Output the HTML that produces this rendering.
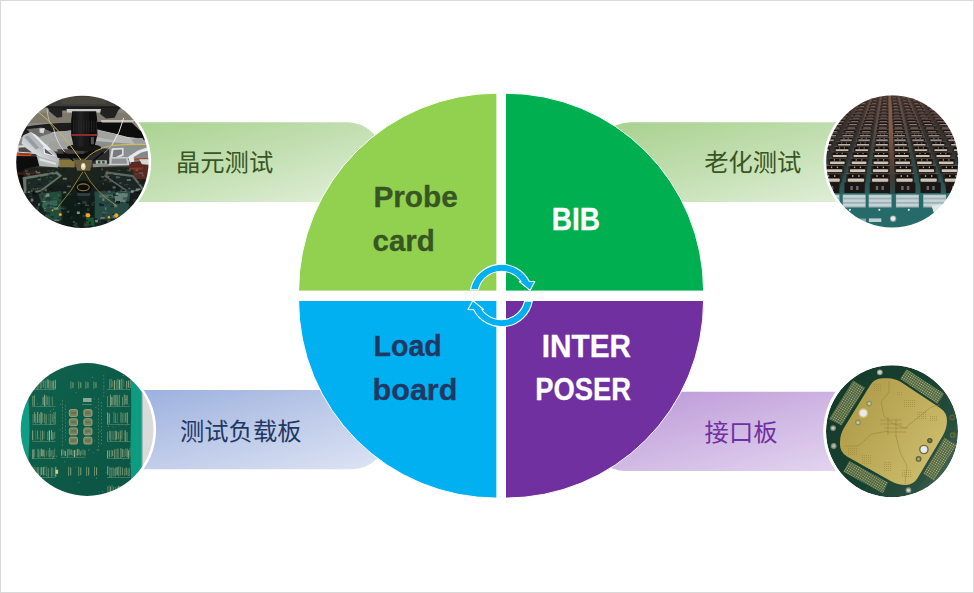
<!DOCTYPE html>
<html lang="zh-CN">
<head>
<meta charset="utf-8">
<title>测试板卡</title>
<style>
html,body{margin:0;padding:0;background:#fff;}
body{width:974px;height:593px;overflow:hidden;position:relative;font-family:"Liberation Sans","Noto Sans CJK SC",sans-serif;}
svg{position:absolute;left:0;top:0;display:block;}
.en{font-family:"Liberation Sans",sans-serif;font-weight:bold;font-size:29px;}
.cn{font-family:"Liberation Sans","Noto Sans CJK SC",sans-serif;font-size:24.3px;}
</style>
</head>
<body>
<svg width="974" height="593" viewBox="0 0 974 593">
<defs>
<linearGradient id="gGreen" x1="0" y1="0" x2="1" y2="1">
  <stop offset="0" stop-color="#a6d08c"/>
  <stop offset="0.5" stop-color="#c3dfb2"/>
  <stop offset="1" stop-color="#e4f1dc"/>
</linearGradient>
<linearGradient id="gBlue" x1="0" y1="0" x2="1" y2="1">
  <stop offset="0" stop-color="#97addd"/>
  <stop offset="0.5" stop-color="#bcc9e8"/>
  <stop offset="1" stop-color="#dde4f4"/>
</linearGradient>
<linearGradient id="gPurple" x1="0" y1="0" x2="1" y2="1">
  <stop offset="0" stop-color="#b995d6"/>
  <stop offset="0.5" stop-color="#d0b8e4"/>
  <stop offset="1" stop-color="#e6d9f1"/>
</linearGradient>
<clipPath id="cp1"><circle cx="82.4" cy="161.9" r="66.2"/></clipPath>
<clipPath id="cp2"><circle cx="892.2" cy="161.6" r="66"/></clipPath>
<clipPath id="cp3"><circle cx="87.1" cy="429.5" r="66.4"/></clipPath>
<clipPath id="cp4"><circle cx="892" cy="431.3" r="66"/></clipPath>
<filter id="soft" x="-5%" y="-5%" width="110%" height="110%"><feGaussianBlur stdDeviation="0.55"/></filter>
<filter id="soft2" x="-5%" y="-5%" width="110%" height="110%"><feGaussianBlur stdDeviation="0.9"/></filter>
<linearGradient id="p4disk" x1="0" y1="0" x2="1" y2="0.6">
  <stop offset="0" stop-color="#14382a"/>
  <stop offset="0.6" stop-color="#184030"/>
  <stop offset="0.92" stop-color="#2a5040"/>
  <stop offset="1" stop-color="#3d5f50"/>
</linearGradient>
<linearGradient id="p4gold" x1="0" y1="0.2" x2="1" y2="0.8">
  <stop offset="0" stop-color="#ad9a48"/>
  <stop offset="0.45" stop-color="#bcaa58"/>
  <stop offset="1" stop-color="#cfbf6f"/>
</linearGradient>
<pattern id="p4dots0" width="2.2" height="2.2" patternUnits="userSpaceOnUse" patternTransform="rotate(33)">
  <rect width="2.2" height="2.2" fill="#32523a"/><rect x="0.4" y="0.4" width="1.35" height="1.35" fill="#bdb877"/>
</pattern>
<pattern id="p4dots1" width="2.2" height="2.2" patternUnits="userSpaceOnUse" patternTransform="rotate(33)">
  <rect width="2.2" height="2.2" fill="#32523a"/><rect x="0.4" y="0.4" width="1.35" height="1.35" fill="#c6c07e"/>
</pattern>
<linearGradient id="p3pcb" x1="0" y1="0" x2="1" y2="1">
  <stop offset="0" stop-color="#136350"/>
  <stop offset="0.5" stop-color="#0f5a47"/>
  <stop offset="1" stop-color="#0d5341"/>
</linearGradient>
<linearGradient id="p2base" x1="0" y1="0" x2="0" y2="1">
  <stop offset="0" stop-color="#4a3630"/>
  <stop offset="0.4" stop-color="#33302e"/>
  <stop offset="1" stop-color="#243e3d"/>
</linearGradient>
<linearGradient id="p2haze" x1="0" y1="0" x2="0" y2="1">
  <stop offset="0" stop-color="#5a4038" stop-opacity="0.45"/>
  <stop offset="1" stop-color="#5a4038" stop-opacity="0"/>
</linearGradient>
<filter id="soft3" x="-5%" y="-5%" width="110%" height="110%"><feGaussianBlur stdDeviation="0.7"/></filter>
<linearGradient id="p2gap" gradientUnits="userSpaceOnUse" x1="0" y1="94" x2="0" y2="194">
  <stop offset="0" stop-color="#6f5b55"/>
  <stop offset="0.35" stop-color="#5a504d"/>
  <stop offset="0.6" stop-color="#3a4645"/>
  <stop offset="0.8" stop-color="#2a4f4d"/>
  <stop offset="1" stop-color="#2f5e5b"/>
</linearGradient>
<linearGradient id="p2gapc" gradientUnits="userSpaceOnUse" x1="0" y1="94" x2="0" y2="194">
  <stop offset="0" stop-color="#96705f"/>
  <stop offset="0.35" stop-color="#86604f"/>
  <stop offset="0.65" stop-color="#5f463c"/>
  <stop offset="0.85" stop-color="#3f3c38"/>
  <stop offset="1" stop-color="#2c4a48"/>
</linearGradient>
<linearGradient id="p1low" x1="0" y1="0" x2="0" y2="1">
  <stop offset="0" stop-color="#20251f"/>
  <stop offset="0.5" stop-color="#161d1a"/>
  <stop offset="1" stop-color="#142420"/>
</linearGradient>
<linearGradient id="p1lens" x1="0" y1="0" x2="1" y2="0">
  <stop offset="0" stop-color="#0c0c0c"/>
  <stop offset="0.35" stop-color="#232323"/>
  <stop offset="0.6" stop-color="#141414"/>
  <stop offset="1" stop-color="#070707"/>
</linearGradient>
<linearGradient id="p1arm" x1="0" y1="1" x2="1" y2="0">
  <stop offset="0" stop-color="#9ea2a5"/>
  <stop offset="0.3" stop-color="#d9dcde"/>
  <stop offset="0.55" stop-color="#b2b6b9"/>
  <stop offset="0.8" stop-color="#e4e6e8"/>
  <stop offset="1" stop-color="#b9bcbf"/>
</linearGradient>
</defs>
<rect width="974" height="593" fill="#fff"/>
<!-- label bands -->
<path d="M100 122.3 H347 A37 37 0 0 1 384 159.3 V202 H100 Z" fill="url(#gGreen)"/>
<path d="M880 122.3 H631 A37 37 0 0 0 594 159.3 V202 H880 Z" fill="url(#gGreen)"/>
<path d="M100 390 H387 V434.2 A35 35 0 0 1 352 469.2 H100 Z" fill="url(#gBlue)"/>
<path d="M880 391.8 H594 V440 A31 31 0 0 0 625 471 H880 Z" fill="url(#gPurple)"/>
<!-- main four-part circle (four quarter pies) -->
<g stroke="#fff" stroke-width="1">
<path d="M496.9 291.1 H298.6 A198.3 197.9 0 0 1 496.9 93.2 Z" fill="#92d050"/>
<path d="M505.5 291.1 V93.2 A198.1 197.9 0 0 1 703.6 291.1 Z" fill="#00b050"/>
<path d="M496.9 300.5 V498.1 A198.3 197.6 0 0 1 298.6 300.5 Z" fill="#00b0f0"/>
<path d="M505.5 300.5 H703.6 A198.1 197.6 0 0 1 505.5 498.1 Z" fill="#7030a0"/>
</g>
<!-- cycle arrows -->
<g fill="#00b0f0" stroke="#fff" stroke-width="1.1" stroke-linejoin="round">
<path d="M470.5 289.7 A31.4 31.4 0 0 1 529.2 281.3 L534.8 281.5 L530 290.4 L519.2 281.5 L521 281.5 A23.8 23.8 0 0 0 478.3 289.7 Z"/>
<path d="M532.3 301.3 A31.4 31.4 0 0 1 473.6 309.7 L468 309.5 L472.8 300.6 L483.6 309.5 L481.8 309.5 A23.8 23.8 0 0 0 524.5 301.3 Z"/>
</g>
<!-- photo 1 : wafer probe station -->
<g>
<circle cx="82.4" cy="161.9" r="68.8" fill="#fff"/>
<g clip-path="url(#cp1)"><g filter="url(#soft3)">
<rect x="14" y="94" width="140" height="70" fill="#8b887e"/>
<rect x="14" y="160" width="140" height="72" fill="url(#p1low)"/>
<path d="M14.0 112.7 L154.0 112.7 L154.0 122.7 L14.0 122.7Z" fill="#7f7a6e" />
<path d="M19.7 127.8 Q84.0 115.6 149.1 132.8 L149.1 141.4 Q84.0 122.7 19.7 137.1 Z" fill="#1b1b1b"/>
<path d="M22.6 137.1 Q84.0 122.7 147.7 141.4 L147.7 151.5 L22.6 151.5 Z" fill="#b3b4b1"/>
<path d="M94.5 129.9 L129.0 135.7 L131.9 144.3 L97.4 142.9Z" fill="#cfd0ce" />
<path d="M37.0 135.7 L71.5 129.9 L71.5 141.4 L42.7 144.3Z" fill="#a4a5a2" />
<path d="M14.0 148.6 L154.0 148.6 L154.0 164.0 L14.0 164.0Z" fill="#3a3b3a" />
<path d="M49.9 141.4 L117.5 141.4 L123.2 151.5 L45.6 151.5Z" fill="#9fa09c" />
<path d="M57.1 149.3 L111.7 149.3 L106.0 164.0 L62.9 164.0Z" fill="#45423e" />
<path d="M14.0 94.0 L154.0 94.0 L154.0 102.6 L123.2 107.7 L45.6 107.7 L14.0 102.6Z" fill="#3c3e3b" />
<path d="M61.4 96.9 L106.0 96.9 L106.0 104.1 L61.4 104.1Z" fill="#4f4f40" opacity="0.6"/>
<path d="M46.3 106.2 L123.2 106.2 L117.5 110.5 L49.9 110.5Z" fill="#1d1d1d" />
<path d="M48.5 107.7 L62.2 107.7 L62.2 117.0 L57.1 117.7 L49.2 111.2Z" fill="#232323" />
<path d="M100.2 107.7 L119.6 107.7 L114.6 117.7 L106.0 118.4 L100.2 114.1Z" fill="#232323" />
<path d="M66.5 109.1 L101.0 109.1 L100.2 112.4 L67.2 112.4Z" fill="#c9c9c7" />
<path d="M14.0 158.6 L154.0 158.6 L154.0 167.2 L14.0 167.2Z" fill="#3d3f3c" />
<path d="M35.6 160.0 L74.4 160.0 L73.7 167.2 L38.4 165.5Z" fill="#8f938f" />
<path d="M92.3 160.0 L130.4 160.0 L129.0 165.5 L93.1 167.2Z" fill="#8a8e89" />
<path d="M26.6 129.3 L41.8 127.6 L52.8 132.6 L39.3 136.9 L30.0 132.6Z" fill="#6d6d69" />
<path d="M39.3 128.4 L44.8 128.0 L43.5 133.5 L39.7 132.6Z" fill="#d8d8d4" />
<path d="M23.3 135.2 L30.9 131.8 L60.0 157.1 L58.3 162.6 L39.3 157.1 L21.6 143.2Z" fill="url(#p1arm)" />
<path d="M30.9 132.6 L35.1 134.3 L51.1 149.5 L47.7 150.4Z" fill="#f2f4f5" opacity="0.85"/>
<path d="M24.1 136.9 L28.3 135.6 L39.3 147.8 L35.9 149.5Z" fill="#8f9396" opacity="0.8"/>
<path d="M36.3 155.4 L58.7 162.2 L57.8 167.6 L39.3 166.0 L35.5 159.6Z" fill="#b4b8b8" />
<path d="M39.3 157.9 L56.2 163.0 L55.7 164.7 L39.3 160.5Z" fill="#dfe1e1" />
<path d="M43.1 146.3 L55.9 156.4 L44.2 153.9Z" fill="#f1f2f2" />
<path d="M44.5 148.2 L53.6 155.4 L45.2 152.9Z" fill="#56595b" />
<path d="M16.5 145.7 L25.4 144.9 L36.3 152.0 L35.5 154.1 L16.5 152.5Z" fill="#d4d6d7" />
<path d="M18.6 147.7 L25.0 147.2 L32.1 152.5 L18.6 151.8Z" fill="#4b4d4d" />
<path d="M15.7 153.1 L31.3 153.6 L31.3 156.1 L15.7 156.1Z" fill="#c8502c" />
<path d="M14.0 156.3 L36.8 156.4 L39.3 166.0 L14.0 170.6Z" fill="#0b0b0b" />
<path d="M19.1 153.6 L30.0 153.9 L30.0 154.7 L19.1 154.6Z" fill="#2a1a14" opacity="0.6"/>
<path d="M95.8 122.1 L131.2 122.1 L143.4 133.9 L142.6 138.1 L127.8 136.9 L96.6 128.9Z" fill="#0d0d0d" />
<path d="M100.9 120.0 L134.6 120.0 L133.3 122.4 L101.7 122.4Z" fill="#c6c2b6" />
<path d="M95.4 129.1 L116.9 134.2 L131.2 139.2 L142.2 137.9 L146.4 144.5 L111.8 145.3 L95.0 141.1Z" fill="#b9b9b6" />
<path d="M95.8 129.7 L116.0 134.5 L113.5 140.2 L95.4 136.9Z" fill="#a2a2a0" />
<path d="M131.2 139.6 L142.2 138.0 L146.0 144.0 L134.6 144.0Z" fill="#9a9da0" />
<path d="M95.0 141.1 L146.4 144.9 L146.8 148.7 L127.8 157.1 L109.3 163.8 L95.8 155.4Z" fill="#8d9093" />
<path d="M111.8 148.2 L123.6 147.8 L123.6 155.4 L109.3 162.2Z" fill="#dcdedf" />
<path d="M113.5 149.9 L121.9 149.5 L121.9 154.1 L112.2 158.8Z" fill="#77797c" />
<path d="M109.3 157.1 L127.8 157.1 L129.5 165.1 L108.5 165.1Z" fill="#c9cbcc" />
<path d="M111.8 158.8 L126.2 158.4 L127.0 163.8 L111.4 163.8Z" fill="#8f9294" />
<path d="M127.8 157.1 L138.0 150.4 L146.8 147.4 L149.3 149.9 L149.3 168.1 L131.2 168.1 L130.0 162.2Z" fill="#e6e7e7" />
<path d="M133.7 157.1 L141.3 152.5 L148.1 150.8 L148.5 167.2 L134.6 167.2Z" fill="#85888b" />
<path d="M134.6 158.4 L148.5 157.9 L148.5 160.1 L134.6 160.3Z" fill="#a5472f" />
<path d="M129.5 163.8 L149.3 163.8 L149.3 170.6 L129.5 170.6Z" fill="#5a2a22" />
<path d="M84.0 147.8 L109.3 147.8 L109.3 163.8 L84.0 163.8Z" fill="#2b2c2c" />
<path d="M95.0 141.5 L111.8 145.3 L109.3 148.7 L94.1 147.8Z" fill="#8a8c8e" />
<path d="M95.8 160.3 L106.8 160.3 L106.8 163.8 L95.8 163.8Z" fill="#b9c2b4" />
<path d="M97.9 160.9 L100.4 160.9 L100.4 163.4 L97.9 163.4Z" fill="#3b4a3c" />
<path d="M102.1 160.9 L104.7 160.9 L104.7 163.4 L102.1 163.4Z" fill="#3b4a3c" />
<path d="M56.2 153.7 L84.0 153.7 L95.0 147.8 L95.0 153.7 L84.0 158.4 L57.8 157.9Z" fill="#111111" />
<path d="M59.5 159.6 L74.7 159.6 L74.7 167.2 L59.5 167.2Z" fill="#85763e" />
<ellipse cx="84.1" cy="147.5" rx="17" ry="3.6" fill="#161616"/>
<path d="M72.2 111.2 L96.2 111.2 L97.1 119.9 L97.4 135.0 L94.5 146.5 L73.7 146.5 L71.1 135.0 L71.2 119.9Z" fill="url(#p1lens)" />
<path d="M71.2 134.1 L97.4 134.1 L97.2 136.0 L71.4 136.0Z" fill="#8e2e2a" />
<path d="M72.9 120.6 L73.8 120.6 L73.8 132.1 L72.9 132.1Z" fill="#2c2c2c" opacity="0.8"/>
<path d="M75.5 120.6 L76.4 120.6 L76.4 132.1 L75.5 132.1Z" fill="#2c2c2c" opacity="0.8"/>
<path d="M78.1 120.6 L79.0 120.6 L79.0 132.1 L78.1 132.1Z" fill="#2c2c2c" opacity="0.8"/>
<path d="M80.7 120.6 L81.6 120.6 L81.6 132.1 L80.7 132.1Z" fill="#2c2c2c" opacity="0.8"/>
<path d="M83.3 120.6 L84.1 120.6 L84.1 132.1 L83.3 132.1Z" fill="#2c2c2c" opacity="0.8"/>
<path d="M85.9 120.6 L86.7 120.6 L86.7 132.1 L85.9 132.1Z" fill="#2c2c2c" opacity="0.8"/>
<path d="M88.5 120.6 L89.3 120.6 L89.3 132.1 L88.5 132.1Z" fill="#2c2c2c" opacity="0.8"/>
<path d="M91.0 120.6 L91.9 120.6 L91.9 132.1 L91.0 132.1Z" fill="#2c2c2c" opacity="0.8"/>
<path d="M93.6 120.6 L94.5 120.6 L94.5 132.1 L93.6 132.1Z" fill="#2c2c2c" opacity="0.8"/>
<path d="M96.2 120.6 L97.1 120.6 L97.1 132.1 L96.2 132.1Z" fill="#2c2c2c" opacity="0.8"/>
<path d="M90.9 137.1 L93.9 137.1 L93.9 144.3 L90.9 144.3Z" fill="#8a8a8a" opacity="0.55"/>
<path d="M63.7 152.0 L73.0 160.5" fill="none" stroke="#0a0a0a" stroke-width="1.4" stroke-linecap="round" stroke-linejoin="round" />
<path d="M103.0 152.7 L93.3 160.5" fill="none" stroke="#0a0a0a" stroke-width="1.5" stroke-linecap="round" stroke-linejoin="round" />
<path d="M53.6 128.4 Q56.2 141.9 64.6 152.0" fill="none" stroke="#e0e0da" stroke-width="0.9" stroke-linecap="round" opacity="0.9"/>
<path d="M47.1 109.1 Q47.8 122.7 53.6 128.4" fill="none" stroke="#d8d8d2" stroke-width="0.8" stroke-linecap="round" opacity="0.8"/>
<path d="M123.6 118.3 Q120.3 132.6 111.8 145.3" fill="none" stroke="#ecece6" stroke-width="1.0" stroke-linecap="round" opacity="0.95"/>
<path d="M111.8 145.3 Q107.6 150.4 104.2 152.9" fill="none" stroke="#d0d0ca" stroke-width="0.8" stroke-linecap="round" opacity="0.7"/>
<path d="M38.4 112.0 Q59.5 128.4 81.0 160.1" fill="none" stroke="#cdb84a" stroke-width="1.0" stroke-linecap="round" />
<path d="M84.0 160.5 Q94.1 148.7 111.8 145.5" fill="none" stroke="#cdb84a" stroke-width="0.9" stroke-linecap="round" />
<path d="M111.8 145.5 Q131.2 144.0 148.1 144.5" fill="none" stroke="#d2be50" stroke-width="1.1" stroke-linecap="round" />
<path d="M74.4 160.0 L92.3 160.0 L90.2 170.8 L77.2 170.8Z" fill="#6b5f40" />
<ellipse cx="83.3" cy="166.5" rx="2.3" ry="3.4" fill="#e9d9a4"/>
<ellipse cx="83.3" cy="165.7" rx="1.2" ry="1.7" fill="#fffbe8"/>
<path d="M130.4 162.2 L149.1 160.0 L152.0 180.1 L134.7 178.7Z" fill="#5a2a22" />
<path d="M139.1 159.3 L152.0 159.3 L152.0 165.0 L141.9 164.3Z" fill="#d6d6cf" />
<path d="M129.0 167.9 L143.4 167.2 L143.4 169.2 L129.0 169.8Z" fill="#8a3426" />
<path d="M14.0 165.7 L24.1 167.2 L22.6 193.1 L14.0 193.1Z" fill="#0e0e0e" />
<path d="M16.9 172.6 L41.3 171.5 L41.3 173.7 L16.9 174.7Z" fill="#5a1c18" opacity="0.8"/>
<path d="M22.6 177.2 L57.1 171.2 L62.2 175.8 L40.6 191.9 L24.1 193.3Z" fill="#66756a" />
<path d="M26.2 179.3 L56.0 174.1 L58.8 176.2 L39.9 190.2 L26.6 191.6Z" fill="#1f2b27" />
<path d="M106.0 171.2 L133.3 175.1 L144.1 188.7 L129.0 193.3 L103.8 176.1Z" fill="#5e695f" />
<path d="M108.1 174.1 L132.2 177.0 L141.2 188.3 L129.0 191.6 L107.1 176.5Z" fill="#1e2825" />
<ellipse cx="83.3" cy="187.3" rx="8.5" ry="6.5" fill="#0d0f0e"/>
<ellipse cx="83.3" cy="187.3" rx="6" ry="3.4" fill="none" stroke="#8a7a3e" stroke-width="1.1"/>
<path d="M77.2 193.1 L90.2 193.1 L88.7 203.1 L78.7 203.1Z" fill="#3f5a56" opacity="0.6"/>
<path d="M38.4 193.8 L61.4 190.9 L61.4 220.4 L47.1 220.4Z" fill="#234d3e" />
<path d="M39.9 201.7 L57.1 200.2 L57.1 207.4 L42.7 208.2Z" fill="#4b8672" opacity="0.45"/>
<path d="M94.5 191.6 L130.4 190.9 L127.6 217.5 L94.5 220.4Z" fill="#284b44" />
<path d="M114.6 193.3 L127.8 193.3 L126.8 202.0 L114.6 202.0Z" fill="#8fa39c" opacity="0.6"/>
<path d="M98.8 194.5 L113.2 194.5 L113.2 197.7 L98.8 197.7Z" fill="#6f978b" opacity="0.4"/>
<path d="M62.9 195.9 L94.5 195.9 L94.5 229.0 L62.9 229.0Z" fill="#0f1a18" opacity="0.85"/>
<path d="M85.9 217.5 L94.5 217.5 L94.5 227.6 L85.9 227.6Z" fill="#1f6a3c" opacity="0.7"/>
<rect x="76.8" y="211.5" width="3" height="2.5" fill="#99aaa2" opacity="0.83"/>
<rect x="42.7" y="221.8" width="3" height="3" fill="#16211d" opacity="0.49"/>
<rect x="57.4" y="191.8" width="5" height="1" fill="#20382f" opacity="0.89"/>
<rect x="143.4" y="215.5" width="4" height="1.5" fill="#20382f" opacity="0.46"/>
<rect x="42.7" y="198.2" width="1.5" height="2.5" fill="#3d5d4d" opacity="0.65"/>
<rect x="127.5" y="209.8" width="5" height="2" fill="#7c9186" opacity="0.45"/>
<rect x="29.0" y="215.5" width="3" height="3" fill="#0b1210" opacity="0.77"/>
<rect x="59.0" y="197.6" width="2.5" height="1" fill="#0b1210" opacity="0.70"/>
<rect x="32.0" y="192.5" width="2.5" height="2.5" fill="#0b1210" opacity="0.88"/>
<rect x="128.2" y="188.0" width="2" height="1" fill="#7c9186" opacity="0.62"/>
<rect x="110.2" y="205.6" width="4" height="1.5" fill="#101a2a" opacity="0.57"/>
<rect x="29.3" y="202.0" width="3" height="1" fill="#16211d" opacity="0.56"/>
<rect x="31.1" y="190.5" width="3" height="1.5" fill="#101a2a" opacity="0.70"/>
<rect x="113.1" y="193.5" width="5" height="2.5" fill="#0b1210" opacity="0.63"/>
<rect x="146.7" y="188.0" width="4" height="2" fill="#0b1210" opacity="0.54"/>
<rect x="69.3" y="223.9" width="5" height="3" fill="#0b1210" opacity="0.47"/>
<rect x="37.0" y="206.5" width="1.5" height="3" fill="#3d5d4d" opacity="0.82"/>
<rect x="45.1" y="214.7" width="1.5" height="3" fill="#3d5d4d" opacity="0.62"/>
<rect x="76.9" y="228.3" width="3" height="3" fill="#16211d" opacity="0.84"/>
<rect x="41.8" y="194.5" width="2" height="3" fill="#1f2f2a" opacity="0.78"/>
<rect x="38.6" y="214.4" width="4" height="1.5" fill="#101a2a" opacity="0.88"/>
<rect x="132.7" y="213.3" width="3" height="1" fill="#0b1210" opacity="0.50"/>
<rect x="114.2" y="204.4" width="3" height="3" fill="#7c9186" opacity="0.58"/>
<rect x="40.8" y="218.3" width="1.5" height="1.5" fill="#1f2f2a" opacity="0.67"/>
<rect x="103.0" y="213.9" width="1.5" height="2" fill="#1f2f2a" opacity="0.86"/>
<rect x="44.5" y="188.7" width="2.5" height="2.5" fill="#7c9186" opacity="0.56"/>
<rect x="24.1" y="199.8" width="4" height="3" fill="#16211d" opacity="0.49"/>
<rect x="36.0" y="206.9" width="2.5" height="3" fill="#20382f" opacity="0.88"/>
<rect x="94.7" y="226.8" width="3" height="2" fill="#3a3f3a" opacity="0.59"/>
<rect x="22.4" y="213.1" width="1.5" height="2.5" fill="#0b1210" opacity="0.78"/>
<rect x="59.5" y="230.0" width="1.5" height="2.5" fill="#99aaa2" opacity="0.62"/>
<rect x="23.8" y="227.3" width="5" height="1.5" fill="#3d5d4d" opacity="0.61"/>
<rect x="107.1" y="225.8" width="3" height="1" fill="#7c9186" opacity="0.71"/>
<rect x="99.2" y="204.1" width="4" height="1" fill="#20382f" opacity="0.48"/>
<rect x="29.8" y="192.9" width="2.5" height="2.5" fill="#3a3f3a" opacity="0.60"/>
<rect x="139.5" y="217.2" width="3" height="2.5" fill="#7c9186" opacity="0.83"/>
<rect x="28.9" y="219.5" width="1.5" height="2" fill="#20382f" opacity="0.49"/>
<rect x="20.9" y="228.2" width="1.5" height="2.5" fill="#20382f" opacity="0.75"/>
<rect x="81.2" y="225.6" width="2.5" height="2" fill="#16211d" opacity="0.76"/>
<rect x="44.3" y="195.1" width="2.5" height="2.5" fill="#7c9186" opacity="0.85"/>
<rect x="60.5" y="216.0" width="2" height="2.5" fill="#1f2f2a" opacity="0.85"/>
<rect x="68.0" y="212.5" width="2.5" height="1.5" fill="#16211d" opacity="0.51"/>
<rect x="63.6" y="225.6" width="1.5" height="1" fill="#2c4638" opacity="0.82"/>
<rect x="32.7" y="207.8" width="2" height="2.5" fill="#587264" opacity="0.73"/>
<rect x="82.2" y="201.2" width="4" height="2.5" fill="#3d5d4d" opacity="0.48"/>
<rect x="22.1" y="224.7" width="1.5" height="2" fill="#20382f" opacity="0.61"/>
<rect x="102.4" y="211.7" width="5" height="1.5" fill="#587264" opacity="0.65"/>
<rect x="21.2" y="222.8" width="2" height="1.5" fill="#0b1210" opacity="0.89"/>
<rect x="33.0" y="192.6" width="4" height="2" fill="#0b1210" opacity="0.76"/>
<rect x="43.9" y="208.0" width="2" height="1" fill="#7c9186" opacity="0.69"/>
<rect x="22.7" y="197.5" width="2.5" height="3" fill="#3a3f3a" opacity="0.88"/>
<rect x="83.1" y="229.9" width="2" height="2.5" fill="#3a3f3a" opacity="0.86"/>
<rect x="29.3" y="227.2" width="5" height="2.5" fill="#16211d" opacity="0.65"/>
<rect x="43.6" y="225.3" width="1.5" height="2.5" fill="#99aaa2" opacity="0.71"/>
<rect x="132.3" y="221.5" width="2.5" height="2.5" fill="#3d5d4d" opacity="0.74"/>
<rect x="44.6" y="218.3" width="5" height="1" fill="#1f2f2a" opacity="0.56"/>
<rect x="58.3" y="229.0" width="2.5" height="2" fill="#3a3f3a" opacity="0.84"/>
<rect x="63.3" y="191.5" width="3" height="2" fill="#99aaa2" opacity="0.64"/>
<rect x="53.8" y="226.6" width="2" height="1" fill="#587264" opacity="0.81"/>
<rect x="40.5" y="202.1" width="2" height="2.5" fill="#16211d" opacity="0.90"/>
<rect x="135.1" y="209.8" width="5" height="2.5" fill="#7c9186" opacity="0.71"/>
<rect x="107.6" y="219.8" width="3" height="3" fill="#99aaa2" opacity="0.58"/>
<rect x="112.7" y="214.8" width="4" height="3" fill="#99aaa2" opacity="0.57"/>
<rect x="105.3" y="228.1" width="4" height="1.5" fill="#2c4638" opacity="0.83"/>
<rect x="143.9" y="210.0" width="4" height="2.5" fill="#1f2f2a" opacity="0.63"/>
<rect x="32.9" y="188.2" width="3" height="1" fill="#99aaa2" opacity="0.89"/>
<rect x="85.1" y="204.8" width="4" height="1" fill="#7c9186" opacity="0.49"/>
<rect x="39.7" y="227.1" width="3" height="2.5" fill="#587264" opacity="0.57"/>
<rect x="74.4" y="222.3" width="3" height="3" fill="#3d5d4d" opacity="0.50"/>
<rect x="51.8" y="217.5" width="1.5" height="1" fill="#1f2f2a" opacity="0.52"/>
<rect x="19.5" y="199.9" width="5" height="2" fill="#1f2f2a" opacity="0.73"/>
<rect x="31.6" y="218.7" width="1.5" height="3" fill="#20382f" opacity="0.56"/>
<rect x="43.7" y="210.3" width="3" height="1" fill="#587264" opacity="0.73"/>
<rect x="125.3" y="213.9" width="4" height="1.5" fill="#101a2a" opacity="0.69"/>
<rect x="46.4" y="197.1" width="4" height="3" fill="#20382f" opacity="0.84"/>
<rect x="48.2" y="219.1" width="2.5" height="1.5" fill="#3d5d4d" opacity="0.72"/>
<rect x="133.8" y="196.2" width="2" height="1" fill="#16211d" opacity="0.85"/>
<rect x="35.2" y="191.7" width="3" height="1" fill="#587264" opacity="0.82"/>
<rect x="72.8" y="221.2" width="2" height="1.5" fill="#587264" opacity="0.73"/>
<rect x="121.9" y="192.0" width="4" height="2" fill="#3d5d4d" opacity="0.50"/>
<rect x="83.7" y="219.8" width="4" height="1.5" fill="#0b1210" opacity="0.67"/>
<rect x="21.2" y="220.0" width="4" height="3" fill="#20382f" opacity="0.67"/>
<rect x="42.6" y="192.8" width="2" height="1.5" fill="#2c4638" opacity="0.87"/>
<rect x="30.4" y="190.6" width="5" height="2.5" fill="#0b1210" opacity="0.79"/>
<rect x="60.5" y="207.6" width="4" height="2" fill="#587264" opacity="0.54"/>
<rect x="66.5" y="214.6" width="1.5" height="1.5" fill="#16211d" opacity="0.63"/>
<rect x="64.7" y="203.5" width="2" height="3" fill="#16211d" opacity="0.49"/>
<rect x="121.0" y="201.6" width="1.5" height="2.5" fill="#20382f" opacity="0.72"/>
<rect x="83.6" y="229.3" width="2.5" height="2" fill="#0b1210" opacity="0.78"/>
<rect x="119.1" y="222.2" width="3" height="1.5" fill="#3d5d4d" opacity="0.85"/>
<rect x="108.3" y="220.2" width="2" height="2.5" fill="#1f2f2a" opacity="0.78"/>
<rect x="27.2" y="202.4" width="3" height="1" fill="#0b1210" opacity="0.85"/>
<rect x="146.8" y="225.9" width="1.5" height="1.5" fill="#2c4638" opacity="0.88"/>
<rect x="104.6" y="202.2" width="5" height="2.5" fill="#20382f" opacity="0.53"/>
<rect x="28.0" y="209.6" width="3" height="1.5" fill="#3a3f3a" opacity="0.50"/>
<rect x="69.4" y="212.1" width="1.5" height="3" fill="#0b1210" opacity="0.78"/>
<rect x="51.4" y="204.9" width="1.5" height="1.5" fill="#101a2a" opacity="0.62"/>
<rect x="30.8" y="198.5" width="2.5" height="3" fill="#99aaa2" opacity="0.68"/>
<rect x="143.7" y="211.9" width="1.5" height="2.5" fill="#101a2a" opacity="0.48"/>
<rect x="95.7" y="219.9" width="1.5" height="2.5" fill="#16211d" opacity="0.62"/>
<rect x="144.1" y="223.9" width="4" height="3" fill="#20382f" opacity="0.48"/>
<rect x="140.9" y="205.7" width="4" height="2.5" fill="#20382f" opacity="0.59"/>
<rect x="87.0" y="208.3" width="2.5" height="3" fill="#2c4638" opacity="0.75"/>
<rect x="115.2" y="189.1" width="2" height="3" fill="#0b1210" opacity="0.73"/>
<rect x="71.1" y="216.7" width="1.5" height="2" fill="#3a3f3a" opacity="0.63"/>
<rect x="93.6" y="218.4" width="2.5" height="1" fill="#1f2f2a" opacity="0.64"/>
<rect x="80.1" y="228.9" width="2" height="1" fill="#99aaa2" opacity="0.49"/>
<rect x="123.3" y="226.2" width="2" height="1.5" fill="#20382f" opacity="0.77"/>
<rect x="24.6" y="205.5" width="1.5" height="1.5" fill="#0b1210" opacity="0.61"/>
<rect x="38.1" y="203.3" width="2" height="2.5" fill="#7c9186" opacity="0.72"/>
<rect x="101.1" y="216.6" width="2.5" height="3" fill="#16211d" opacity="0.88"/>
<rect x="113.5" y="198.0" width="1.5" height="3" fill="#2c4638" opacity="0.80"/>
<rect x="99.2" y="203.1" width="2.5" height="3" fill="#101a2a" opacity="0.78"/>
<rect x="108.9" y="196.0" width="2.5" height="1.5" fill="#1f2f2a" opacity="0.88"/>
<rect x="83.3" y="215.4" width="2" height="1" fill="#101a2a" opacity="0.48"/>
<rect x="53.2" y="205.9" width="4" height="1" fill="#0b1210" opacity="0.55"/>
<rect x="54.2" y="219.7" width="5" height="1.5" fill="#99aaa2" opacity="0.56"/>
<rect x="145.6" y="208.3" width="2.5" height="1.5" fill="#3d5d4d" opacity="0.60"/>
<rect x="114.8" y="223.2" width="1.5" height="1" fill="#7c9186" opacity="0.81"/>
<rect x="99.1" y="220.3" width="2" height="2.5" fill="#587264" opacity="0.79"/>
<rect x="38.0" y="223.1" width="4" height="2" fill="#2c4638" opacity="0.70"/>
<rect x="115.0" y="226.7" width="3" height="2" fill="#20382f" opacity="0.49"/>
<rect x="131.8" y="191.3" width="1.5" height="2.5" fill="#20382f" opacity="0.71"/>
<rect x="124.0" y="207.5" width="1.5" height="1" fill="#2c4638" opacity="0.55"/>
<rect x="104.1" y="191.4" width="2.5" height="2.5" fill="#3a3f3a" opacity="0.79"/>
<rect x="60.6" y="225.0" width="2" height="2" fill="#101a2a" opacity="0.78"/>
<rect x="65.6" y="192.9" width="5" height="2.5" fill="#20382f" opacity="0.72"/>
<rect x="135.3" y="216.9" width="2.5" height="2.5" fill="#99aaa2" opacity="0.81"/>
<rect x="57.6" y="201.3" width="3" height="3" fill="#1f2f2a" opacity="0.49"/>
<rect x="125.7" y="189.0" width="5" height="2.5" fill="#20382f" opacity="0.62"/>
<rect x="43.3" y="211.7" width="3" height="3" fill="#16211d" opacity="0.83"/>
<rect x="116.7" y="225.0" width="2.5" height="1" fill="#1f2f2a" opacity="0.68"/>
<rect x="88.7" y="211.8" width="1.5" height="2.5" fill="#0b1210" opacity="0.71"/>
<rect x="57.7" y="210.9" width="2.5" height="1" fill="#2c4638" opacity="0.78"/>
<rect x="134.9" y="191.6" width="5" height="1.5" fill="#0b1210" opacity="0.79"/>
<rect x="102.4" y="198.3" width="2" height="2.5" fill="#99aaa2" opacity="0.60"/>
<rect x="77.7" y="202.7" width="2.5" height="1.5" fill="#7c9186" opacity="0.67"/>
<rect x="122.6" y="191.0" width="4" height="1" fill="#587264" opacity="0.79"/>
<rect x="146.1" y="202.7" width="1.5" height="2.5" fill="#0b1210" opacity="0.85"/>
<rect x="142.5" y="214.9" width="4" height="2" fill="#3a3f3a" opacity="0.45"/>
<rect x="32.3" y="226.8" width="2" height="1.5" fill="#3a3f3a" opacity="0.52"/>
<rect x="100.6" y="216.7" width="2.5" height="1.5" fill="#587264" opacity="0.64"/>
<rect x="56.0" y="228.7" width="1.5" height="2.5" fill="#2c4638" opacity="0.78"/>
<rect x="57.5" y="194.5" width="2" height="1" fill="#7c9186" opacity="0.46"/>
<rect x="80.5" y="221.6" width="2.5" height="1" fill="#1f2f2a" opacity="0.53"/>
<rect x="46.3" y="197.9" width="5" height="2.5" fill="#20382f" opacity="0.68"/>
<rect x="75.5" y="225.6" width="3" height="1.5" fill="#2c4638" opacity="0.73"/>
<rect x="140.5" y="211.1" width="2.5" height="2.5" fill="#587264" opacity="0.86"/>
<rect x="62.5" y="211.0" width="1.5" height="2.5" fill="#1f2f2a" opacity="0.63"/>
<rect x="46.3" y="193.6" width="3" height="3" fill="#99aaa2" opacity="0.80"/>
<rect x="120.4" y="190.4" width="2" height="1" fill="#7c9186" opacity="0.86"/>
<rect x="72.8" y="224.7" width="3" height="1.5" fill="#3d5d4d" opacity="0.52"/>
<rect x="136.1" y="222.0" width="2" height="3" fill="#2c4638" opacity="0.68"/>
<rect x="24.9" y="212.0" width="2" height="1" fill="#1f2f2a" opacity="0.82"/>
<rect x="128.0" y="222.5" width="1.5" height="2" fill="#2c4638" opacity="0.73"/>
<rect x="86.6" y="225.4" width="5" height="2.5" fill="#0b1210" opacity="0.88"/>
<rect x="94.3" y="224.0" width="2.5" height="1" fill="#1f2f2a" opacity="0.64"/>
<rect x="137.2" y="191.8" width="3" height="1.5" fill="#0b1210" opacity="0.69"/>
<rect x="126.2" y="201.1" width="2.5" height="2.5" fill="#0b1210" opacity="0.70"/>
<rect x="147.6" y="216.0" width="1.5" height="2" fill="#0b1210" opacity="0.76"/>
<rect x="31.7" y="204.6" width="3" height="1" fill="#101a2a" opacity="0.65"/>
<rect x="130.3" y="217.9" width="3" height="1.5" fill="#2c4638" opacity="0.70"/>
<rect x="146.9" y="221.6" width="2" height="3" fill="#16211d" opacity="0.58"/>
<rect x="66.9" y="210.7" width="2.5" height="2" fill="#587264" opacity="0.70"/>
<rect x="29.3" y="195.9" width="3" height="1" fill="#3d5d4d" opacity="0.59"/>
<rect x="53.6" y="207.7" width="5" height="2" fill="#7c9186" opacity="0.82"/>
<rect x="30.0" y="193.9" width="1.5" height="1.5" fill="#101a2a" opacity="0.73"/>
<rect x="41.3" y="196.1" width="1.5" height="2.5" fill="#20382f" opacity="0.77"/>
<rect x="31.1" y="189.4" width="1.5" height="2.5" fill="#587264" opacity="0.80"/>
<rect x="62.4" y="222.6" width="4" height="1.5" fill="#101a2a" opacity="0.54"/>
<rect x="37.2" y="217.0" width="3" height="2" fill="#587264" opacity="0.73"/>
<rect x="112.5" y="213.7" width="2.5" height="1.5" fill="#101a2a" opacity="0.89"/>
<rect x="42.5" y="200.9" width="3" height="1" fill="#99aaa2" opacity="0.62"/>
<rect x="84.2" y="221.1" width="1.5" height="3" fill="#3a3f3a" opacity="0.52"/>
<rect x="117.6" y="225.9" width="4" height="1.5" fill="#3d5d4d" opacity="0.73"/>
<rect x="84.7" y="212.1" width="2" height="3" fill="#3a3f3a" opacity="0.77"/>
<rect x="139.7" y="211.8" width="1.5" height="1.5" fill="#0b1210" opacity="0.51"/>
<rect x="80.1" y="205.5" width="2.5" height="2" fill="#0b1210" opacity="0.87"/>
<rect x="65.0" y="207.4" width="1.5" height="2.5" fill="#3a3f3a" opacity="0.51"/>
<rect x="135.5" y="210.8" width="4" height="1" fill="#99aaa2" opacity="0.86"/>
<rect x="39.9" y="219.3" width="2.5" height="3" fill="#16211d" opacity="0.51"/>
<rect x="125.2" y="200.1" width="2.5" height="1.5" fill="#20382f" opacity="0.61"/>
<rect x="39.6" y="213.1" width="1.5" height="2.5" fill="#0b1210" opacity="0.63"/>
<rect x="119.8" y="227.1" width="5" height="1.5" fill="#2c4638" opacity="0.79"/>
<rect x="128.2" y="226.1" width="4" height="3" fill="#101a2a" opacity="0.81"/>
<rect x="20.1" y="196.4" width="3" height="1" fill="#16211d" opacity="0.69"/>
<rect x="33.4" y="205.0" width="2.5" height="3" fill="#16211d" opacity="0.57"/>
<rect x="91.8" y="201.9" width="5" height="1" fill="#3a3f3a" opacity="0.75"/>
<rect x="36.8" y="228.3" width="4" height="1" fill="#7c9186" opacity="0.61"/>
<rect x="134.6" y="226.3" width="4" height="2.5" fill="#2c4638" opacity="0.67"/>
<rect x="147.3" y="223.2" width="5" height="2.5" fill="#587264" opacity="0.50"/>
<rect x="32.9" y="227.4" width="2.5" height="3" fill="#99aaa2" opacity="0.64"/>
<rect x="135.6" y="201.5" width="1.5" height="2" fill="#3a3f3a" opacity="0.73"/>
<rect x="74.3" y="203.8" width="2.5" height="2" fill="#20382f" opacity="0.84"/>
<rect x="49.8" y="223.5" width="2" height="3" fill="#587264" opacity="0.89"/>
<rect x="136.3" y="210.9" width="5" height="2.5" fill="#1f2f2a" opacity="0.85"/>
<rect x="147.9" y="218.7" width="5" height="2" fill="#99aaa2" opacity="0.64"/>
<rect x="122.7" y="197.3" width="5" height="2.5" fill="#20382f" opacity="0.51"/>
<rect x="27.3" y="209.8" width="2" height="1" fill="#99aaa2" opacity="0.71"/>
<rect x="76.9" y="200.4" width="5" height="2" fill="#0b1210" opacity="0.60"/>
<rect x="26.1" y="225.6" width="4" height="2.5" fill="#16211d" opacity="0.61"/>
<rect x="22.0" y="225.7" width="2.5" height="2" fill="#7c9186" opacity="0.51"/>
<rect x="119.0" y="220.6" width="2" height="1.5" fill="#2c4638" opacity="0.84"/>
<rect x="108.0" y="190.5" width="2.5" height="2" fill="#7c9186" opacity="0.46"/>
<rect x="100.6" y="217.3" width="4" height="1.5" fill="#99aaa2" opacity="0.73"/>
<rect x="42.9" y="225.0" width="1.5" height="1" fill="#2c4638" opacity="0.78"/>
<rect x="58.7" y="225.8" width="3" height="1.5" fill="#3d5d4d" opacity="0.76"/>
<rect x="139.9" y="206.7" width="1.5" height="1.5" fill="#1f2f2a" opacity="0.84"/>
<rect x="33.7" y="217.0" width="2.5" height="1.5" fill="#3a3f3a" opacity="0.56"/>
<rect x="104.4" y="221.2" width="2.5" height="3" fill="#0b1210" opacity="0.72"/>
<rect x="47.8" y="200.6" width="2" height="1.5" fill="#2c4638" opacity="0.51"/>
<rect x="104.8" y="207.4" width="1.5" height="2.5" fill="#99aaa2" opacity="0.48"/>
<rect x="136.0" y="188.3" width="4" height="2" fill="#99aaa2" opacity="0.56"/>
<rect x="122.4" y="191.7" width="2.5" height="1.5" fill="#1f2f2a" opacity="0.53"/>
<rect x="113.4" y="189.2" width="2" height="1" fill="#20382f" opacity="0.66"/>
<rect x="115.6" y="204.2" width="3" height="1" fill="#16211d" opacity="0.48"/>
<rect x="119.0" y="226.2" width="2.5" height="2.5" fill="#0b1210" opacity="0.68"/>
<rect x="83.7" y="223.5" width="5" height="3" fill="#3a3f3a" opacity="0.88"/>
<rect x="40.6" y="220.7" width="2" height="1" fill="#20382f" opacity="0.65"/>
<rect x="104.9" y="211.0" width="2.5" height="1.5" fill="#2c4638" opacity="0.67"/>
<rect x="46.8" y="212.4" width="3" height="2" fill="#0b1210" opacity="0.54"/>
<rect x="144.2" y="190.2" width="3" height="1.5" fill="#3d5d4d" opacity="0.52"/>
<rect x="20.3" y="208.8" width="3" height="3" fill="#7c9186" opacity="0.78"/>
<rect x="129.4" y="189.3" width="1.5" height="1.5" fill="#20382f" opacity="0.74"/>
<rect x="93.3" y="218.3" width="4" height="1.5" fill="#0b1210" opacity="0.59"/>
<rect x="23.5" y="201.2" width="4" height="3" fill="#2c4638" opacity="0.79"/>
<rect x="82.8" y="215.3" width="4" height="1.5" fill="#587264" opacity="0.56"/>
<rect x="38.8" y="217.0" width="4" height="2.5" fill="#0b1210" opacity="0.59"/>
<rect x="78.7" y="217.3" width="5" height="1" fill="#16211d" opacity="0.67"/>
<rect x="117.0" y="229.4" width="2" height="2.5" fill="#99aaa2" opacity="0.79"/>
<rect x="23.1" y="198.1" width="4" height="1.5" fill="#0b1210" opacity="0.63"/>
<rect x="56.7" y="205.8" width="1.5" height="1" fill="#101a2a" opacity="0.90"/>
<rect x="117.2" y="218.8" width="2" height="2" fill="#2c4638" opacity="0.50"/>
<rect x="129.2" y="205.6" width="1.5" height="1.5" fill="#3d5d4d" opacity="0.59"/>
<rect x="141.0" y="226.8" width="2" height="1" fill="#16211d" opacity="0.63"/>
<rect x="102.5" y="190.5" width="2.5" height="3" fill="#3a3f3a" opacity="0.86"/>
<rect x="133.0" y="226.8" width="2" height="2.5" fill="#587264" opacity="0.87"/>
<rect x="45.7" y="203.9" width="1.5" height="1.5" fill="#587264" opacity="0.61"/>
<rect x="41.9" y="211.1" width="2" height="2.5" fill="#1f2f2a" opacity="0.63"/>
<rect x="95.2" y="219.9" width="3" height="2.5" fill="#7c9186" opacity="0.90"/>
<rect x="106.3" y="224.2" width="2" height="3" fill="#587264" opacity="0.64"/>
<rect x="24.1" y="199.6" width="2.5" height="3" fill="#0b1210" opacity="0.68"/>
<rect x="114.4" y="209.5" width="4" height="1.5" fill="#2c4638" opacity="0.50"/>
<rect x="25.4" y="218.6" width="2.5" height="1.5" fill="#1f2f2a" opacity="0.78"/>
<rect x="135.9" y="188.9" width="2.5" height="2.5" fill="#7c9186" opacity="0.49"/>
<rect x="132.7" y="201.7" width="4" height="1" fill="#2c4638" opacity="0.63"/>
<rect x="49.0" y="189.7" width="2" height="3" fill="#20382f" opacity="0.51"/>
<rect x="45.1" y="205.2" width="3" height="3" fill="#3a3f3a" opacity="0.51"/>
<rect x="109.9" y="198.9" width="5" height="2.5" fill="#101a2a" opacity="0.62"/>
<rect x="132.4" y="223.1" width="4" height="2.5" fill="#587264" opacity="0.51"/>
<rect x="85.2" y="202.9" width="1.5" height="2" fill="#3d5d4d" opacity="0.61"/>
<rect x="46.0" y="189.7" width="1.5" height="2.5" fill="#20382f" opacity="0.46"/>
<rect x="117.0" y="219.2" width="5" height="1" fill="#1f2f2a" opacity="0.70"/>
<rect x="63.9" y="193.1" width="2.5" height="1.5" fill="#101a2a" opacity="0.57"/>
<rect x="121.9" y="193.0" width="3" height="1" fill="#7c9186" opacity="0.62"/>
<rect x="60.7" y="208.9" width="2.5" height="1.5" fill="#16211d" opacity="0.87"/>
<rect x="44.2" y="220.3" width="2.5" height="1.5" fill="#99aaa2" opacity="0.49"/>
<rect x="62.4" y="205.7" width="2" height="2.5" fill="#20382f" opacity="0.57"/>
<rect x="128.9" y="201.0" width="1.5" height="2.5" fill="#0b1210" opacity="0.61"/>
<rect x="26.2" y="205.0" width="1.5" height="2.5" fill="#7c9186" opacity="0.83"/>
<rect x="57.0" y="218.2" width="2.5" height="1" fill="#0b1210" opacity="0.47"/>
<rect x="60.1" y="203.7" width="2.5" height="2" fill="#101a2a" opacity="0.85"/>
<rect x="101.5" y="204.1" width="2.5" height="2" fill="#0b1210" opacity="0.71"/>
<rect x="140.5" y="220.4" width="5" height="1" fill="#20382f" opacity="0.69"/>
<rect x="26.9" y="207.5" width="3" height="2.5" fill="#587264" opacity="0.47"/>
<rect x="35.7" y="209.3" width="2.5" height="2.5" fill="#3d5d4d" opacity="0.66"/>
<rect x="20.7" y="213.4" width="2.5" height="1.5" fill="#2c4638" opacity="0.76"/>
<rect x="48.5" y="188.0" width="4" height="2.5" fill="#0b1210" opacity="0.56"/>
<rect x="82.2" y="215.3" width="4" height="1" fill="#20382f" opacity="0.82"/>
<rect x="132.9" y="217.0" width="2.5" height="2" fill="#3d5d4d" opacity="0.50"/>
<rect x="20.5" y="221.8" width="2" height="2.5" fill="#101a2a" opacity="0.52"/>
<rect x="43.0" y="194.8" width="2.5" height="3" fill="#3a3f3a" opacity="0.67"/>
<rect x="91.3" y="203.5" width="2.5" height="2" fill="#3a3f3a" opacity="0.75"/>
<rect x="82.8" y="215.1" width="2.5" height="2" fill="#3a3f3a" opacity="0.53"/>
<rect x="26.2" y="190.9" width="1.5" height="2" fill="#0b1210" opacity="0.83"/>
<rect x="84.6" y="216.5" width="1.5" height="1.5" fill="#20382f" opacity="0.84"/>
<rect x="131.1" y="190.2" width="2.5" height="2.5" fill="#99aaa2" opacity="0.78"/>
<rect x="108.2" y="198.6" width="5" height="2" fill="#3d5d4d" opacity="0.77"/>
<rect x="60.5" y="202.0" width="2" height="3" fill="#16211d" opacity="0.71"/>
<rect x="72.7" y="217.7" width="4" height="2" fill="#16211d" opacity="0.51"/>
<rect x="67.0" y="216.1" width="2" height="1.5" fill="#0b1210" opacity="0.66"/>
<rect x="108.2" y="221.2" width="2" height="2" fill="#3a3f3a" opacity="0.57"/>
<rect x="50.8" y="216.0" width="3" height="1.5" fill="#0b1210" opacity="0.52"/>
<rect x="147.7" y="224.6" width="2" height="2" fill="#3d5d4d" opacity="0.78"/>
<rect x="147.2" y="193.0" width="2.5" height="1" fill="#99aaa2" opacity="0.84"/>
<rect x="40.3" y="190.8" width="3" height="2" fill="#1f2f2a" opacity="0.63"/>
<rect x="98.3" y="220.1" width="4" height="2.5" fill="#101a2a" opacity="0.76"/>
<rect x="89.0" y="221.6" width="2" height="2.5" fill="#16211d" opacity="0.83"/>
<rect x="90.3" y="225.7" width="3" height="2.5" fill="#0b1210" opacity="0.52"/>
<rect x="133.0" y="199.3" width="4" height="1.5" fill="#2c4638" opacity="0.73"/>
<rect x="53.6" y="197.6" width="3" height="1.5" fill="#3d5d4d" opacity="0.70"/>
<rect x="18.9" y="219.9" width="5" height="1" fill="#0b1210" opacity="0.53"/>
<rect x="80.8" y="229.9" width="2" height="2.5" fill="#7c9186" opacity="0.46"/>
<rect x="63.7" y="211.5" width="4" height="1" fill="#1f2f2a" opacity="0.70"/>
<rect x="103.4" y="214.2" width="2.5" height="1.5" fill="#2c4638" opacity="0.84"/>
<rect x="147.3" y="206.6" width="5" height="1" fill="#16211d" opacity="0.84"/>
<rect x="140.8" y="210.6" width="5" height="1" fill="#2c4638" opacity="0.61"/>
<rect x="116.0" y="201.0" width="4" height="2.5" fill="#0b1210" opacity="0.85"/>
<rect x="26.3" y="203.3" width="4" height="2" fill="#1f2f2a" opacity="0.81"/>
<rect x="113.6" y="204.8" width="4" height="1" fill="#7c9186" opacity="0.63"/>
<rect x="109.7" y="198.5" width="4" height="1" fill="#0b1210" opacity="0.71"/>
<rect x="47.5" y="204.3" width="2.5" height="3" fill="#101a2a" opacity="0.57"/>
<rect x="147.0" y="214.3" width="3" height="2" fill="#2c4638" opacity="0.58"/>
<rect x="135.7" y="201.5" width="1.5" height="2" fill="#3d5d4d" opacity="0.55"/>
<rect x="41.4" y="190.0" width="2" height="3" fill="#2c4638" opacity="0.76"/>
<rect x="41.0" y="192.4" width="2" height="2" fill="#3d5d4d" opacity="0.53"/>
<rect x="20.9" y="204.8" width="1.5" height="2.5" fill="#0b1210" opacity="0.59"/>
<rect x="87.8" y="228.0" width="2" height="1" fill="#16211d" opacity="0.59"/>
<rect x="116.0" y="192.6" width="2.5" height="2.5" fill="#7c9186" opacity="0.88"/>
<rect x="46.6" y="205.1" width="5" height="1.5" fill="#2c4638" opacity="0.48"/>
<rect x="68.7" y="226.7" width="2" height="2" fill="#99aaa2" opacity="0.90"/>
<rect x="37.3" y="214.7" width="3" height="1" fill="#1f2f2a" opacity="0.73"/>
<rect x="62.8" y="177.7" width="4" height="2" fill="#8c958c" opacity="0.72"/>
<rect x="33.8" y="184.3" width="4" height="1.5" fill="#1a2320" opacity="0.54"/>
<rect x="126.8" y="179.0" width="4" height="2" fill="#8c958c" opacity="0.58"/>
<rect x="99.6" y="177.8" width="1.5" height="2" fill="#0b1210" opacity="0.72"/>
<rect x="37.8" y="178.3" width="3" height="2" fill="#8c958c" opacity="0.48"/>
<rect x="113.8" y="189.8" width="4" height="1" fill="#2a332f" opacity="0.65"/>
<rect x="134.7" y="170.4" width="2" height="2" fill="#2a332f" opacity="0.68"/>
<rect x="121.7" y="179.3" width="3" height="1" fill="#2a332f" opacity="0.70"/>
<rect x="110.5" y="173.5" width="3" height="1.5" fill="#2a332f" opacity="0.56"/>
<rect x="130.5" y="172.3" width="3" height="2" fill="#2a332f" opacity="0.38"/>
<rect x="122.0" y="186.8" width="1.5" height="1" fill="#4a564e" opacity="0.42"/>
<rect x="61.4" y="188.4" width="2" height="1.5" fill="#0b1210" opacity="0.52"/>
<rect x="97.9" y="168.7" width="4" height="1.5" fill="#0b1210" opacity="0.39"/>
<rect x="102.4" y="179.7" width="3" height="2" fill="#2a332f" opacity="0.57"/>
<rect x="147.3" y="176.3" width="3" height="2" fill="#4a564e" opacity="0.69"/>
<rect x="141.0" y="182.5" width="2" height="2" fill="#2a332f" opacity="0.42"/>
<rect x="34.6" y="183.3" width="4" height="1" fill="#2a332f" opacity="0.46"/>
<rect x="51.6" y="175.6" width="3" height="1.5" fill="#2a332f" opacity="0.35"/>
<rect x="27.0" y="172.5" width="3" height="1.5" fill="#6f7a70" opacity="0.43"/>
<rect x="27.3" y="173.8" width="3" height="2" fill="#6f7a70" opacity="0.46"/>
<rect x="35.4" y="170.7" width="1.5" height="1.5" fill="#8c958c" opacity="0.63"/>
<rect x="48.6" y="180.7" width="3" height="1" fill="#4a564e" opacity="0.73"/>
<rect x="28.2" y="182.3" width="2" height="1.5" fill="#6f7a70" opacity="0.43"/>
<rect x="101.2" y="176.1" width="3" height="1.5" fill="#8c958c" opacity="0.53"/>
<rect x="142.1" y="174.4" width="1.5" height="2" fill="#8c958c" opacity="0.45"/>
<rect x="134.4" y="173.5" width="4" height="1.5" fill="#4a564e" opacity="0.39"/>
<rect x="132.4" y="184.9" width="1.5" height="2" fill="#1a2320" opacity="0.39"/>
<rect x="134.5" y="169.9" width="3" height="1" fill="#4a564e" opacity="0.36"/>
<rect x="146.7" y="185.9" width="1.5" height="2" fill="#1a2320" opacity="0.41"/>
<rect x="27.4" y="171.7" width="3" height="1.5" fill="#1a2320" opacity="0.61"/>
<rect x="25.9" y="172.9" width="1.5" height="1.5" fill="#6f7a70" opacity="0.68"/>
<rect x="102.5" y="183.4" width="1.5" height="1" fill="#6f7a70" opacity="0.61"/>
<rect x="120.7" y="188.5" width="2" height="1.5" fill="#4a564e" opacity="0.68"/>
<rect x="121.3" y="168.1" width="3" height="2" fill="#1a2320" opacity="0.54"/>
<rect x="132.9" y="177.5" width="2" height="1" fill="#4a564e" opacity="0.69"/>
<rect x="140.8" y="187.7" width="1.5" height="1" fill="#4a564e" opacity="0.52"/>
<rect x="118.9" y="170.1" width="1.5" height="1" fill="#8c958c" opacity="0.45"/>
<rect x="104.2" y="179.2" width="3" height="1.5" fill="#4a564e" opacity="0.66"/>
<rect x="50.1" y="177.1" width="1.5" height="1" fill="#8c958c" opacity="0.53"/>
<rect x="128.6" y="170.3" width="2" height="1" fill="#8c958c" opacity="0.56"/>
<rect x="130.3" y="189.2" width="4" height="1" fill="#2a332f" opacity="0.41"/>
<rect x="124.4" y="184.2" width="4" height="1" fill="#4a564e" opacity="0.56"/>
<rect x="21.7" y="170.4" width="3" height="2" fill="#1a2320" opacity="0.66"/>
<rect x="118.8" y="176.6" width="3" height="1" fill="#2a332f" opacity="0.45"/>
<rect x="32.5" y="188.2" width="3" height="1.5" fill="#2a332f" opacity="0.61"/>
<rect x="133.3" y="188.8" width="1.5" height="1.5" fill="#1a2320" opacity="0.47"/>
<rect x="114.1" y="173.7" width="3" height="1" fill="#6f7a70" opacity="0.67"/>
<rect x="68.0" y="182.3" width="3" height="1.5" fill="#0b1210" opacity="0.37"/>
<rect x="126.6" y="169.4" width="4" height="2" fill="#4a564e" opacity="0.51"/>
<rect x="46.9" y="170.2" width="3" height="1" fill="#4a564e" opacity="0.49"/>
<rect x="141.6" y="179.4" width="4" height="2" fill="#0b1210" opacity="0.50"/>
<rect x="107.4" y="175.9" width="2" height="1.5" fill="#8c958c" opacity="0.63"/>
<rect x="127.2" y="172.6" width="1.5" height="1.5" fill="#2a332f" opacity="0.55"/>
<rect x="24.9" y="170.0" width="3" height="2" fill="#4a564e" opacity="0.67"/>
<rect x="140.7" y="182.2" width="3" height="1.5" fill="#0b1210" opacity="0.46"/>
<rect x="106.4" y="169.9" width="2" height="1.5" fill="#4a564e" opacity="0.36"/>
<rect x="37.4" y="171.4" width="3" height="2" fill="#4a564e" opacity="0.37"/>
<rect x="117.3" y="169.1" width="1.5" height="2" fill="#2a332f" opacity="0.72"/>
<rect x="101.0" y="168.5" width="2" height="2" fill="#8c958c" opacity="0.35"/>
<rect x="113.8" y="177.2" width="1.5" height="1" fill="#0b1210" opacity="0.53"/>
<rect x="115.7" y="176.3" width="4" height="2" fill="#6f7a70" opacity="0.67"/>
<rect x="112.6" y="186.4" width="3" height="2" fill="#8c958c" opacity="0.63"/>
<rect x="109.4" y="176.7" width="1.5" height="1" fill="#0b1210" opacity="0.52"/>
<rect x="34.0" y="187.2" width="4" height="1.5" fill="#0b1210" opacity="0.71"/>
<rect x="139.0" y="172.4" width="4" height="1.5" fill="#6f7a70" opacity="0.63"/>
<rect x="68.4" y="185.1" width="1.5" height="2" fill="#1a2320" opacity="0.69"/>
<rect x="118.5" y="175.1" width="1.5" height="1.5" fill="#2a332f" opacity="0.61"/>
<rect x="67.0" y="185.7" width="4" height="1.5" fill="#8c958c" opacity="0.59"/>
<rect x="37.2" y="183.5" width="4" height="1.5" fill="#0b1210" opacity="0.63"/>
<rect x="48.4" y="173.7" width="4" height="2" fill="#0b1210" opacity="0.45"/>
<rect x="26.3" y="186.1" width="4" height="1" fill="#1a2320" opacity="0.44"/>
<rect x="136.0" y="169.4" width="2" height="1.5" fill="#8c958c" opacity="0.53"/>
<rect x="115.9" y="170.3" width="3" height="2" fill="#2a332f" opacity="0.36"/>
<rect x="108.8" y="180.5" width="4" height="1.5" fill="#6f7a70" opacity="0.41"/>
<rect x="141.6" y="184.8" width="3" height="1" fill="#2a332f" opacity="0.66"/>
<rect x="46.4" y="172.4" width="3" height="1" fill="#2a332f" opacity="0.66"/>
<rect x="138.1" y="183.2" width="3" height="1" fill="#1a2320" opacity="0.67"/>
<rect x="97.1" y="186.3" width="3" height="1" fill="#2a332f" opacity="0.49"/>
<rect x="40.4" y="187.6" width="3" height="1.5" fill="#4a564e" opacity="0.57"/>
<rect x="52.1" y="169.7" width="1.5" height="1.5" fill="#4a564e" opacity="0.73"/>
<rect x="37.8" y="176.6" width="2" height="2" fill="#0b1210" opacity="0.57"/>
<rect x="113.4" y="179.8" width="3" height="1.5" fill="#0b1210" opacity="0.52"/>
<rect x="119.4" y="182.3" width="2" height="1.5" fill="#6f7a70" opacity="0.62"/>
<rect x="62.9" y="172.8" width="3" height="2" fill="#1a2320" opacity="0.49"/>
<rect x="48.2" y="188.9" width="1.5" height="2" fill="#1a2320" opacity="0.65"/>
<rect x="57.3" y="168.1" width="1.5" height="1" fill="#4a564e" opacity="0.47"/>
<rect x="131.4" y="169.4" width="1.5" height="1" fill="#0b1210" opacity="0.52"/>
<rect x="36.6" y="187.8" width="1.5" height="1.5" fill="#8c958c" opacity="0.62"/>
<rect x="29.2" y="183.3" width="4" height="1" fill="#1a2320" opacity="0.39"/>
<rect x="36.1" y="172.2" width="4" height="1" fill="#8c958c" opacity="0.73"/>
<rect x="134.8" y="170.0" width="3" height="1.5" fill="#4a564e" opacity="0.44"/>
<rect x="53.4" y="171.3" width="2" height="1.5" fill="#0b1210" opacity="0.59"/>
<rect x="121.4" y="189.9" width="3" height="1" fill="#0b1210" opacity="0.66"/>
<rect x="38.4" y="188.1" width="1.5" height="1" fill="#4a564e" opacity="0.70"/>
<rect x="142.4" y="168.5" width="1.5" height="1" fill="#2a332f" opacity="0.63"/>
<rect x="116.5" y="185.8" width="1.5" height="1.5" fill="#0b1210" opacity="0.73"/>
<rect x="46.1" y="176.7" width="2" height="1.5" fill="#4a564e" opacity="0.48"/>
<rect x="63.1" y="168.3" width="2" height="1.5" fill="#0b1210" opacity="0.58"/>
<rect x="105.7" y="178.0" width="2" height="1.5" fill="#2a332f" opacity="0.43"/>
<rect x="45.5" y="177.9" width="2" height="1.5" fill="#2a332f" opacity="0.45"/>
<rect x="103.1" y="173.7" width="3" height="2" fill="#0b1210" opacity="0.42"/>
<path d="M82.7 172.2 Q71.5 191.6 57.1 208.2" fill="none" stroke="#b9a63f" stroke-width="0.8" stroke-linecap="round" opacity="0.9"/>
<path d="M84.7 172.2 Q94.5 191.6 115.3 204.8" fill="none" stroke="#b9a63f" stroke-width="0.8" stroke-linecap="round" opacity="0.9"/>
<circle cx="88.0" cy="215.3" r="2.3" fill="#f2a423"/>
<circle cx="116.3" cy="215.3" r="2.1" fill="#f2a423"/>
<circle cx="60.3" cy="214.6" r="1.5" fill="#f2a423"/>
<circle cx="108.9" cy="217.2" r="1.2" fill="#f2a423"/>
<circle cx="52.5" cy="210.3" r="0.9" fill="#f2a423"/>
</g></g>
</g>
<!-- photo 2 : burn-in board -->
<g>
<circle cx="892.2" cy="161.6" r="68.6" fill="#fff"/>
<g clip-path="url(#cp2)">
<g filter="url(#soft3)">
<rect x="824" y="94" width="140" height="100" fill="url(#p2base)"/>
<rect x="824" y="192" width="140" height="40" fill="#276a69"/>
<path d="M830.2 94 L832.2 94 L713.2 194 L706.9 194Z" fill="url(#p2gap)" opacity="0.9"/>
<path d="M838.5 94 L840.5 94 L739.3 194 L733.0 194Z" fill="url(#p2gap)" opacity="0.9"/>
<path d="M846.9 94 L848.9 94 L765.4 194 L759.1 194Z" fill="url(#p2gap)" opacity="0.9"/>
<path d="M855.2 94 L857.2 94 L791.5 194 L785.2 194Z" fill="url(#p2gap)" opacity="0.9"/>
<path d="M863.6 94 L865.6 94 L817.6 194 L811.3 194Z" fill="url(#p2gap)" opacity="0.9"/>
<path d="M871.9 94 L874.0 94 L843.7 194 L837.4 194Z" fill="url(#p2gap)" opacity="0.9"/>
<path d="M880.3 94 L882.3 94 L869.8 194 L863.5 194Z" fill="url(#p2gap)" opacity="0.9"/>
<path d="M888.2 94 L891.2 94 L897.5 194 L888.1 194Z" fill="url(#p2gapc)" opacity="0.95"/>
<path d="M897.0 94 L899.0 94 L922.0 194 L915.7 194Z" fill="url(#p2gap)" opacity="0.9"/>
<path d="M905.4 94 L907.4 94 L948.1 194 L941.8 194Z" fill="url(#p2gap)" opacity="0.9"/>
<path d="M913.7 94 L915.7 94 L974.2 194 L967.9 194Z" fill="url(#p2gap)" opacity="0.9"/>
<path d="M922.1 94 L924.1 94 L1000.3 194 L994.0 194Z" fill="url(#p2gap)" opacity="0.9"/>
<path d="M930.4 94 L932.4 94 L1026.4 194 L1020.1 194Z" fill="url(#p2gap)" opacity="0.9"/>
<path d="M938.8 94 L940.8 94 L1052.5 194 L1046.2 194Z" fill="url(#p2gap)" opacity="0.9"/>
<path d="M947.1 94 L949.1 94 L1078.6 194 L1072.3 194Z" fill="url(#p2gap)" opacity="0.9"/>
<rect x="821.9" y="173.1" width="19.4" height="10.2" rx="1.5" fill="#2a211e"/>
<rect x="823.9" y="174.3" width="15.5" height="4.3" fill="#121111"/>
<rect x="823.5" y="178.4" width="16.3" height="3.3" rx="1.0" fill="#d9d0bf" opacity="0.95"/>
<rect x="827.8" y="175.1" width="1.4" height="1.8" fill="#c9c9c9" opacity="0.8"/>
<rect x="834.0" y="175.1" width="1.4" height="1.8" fill="#c9c9c9" opacity="0.8"/>
<rect x="821.9" y="173.1" width="19.4" height="1.0" fill="#7d655b" opacity="0.9"/>
<rect x="846.2" y="173.1" width="19.4" height="10.2" rx="1.5" fill="#2a211e"/>
<rect x="848.1" y="174.3" width="15.5" height="4.3" fill="#121111"/>
<rect x="847.8" y="178.4" width="16.3" height="3.3" rx="1.0" fill="#d9d0bf" opacity="0.95"/>
<rect x="852.0" y="175.1" width="1.4" height="1.8" fill="#c9c9c9" opacity="0.8"/>
<rect x="858.2" y="175.1" width="1.4" height="1.8" fill="#c9c9c9" opacity="0.8"/>
<rect x="846.2" y="173.1" width="19.4" height="1.0" fill="#7d655b" opacity="0.9"/>
<rect x="870.5" y="173.1" width="19.4" height="10.2" rx="1.5" fill="#2a211e"/>
<rect x="872.4" y="174.3" width="15.5" height="4.3" fill="#121111"/>
<rect x="872.0" y="178.4" width="16.3" height="3.3" rx="1.0" fill="#d9d0bf" opacity="0.95"/>
<rect x="876.3" y="175.1" width="1.4" height="1.8" fill="#c9c9c9" opacity="0.8"/>
<rect x="882.5" y="175.1" width="1.4" height="1.8" fill="#c9c9c9" opacity="0.8"/>
<rect x="870.5" y="173.1" width="19.4" height="1.0" fill="#7d655b" opacity="0.9"/>
<rect x="894.7" y="173.1" width="19.4" height="10.2" rx="1.5" fill="#2a211e"/>
<rect x="896.7" y="174.3" width="15.5" height="4.3" fill="#121111"/>
<rect x="896.3" y="178.4" width="16.3" height="3.3" rx="1.0" fill="#d9d0bf" opacity="0.95"/>
<rect x="900.6" y="175.1" width="1.4" height="1.8" fill="#c9c9c9" opacity="0.8"/>
<rect x="906.8" y="175.1" width="1.4" height="1.8" fill="#c9c9c9" opacity="0.8"/>
<rect x="894.7" y="173.1" width="19.4" height="1.0" fill="#7d655b" opacity="0.9"/>
<rect x="919.0" y="173.1" width="19.4" height="10.2" rx="1.5" fill="#2a211e"/>
<rect x="920.9" y="174.3" width="15.5" height="4.3" fill="#121111"/>
<rect x="920.5" y="178.4" width="16.3" height="3.3" rx="1.0" fill="#d9d0bf" opacity="0.95"/>
<rect x="924.8" y="175.1" width="1.4" height="1.8" fill="#c9c9c9" opacity="0.8"/>
<rect x="931.0" y="175.1" width="1.4" height="1.8" fill="#c9c9c9" opacity="0.8"/>
<rect x="919.0" y="173.1" width="19.4" height="1.0" fill="#7d655b" opacity="0.9"/>
<rect x="943.3" y="173.1" width="19.4" height="10.2" rx="1.5" fill="#2a211e"/>
<rect x="945.2" y="174.3" width="15.5" height="4.3" fill="#121111"/>
<rect x="944.8" y="178.4" width="16.3" height="3.3" rx="1.0" fill="#d9d0bf" opacity="0.95"/>
<rect x="949.1" y="175.1" width="1.4" height="1.8" fill="#c9c9c9" opacity="0.8"/>
<rect x="955.3" y="175.1" width="1.4" height="1.8" fill="#c9c9c9" opacity="0.8"/>
<rect x="943.3" y="173.1" width="19.4" height="1.0" fill="#7d655b" opacity="0.9"/>
<rect x="825.4" y="164.9" width="18.4" height="8.5" rx="1.3" fill="#2a211e"/>
<rect x="827.3" y="165.9" width="14.7" height="3.6" fill="#121111"/>
<rect x="826.9" y="169.3" width="15.4" height="2.7" rx="0.9" fill="#d9d0bf" opacity="0.95"/>
<rect x="830.9" y="166.6" width="1.3" height="1.5" fill="#c9c9c9" opacity="0.8"/>
<rect x="836.8" y="166.6" width="1.3" height="1.5" fill="#c9c9c9" opacity="0.8"/>
<rect x="825.4" y="164.9" width="18.4" height="0.9" fill="#7d655b" opacity="0.9"/>
<rect x="848.4" y="164.9" width="18.4" height="8.5" rx="1.3" fill="#2a211e"/>
<rect x="850.2" y="165.9" width="14.7" height="3.6" fill="#121111"/>
<rect x="849.9" y="169.3" width="15.4" height="2.7" rx="0.9" fill="#d9d0bf" opacity="0.95"/>
<rect x="853.9" y="166.6" width="1.3" height="1.5" fill="#c9c9c9" opacity="0.8"/>
<rect x="859.8" y="166.6" width="1.3" height="1.5" fill="#c9c9c9" opacity="0.8"/>
<rect x="848.4" y="164.9" width="18.4" height="0.9" fill="#7d655b" opacity="0.9"/>
<rect x="871.4" y="164.9" width="18.4" height="8.5" rx="1.3" fill="#2a211e"/>
<rect x="873.2" y="165.9" width="14.7" height="3.6" fill="#121111"/>
<rect x="872.8" y="169.3" width="15.4" height="2.7" rx="0.9" fill="#d9d0bf" opacity="0.95"/>
<rect x="876.9" y="166.6" width="1.3" height="1.5" fill="#c9c9c9" opacity="0.8"/>
<rect x="882.7" y="166.6" width="1.3" height="1.5" fill="#c9c9c9" opacity="0.8"/>
<rect x="871.4" y="164.9" width="18.4" height="0.9" fill="#7d655b" opacity="0.9"/>
<rect x="894.3" y="164.9" width="18.4" height="8.5" rx="1.3" fill="#2a211e"/>
<rect x="896.2" y="165.9" width="14.7" height="3.6" fill="#121111"/>
<rect x="895.8" y="169.3" width="15.4" height="2.7" rx="0.9" fill="#d9d0bf" opacity="0.95"/>
<rect x="899.8" y="166.6" width="1.3" height="1.5" fill="#c9c9c9" opacity="0.8"/>
<rect x="905.7" y="166.6" width="1.3" height="1.5" fill="#c9c9c9" opacity="0.8"/>
<rect x="894.3" y="164.9" width="18.4" height="0.9" fill="#7d655b" opacity="0.9"/>
<rect x="917.3" y="164.9" width="18.4" height="8.5" rx="1.3" fill="#2a211e"/>
<rect x="919.1" y="165.9" width="14.7" height="3.6" fill="#121111"/>
<rect x="918.7" y="169.3" width="15.4" height="2.7" rx="0.9" fill="#d9d0bf" opacity="0.95"/>
<rect x="922.8" y="166.6" width="1.3" height="1.5" fill="#c9c9c9" opacity="0.8"/>
<rect x="928.7" y="166.6" width="1.3" height="1.5" fill="#c9c9c9" opacity="0.8"/>
<rect x="917.3" y="164.9" width="18.4" height="0.9" fill="#7d655b" opacity="0.9"/>
<rect x="940.2" y="164.9" width="18.4" height="8.5" rx="1.3" fill="#2a211e"/>
<rect x="942.1" y="165.9" width="14.7" height="3.6" fill="#121111"/>
<rect x="941.7" y="169.3" width="15.4" height="2.7" rx="0.9" fill="#d9d0bf" opacity="0.95"/>
<rect x="945.8" y="166.6" width="1.3" height="1.5" fill="#c9c9c9" opacity="0.8"/>
<rect x="951.6" y="166.6" width="1.3" height="1.5" fill="#c9c9c9" opacity="0.8"/>
<rect x="940.2" y="164.9" width="18.4" height="0.9" fill="#7d655b" opacity="0.9"/>
<rect x="806.8" y="157.8" width="17.4" height="7.2" rx="1.1" fill="#2a211e"/>
<rect x="808.5" y="158.7" width="13.9" height="3.0" fill="#121111"/>
<rect x="808.2" y="161.6" width="14.6" height="2.3" rx="0.7" fill="#d9d0bf" opacity="0.95"/>
<rect x="812.0" y="159.3" width="1.2" height="1.3" fill="#c9c9c9" opacity="0.8"/>
<rect x="817.6" y="159.3" width="1.2" height="1.3" fill="#c9c9c9" opacity="0.8"/>
<rect x="806.8" y="157.8" width="17.4" height="0.7" fill="#7d655b" opacity="0.9"/>
<rect x="828.6" y="157.8" width="17.4" height="7.2" rx="1.1" fill="#2a211e"/>
<rect x="830.3" y="158.7" width="13.9" height="3.0" fill="#121111"/>
<rect x="830.0" y="161.6" width="14.6" height="2.3" rx="0.7" fill="#d9d0bf" opacity="0.95"/>
<rect x="833.8" y="159.3" width="1.2" height="1.3" fill="#c9c9c9" opacity="0.8"/>
<rect x="839.4" y="159.3" width="1.2" height="1.3" fill="#c9c9c9" opacity="0.8"/>
<rect x="828.6" y="157.8" width="17.4" height="0.7" fill="#7d655b" opacity="0.9"/>
<rect x="850.4" y="157.8" width="17.4" height="7.2" rx="1.1" fill="#2a211e"/>
<rect x="852.1" y="158.7" width="13.9" height="3.0" fill="#121111"/>
<rect x="851.8" y="161.6" width="14.6" height="2.3" rx="0.7" fill="#d9d0bf" opacity="0.95"/>
<rect x="855.6" y="159.3" width="1.2" height="1.3" fill="#c9c9c9" opacity="0.8"/>
<rect x="861.2" y="159.3" width="1.2" height="1.3" fill="#c9c9c9" opacity="0.8"/>
<rect x="850.4" y="157.8" width="17.4" height="0.7" fill="#7d655b" opacity="0.9"/>
<rect x="872.2" y="157.8" width="17.4" height="7.2" rx="1.1" fill="#2a211e"/>
<rect x="873.9" y="158.7" width="13.9" height="3.0" fill="#121111"/>
<rect x="873.6" y="161.6" width="14.6" height="2.3" rx="0.7" fill="#d9d0bf" opacity="0.95"/>
<rect x="877.4" y="159.3" width="1.2" height="1.3" fill="#c9c9c9" opacity="0.8"/>
<rect x="883.0" y="159.3" width="1.2" height="1.3" fill="#c9c9c9" opacity="0.8"/>
<rect x="872.2" y="157.8" width="17.4" height="0.7" fill="#7d655b" opacity="0.9"/>
<rect x="894.0" y="157.8" width="17.4" height="7.2" rx="1.1" fill="#2a211e"/>
<rect x="895.7" y="158.7" width="13.9" height="3.0" fill="#121111"/>
<rect x="895.4" y="161.6" width="14.6" height="2.3" rx="0.7" fill="#d9d0bf" opacity="0.95"/>
<rect x="899.2" y="159.3" width="1.2" height="1.3" fill="#c9c9c9" opacity="0.8"/>
<rect x="904.8" y="159.3" width="1.2" height="1.3" fill="#c9c9c9" opacity="0.8"/>
<rect x="894.0" y="157.8" width="17.4" height="0.7" fill="#7d655b" opacity="0.9"/>
<rect x="915.7" y="157.8" width="17.4" height="7.2" rx="1.1" fill="#2a211e"/>
<rect x="917.5" y="158.7" width="13.9" height="3.0" fill="#121111"/>
<rect x="917.1" y="161.6" width="14.6" height="2.3" rx="0.7" fill="#d9d0bf" opacity="0.95"/>
<rect x="921.0" y="159.3" width="1.2" height="1.3" fill="#c9c9c9" opacity="0.8"/>
<rect x="926.6" y="159.3" width="1.2" height="1.3" fill="#c9c9c9" opacity="0.8"/>
<rect x="915.7" y="157.8" width="17.4" height="0.7" fill="#7d655b" opacity="0.9"/>
<rect x="937.5" y="157.8" width="17.4" height="7.2" rx="1.1" fill="#2a211e"/>
<rect x="939.3" y="158.7" width="13.9" height="3.0" fill="#121111"/>
<rect x="938.9" y="161.6" width="14.6" height="2.3" rx="0.7" fill="#d9d0bf" opacity="0.95"/>
<rect x="942.8" y="159.3" width="1.2" height="1.3" fill="#c9c9c9" opacity="0.8"/>
<rect x="948.3" y="159.3" width="1.2" height="1.3" fill="#c9c9c9" opacity="0.8"/>
<rect x="937.5" y="157.8" width="17.4" height="0.7" fill="#7d655b" opacity="0.9"/>
<rect x="959.3" y="157.8" width="17.4" height="7.2" rx="1.1" fill="#2a211e"/>
<rect x="961.1" y="158.7" width="13.9" height="3.0" fill="#121111"/>
<rect x="960.7" y="161.6" width="14.6" height="2.3" rx="0.7" fill="#d9d0bf" opacity="0.95"/>
<rect x="964.5" y="159.3" width="1.2" height="1.3" fill="#c9c9c9" opacity="0.8"/>
<rect x="970.1" y="159.3" width="1.2" height="1.3" fill="#c9c9c9" opacity="0.8"/>
<rect x="959.3" y="157.8" width="17.4" height="0.7" fill="#7d655b" opacity="0.9"/>
<rect x="810.9" y="151.7" width="16.4" height="6.3" rx="0.9" fill="#2a211e"/>
<rect x="812.5" y="152.5" width="13.1" height="2.6" fill="#121111"/>
<rect x="812.2" y="155.0" width="13.8" height="2.0" rx="0.6" fill="#d9d0bf" opacity="0.92"/>
<rect x="815.8" y="153.0" width="1.1" height="1.1" fill="#c9c9c9" opacity="0.8"/>
<rect x="821.0" y="153.0" width="1.1" height="1.1" fill="#c9c9c9" opacity="0.8"/>
<rect x="810.9" y="151.7" width="16.4" height="0.6" fill="#7d655b" opacity="0.9"/>
<rect x="831.6" y="151.7" width="16.4" height="6.3" rx="0.9" fill="#2a211e"/>
<rect x="833.2" y="152.5" width="13.1" height="2.6" fill="#121111"/>
<rect x="832.9" y="155.0" width="13.8" height="2.0" rx="0.6" fill="#d9d0bf" opacity="0.92"/>
<rect x="836.5" y="153.0" width="1.1" height="1.1" fill="#c9c9c9" opacity="0.8"/>
<rect x="841.7" y="153.0" width="1.1" height="1.1" fill="#c9c9c9" opacity="0.8"/>
<rect x="831.6" y="151.7" width="16.4" height="0.6" fill="#7d655b" opacity="0.9"/>
<rect x="852.3" y="151.7" width="16.4" height="6.3" rx="0.9" fill="#2a211e"/>
<rect x="853.9" y="152.5" width="13.1" height="2.6" fill="#121111"/>
<rect x="853.6" y="155.0" width="13.8" height="2.0" rx="0.6" fill="#d9d0bf" opacity="0.92"/>
<rect x="857.2" y="153.0" width="1.1" height="1.1" fill="#c9c9c9" opacity="0.8"/>
<rect x="862.5" y="153.0" width="1.1" height="1.1" fill="#c9c9c9" opacity="0.8"/>
<rect x="852.3" y="151.7" width="16.4" height="0.6" fill="#7d655b" opacity="0.9"/>
<rect x="873.0" y="151.7" width="16.4" height="6.3" rx="0.9" fill="#2a211e"/>
<rect x="874.7" y="152.5" width="13.1" height="2.6" fill="#121111"/>
<rect x="874.3" y="155.0" width="13.8" height="2.0" rx="0.6" fill="#d9d0bf" opacity="0.92"/>
<rect x="877.9" y="153.0" width="1.1" height="1.1" fill="#c9c9c9" opacity="0.8"/>
<rect x="883.2" y="153.0" width="1.1" height="1.1" fill="#c9c9c9" opacity="0.8"/>
<rect x="873.0" y="151.7" width="16.4" height="0.6" fill="#7d655b" opacity="0.9"/>
<rect x="893.7" y="151.7" width="16.4" height="6.3" rx="0.9" fill="#2a211e"/>
<rect x="895.4" y="152.5" width="13.1" height="2.6" fill="#121111"/>
<rect x="895.0" y="155.0" width="13.8" height="2.0" rx="0.6" fill="#d9d0bf" opacity="0.92"/>
<rect x="898.7" y="153.0" width="1.1" height="1.1" fill="#c9c9c9" opacity="0.8"/>
<rect x="903.9" y="153.0" width="1.1" height="1.1" fill="#c9c9c9" opacity="0.8"/>
<rect x="893.7" y="151.7" width="16.4" height="0.6" fill="#7d655b" opacity="0.9"/>
<rect x="914.5" y="151.7" width="16.4" height="6.3" rx="0.9" fill="#2a211e"/>
<rect x="916.1" y="152.5" width="13.1" height="2.6" fill="#121111"/>
<rect x="915.8" y="155.0" width="13.8" height="2.0" rx="0.6" fill="#d9d0bf" opacity="0.92"/>
<rect x="919.4" y="153.0" width="1.1" height="1.1" fill="#c9c9c9" opacity="0.8"/>
<rect x="924.6" y="153.0" width="1.1" height="1.1" fill="#c9c9c9" opacity="0.8"/>
<rect x="914.5" y="151.7" width="16.4" height="0.6" fill="#7d655b" opacity="0.9"/>
<rect x="935.2" y="151.7" width="16.4" height="6.3" rx="0.9" fill="#2a211e"/>
<rect x="936.8" y="152.5" width="13.1" height="2.6" fill="#121111"/>
<rect x="936.5" y="155.0" width="13.8" height="2.0" rx="0.6" fill="#d9d0bf" opacity="0.92"/>
<rect x="940.1" y="153.0" width="1.1" height="1.1" fill="#c9c9c9" opacity="0.8"/>
<rect x="945.3" y="153.0" width="1.1" height="1.1" fill="#c9c9c9" opacity="0.8"/>
<rect x="935.2" y="151.7" width="16.4" height="0.6" fill="#7d655b" opacity="0.9"/>
<rect x="955.9" y="151.7" width="16.4" height="6.3" rx="0.9" fill="#2a211e"/>
<rect x="957.5" y="152.5" width="13.1" height="2.6" fill="#121111"/>
<rect x="957.2" y="155.0" width="13.8" height="2.0" rx="0.6" fill="#d9d0bf" opacity="0.92"/>
<rect x="960.8" y="153.0" width="1.1" height="1.1" fill="#c9c9c9" opacity="0.8"/>
<rect x="966.1" y="153.0" width="1.1" height="1.1" fill="#c9c9c9" opacity="0.8"/>
<rect x="955.9" y="151.7" width="16.4" height="0.6" fill="#7d655b" opacity="0.9"/>
<rect x="814.6" y="146.3" width="15.4" height="5.5" rx="0.8" fill="#2a211e"/>
<rect x="816.1" y="147.0" width="12.3" height="2.3" fill="#121111"/>
<rect x="815.8" y="149.2" width="12.9" height="1.7" rx="0.6" fill="#d9d0bf" opacity="0.89"/>
<rect x="819.2" y="147.4" width="1.1" height="1.0" fill="#c9c9c9" opacity="0.8"/>
<rect x="824.1" y="147.4" width="1.1" height="1.0" fill="#c9c9c9" opacity="0.8"/>
<rect x="814.6" y="146.3" width="15.4" height="0.6" fill="#7d655b" opacity="0.9"/>
<rect x="834.3" y="146.3" width="15.4" height="5.5" rx="0.8" fill="#2a211e"/>
<rect x="835.9" y="147.0" width="12.3" height="2.3" fill="#121111"/>
<rect x="835.6" y="149.2" width="12.9" height="1.7" rx="0.6" fill="#d9d0bf" opacity="0.89"/>
<rect x="839.0" y="147.4" width="1.1" height="1.0" fill="#c9c9c9" opacity="0.8"/>
<rect x="843.9" y="147.4" width="1.1" height="1.0" fill="#c9c9c9" opacity="0.8"/>
<rect x="834.3" y="146.3" width="15.4" height="0.6" fill="#7d655b" opacity="0.9"/>
<rect x="854.1" y="146.3" width="15.4" height="5.5" rx="0.8" fill="#2a211e"/>
<rect x="855.6" y="147.0" width="12.3" height="2.3" fill="#121111"/>
<rect x="855.3" y="149.2" width="12.9" height="1.7" rx="0.6" fill="#d9d0bf" opacity="0.89"/>
<rect x="858.7" y="147.4" width="1.1" height="1.0" fill="#c9c9c9" opacity="0.8"/>
<rect x="863.6" y="147.4" width="1.1" height="1.0" fill="#c9c9c9" opacity="0.8"/>
<rect x="854.1" y="146.3" width="15.4" height="0.6" fill="#7d655b" opacity="0.9"/>
<rect x="873.8" y="146.3" width="15.4" height="5.5" rx="0.8" fill="#2a211e"/>
<rect x="875.4" y="147.0" width="12.3" height="2.3" fill="#121111"/>
<rect x="875.1" y="149.2" width="12.9" height="1.7" rx="0.6" fill="#d9d0bf" opacity="0.89"/>
<rect x="878.4" y="147.4" width="1.1" height="1.0" fill="#c9c9c9" opacity="0.8"/>
<rect x="883.4" y="147.4" width="1.1" height="1.0" fill="#c9c9c9" opacity="0.8"/>
<rect x="873.8" y="146.3" width="15.4" height="0.6" fill="#7d655b" opacity="0.9"/>
<rect x="893.6" y="146.3" width="15.4" height="5.5" rx="0.8" fill="#2a211e"/>
<rect x="895.1" y="147.0" width="12.3" height="2.3" fill="#121111"/>
<rect x="894.8" y="149.2" width="12.9" height="1.7" rx="0.6" fill="#d9d0bf" opacity="0.89"/>
<rect x="898.2" y="147.4" width="1.1" height="1.0" fill="#c9c9c9" opacity="0.8"/>
<rect x="903.1" y="147.4" width="1.1" height="1.0" fill="#c9c9c9" opacity="0.8"/>
<rect x="893.6" y="146.3" width="15.4" height="0.6" fill="#7d655b" opacity="0.9"/>
<rect x="913.3" y="146.3" width="15.4" height="5.5" rx="0.8" fill="#2a211e"/>
<rect x="914.8" y="147.0" width="12.3" height="2.3" fill="#121111"/>
<rect x="914.5" y="149.2" width="12.9" height="1.7" rx="0.6" fill="#d9d0bf" opacity="0.89"/>
<rect x="917.9" y="147.4" width="1.1" height="1.0" fill="#c9c9c9" opacity="0.8"/>
<rect x="922.8" y="147.4" width="1.1" height="1.0" fill="#c9c9c9" opacity="0.8"/>
<rect x="913.3" y="146.3" width="15.4" height="0.6" fill="#7d655b" opacity="0.9"/>
<rect x="933.0" y="146.3" width="15.4" height="5.5" rx="0.8" fill="#2a211e"/>
<rect x="934.6" y="147.0" width="12.3" height="2.3" fill="#121111"/>
<rect x="934.3" y="149.2" width="12.9" height="1.7" rx="0.6" fill="#d9d0bf" opacity="0.89"/>
<rect x="937.7" y="147.4" width="1.1" height="1.0" fill="#c9c9c9" opacity="0.8"/>
<rect x="942.6" y="147.4" width="1.1" height="1.0" fill="#c9c9c9" opacity="0.8"/>
<rect x="933.0" y="146.3" width="15.4" height="0.6" fill="#7d655b" opacity="0.9"/>
<rect x="952.8" y="146.3" width="15.4" height="5.5" rx="0.8" fill="#2a211e"/>
<rect x="954.3" y="147.0" width="12.3" height="2.3" fill="#121111"/>
<rect x="954.0" y="149.2" width="12.9" height="1.7" rx="0.6" fill="#d9d0bf" opacity="0.89"/>
<rect x="957.4" y="147.4" width="1.1" height="1.0" fill="#c9c9c9" opacity="0.8"/>
<rect x="962.3" y="147.4" width="1.1" height="1.0" fill="#c9c9c9" opacity="0.8"/>
<rect x="952.8" y="146.3" width="15.4" height="0.6" fill="#7d655b" opacity="0.9"/>
<rect x="818.1" y="141.5" width="14.5" height="4.9" rx="0.7" fill="#2a211e"/>
<rect x="819.5" y="142.1" width="11.6" height="2.1" fill="#121111"/>
<rect x="819.2" y="144.1" width="12.2" height="1.4" rx="0.5" fill="#d9d0bf" opacity="0.86"/>
<rect x="822.4" y="142.5" width="1.0" height="0.9" fill="#c9c9c9" opacity="0.8"/>
<rect x="827.0" y="142.5" width="1.0" height="0.9" fill="#c9c9c9" opacity="0.8"/>
<rect x="818.1" y="141.5" width="14.5" height="0.6" fill="#7d655b" opacity="0.9"/>
<rect x="836.9" y="141.5" width="14.5" height="4.9" rx="0.7" fill="#2a211e"/>
<rect x="838.3" y="142.1" width="11.6" height="2.1" fill="#121111"/>
<rect x="838.1" y="144.1" width="12.2" height="1.4" rx="0.5" fill="#d9d0bf" opacity="0.86"/>
<rect x="841.2" y="142.5" width="1.0" height="0.9" fill="#c9c9c9" opacity="0.8"/>
<rect x="845.9" y="142.5" width="1.0" height="0.9" fill="#c9c9c9" opacity="0.8"/>
<rect x="836.9" y="141.5" width="14.5" height="0.6" fill="#7d655b" opacity="0.9"/>
<rect x="855.7" y="141.5" width="14.5" height="4.9" rx="0.7" fill="#2a211e"/>
<rect x="857.2" y="142.1" width="11.6" height="2.1" fill="#121111"/>
<rect x="856.9" y="144.1" width="12.2" height="1.4" rx="0.5" fill="#d9d0bf" opacity="0.86"/>
<rect x="860.1" y="142.5" width="1.0" height="0.9" fill="#c9c9c9" opacity="0.8"/>
<rect x="864.7" y="142.5" width="1.0" height="0.9" fill="#c9c9c9" opacity="0.8"/>
<rect x="855.7" y="141.5" width="14.5" height="0.6" fill="#7d655b" opacity="0.9"/>
<rect x="874.6" y="141.5" width="14.5" height="4.9" rx="0.7" fill="#2a211e"/>
<rect x="876.0" y="142.1" width="11.6" height="2.1" fill="#121111"/>
<rect x="875.7" y="144.1" width="12.2" height="1.4" rx="0.5" fill="#d9d0bf" opacity="0.86"/>
<rect x="878.9" y="142.5" width="1.0" height="0.9" fill="#c9c9c9" opacity="0.8"/>
<rect x="883.5" y="142.5" width="1.0" height="0.9" fill="#c9c9c9" opacity="0.8"/>
<rect x="874.6" y="141.5" width="14.5" height="0.6" fill="#7d655b" opacity="0.9"/>
<rect x="893.4" y="141.5" width="14.5" height="4.9" rx="0.7" fill="#2a211e"/>
<rect x="894.8" y="142.1" width="11.6" height="2.1" fill="#121111"/>
<rect x="894.6" y="144.1" width="12.2" height="1.4" rx="0.5" fill="#d9d0bf" opacity="0.86"/>
<rect x="897.7" y="142.5" width="1.0" height="0.9" fill="#c9c9c9" opacity="0.8"/>
<rect x="902.4" y="142.5" width="1.0" height="0.9" fill="#c9c9c9" opacity="0.8"/>
<rect x="893.4" y="141.5" width="14.5" height="0.6" fill="#7d655b" opacity="0.9"/>
<rect x="912.2" y="141.5" width="14.5" height="4.9" rx="0.7" fill="#2a211e"/>
<rect x="913.7" y="142.1" width="11.6" height="2.1" fill="#121111"/>
<rect x="913.4" y="144.1" width="12.2" height="1.4" rx="0.5" fill="#d9d0bf" opacity="0.86"/>
<rect x="916.6" y="142.5" width="1.0" height="0.9" fill="#c9c9c9" opacity="0.8"/>
<rect x="921.2" y="142.5" width="1.0" height="0.9" fill="#c9c9c9" opacity="0.8"/>
<rect x="912.2" y="141.5" width="14.5" height="0.6" fill="#7d655b" opacity="0.9"/>
<rect x="931.1" y="141.5" width="14.5" height="4.9" rx="0.7" fill="#2a211e"/>
<rect x="932.5" y="142.1" width="11.6" height="2.1" fill="#121111"/>
<rect x="932.2" y="144.1" width="12.2" height="1.4" rx="0.5" fill="#d9d0bf" opacity="0.86"/>
<rect x="935.4" y="142.5" width="1.0" height="0.9" fill="#c9c9c9" opacity="0.8"/>
<rect x="940.0" y="142.5" width="1.0" height="0.9" fill="#c9c9c9" opacity="0.8"/>
<rect x="931.1" y="141.5" width="14.5" height="0.6" fill="#7d655b" opacity="0.9"/>
<rect x="949.9" y="141.5" width="14.5" height="4.9" rx="0.7" fill="#2a211e"/>
<rect x="951.3" y="142.1" width="11.6" height="2.1" fill="#121111"/>
<rect x="951.1" y="144.1" width="12.2" height="1.4" rx="0.5" fill="#d9d0bf" opacity="0.86"/>
<rect x="954.2" y="142.5" width="1.0" height="0.9" fill="#c9c9c9" opacity="0.8"/>
<rect x="958.9" y="142.5" width="1.0" height="0.9" fill="#c9c9c9" opacity="0.8"/>
<rect x="949.9" y="141.5" width="14.5" height="0.6" fill="#7d655b" opacity="0.9"/>
<rect x="821.3" y="137.1" width="13.7" height="4.5" rx="0.7" fill="#2a211e"/>
<rect x="822.6" y="137.6" width="10.9" height="1.9" fill="#121111"/>
<rect x="822.4" y="139.4" width="11.5" height="1.3" rx="0.4" fill="#d9d0bf" opacity="0.83"/>
<rect x="825.4" y="138.0" width="1.0" height="0.8" fill="#c9c9c9" opacity="0.8"/>
<rect x="829.8" y="138.0" width="1.0" height="0.8" fill="#c9c9c9" opacity="0.8"/>
<rect x="821.3" y="137.1" width="13.7" height="0.6" fill="#7d655b" opacity="0.9"/>
<rect x="839.3" y="137.1" width="13.7" height="4.5" rx="0.7" fill="#2a211e"/>
<rect x="840.6" y="137.6" width="10.9" height="1.9" fill="#121111"/>
<rect x="840.4" y="139.4" width="11.5" height="1.3" rx="0.4" fill="#d9d0bf" opacity="0.83"/>
<rect x="843.4" y="138.0" width="1.0" height="0.8" fill="#c9c9c9" opacity="0.8"/>
<rect x="847.7" y="138.0" width="1.0" height="0.8" fill="#c9c9c9" opacity="0.8"/>
<rect x="839.3" y="137.1" width="13.7" height="0.6" fill="#7d655b" opacity="0.9"/>
<rect x="857.3" y="137.1" width="13.7" height="4.5" rx="0.7" fill="#2a211e"/>
<rect x="858.6" y="137.6" width="10.9" height="1.9" fill="#121111"/>
<rect x="858.4" y="139.4" width="11.5" height="1.3" rx="0.4" fill="#d9d0bf" opacity="0.83"/>
<rect x="861.4" y="138.0" width="1.0" height="0.8" fill="#c9c9c9" opacity="0.8"/>
<rect x="865.7" y="138.0" width="1.0" height="0.8" fill="#c9c9c9" opacity="0.8"/>
<rect x="857.3" y="137.1" width="13.7" height="0.6" fill="#7d655b" opacity="0.9"/>
<rect x="875.3" y="137.1" width="13.7" height="4.5" rx="0.7" fill="#2a211e"/>
<rect x="876.6" y="137.6" width="10.9" height="1.9" fill="#121111"/>
<rect x="876.3" y="139.4" width="11.5" height="1.3" rx="0.4" fill="#d9d0bf" opacity="0.83"/>
<rect x="879.4" y="138.0" width="1.0" height="0.8" fill="#c9c9c9" opacity="0.8"/>
<rect x="883.7" y="138.0" width="1.0" height="0.8" fill="#c9c9c9" opacity="0.8"/>
<rect x="875.3" y="137.1" width="13.7" height="0.6" fill="#7d655b" opacity="0.9"/>
<rect x="893.2" y="137.1" width="13.7" height="4.5" rx="0.7" fill="#2a211e"/>
<rect x="894.6" y="137.6" width="10.9" height="1.9" fill="#121111"/>
<rect x="894.3" y="139.4" width="11.5" height="1.3" rx="0.4" fill="#d9d0bf" opacity="0.83"/>
<rect x="897.3" y="138.0" width="1.0" height="0.8" fill="#c9c9c9" opacity="0.8"/>
<rect x="901.7" y="138.0" width="1.0" height="0.8" fill="#c9c9c9" opacity="0.8"/>
<rect x="893.2" y="137.1" width="13.7" height="0.6" fill="#7d655b" opacity="0.9"/>
<rect x="911.2" y="137.1" width="13.7" height="4.5" rx="0.7" fill="#2a211e"/>
<rect x="912.6" y="137.6" width="10.9" height="1.9" fill="#121111"/>
<rect x="912.3" y="139.4" width="11.5" height="1.3" rx="0.4" fill="#d9d0bf" opacity="0.83"/>
<rect x="915.3" y="138.0" width="1.0" height="0.8" fill="#c9c9c9" opacity="0.8"/>
<rect x="919.7" y="138.0" width="1.0" height="0.8" fill="#c9c9c9" opacity="0.8"/>
<rect x="911.2" y="137.1" width="13.7" height="0.6" fill="#7d655b" opacity="0.9"/>
<rect x="929.2" y="137.1" width="13.7" height="4.5" rx="0.7" fill="#2a211e"/>
<rect x="930.6" y="137.6" width="10.9" height="1.9" fill="#121111"/>
<rect x="930.3" y="139.4" width="11.5" height="1.3" rx="0.4" fill="#d9d0bf" opacity="0.83"/>
<rect x="933.3" y="138.0" width="1.0" height="0.8" fill="#c9c9c9" opacity="0.8"/>
<rect x="937.7" y="138.0" width="1.0" height="0.8" fill="#c9c9c9" opacity="0.8"/>
<rect x="929.2" y="137.1" width="13.7" height="0.6" fill="#7d655b" opacity="0.9"/>
<rect x="947.2" y="137.1" width="13.7" height="4.5" rx="0.7" fill="#2a211e"/>
<rect x="948.6" y="137.6" width="10.9" height="1.9" fill="#121111"/>
<rect x="948.3" y="139.4" width="11.5" height="1.3" rx="0.4" fill="#d9d0bf" opacity="0.83"/>
<rect x="951.3" y="138.0" width="1.0" height="0.8" fill="#c9c9c9" opacity="0.8"/>
<rect x="955.7" y="138.0" width="1.0" height="0.8" fill="#c9c9c9" opacity="0.8"/>
<rect x="947.2" y="137.1" width="13.7" height="0.6" fill="#7d655b" opacity="0.9"/>
<rect x="824.3" y="133.0" width="12.9" height="4.1" rx="0.6" fill="#2a211e"/>
<rect x="825.6" y="133.5" width="10.3" height="1.7" fill="#121111"/>
<rect x="825.3" y="135.2" width="10.9" height="1.1" rx="0.4" fill="#d9d0bf" opacity="0.81"/>
<rect x="828.2" y="133.8" width="0.9" height="0.7" fill="#c9c9c9" opacity="0.8"/>
<rect x="832.3" y="133.8" width="0.9" height="0.7" fill="#c9c9c9" opacity="0.8"/>
<rect x="824.3" y="133.0" width="12.9" height="0.6" fill="#7d655b" opacity="0.9"/>
<rect x="841.5" y="133.0" width="12.9" height="4.1" rx="0.6" fill="#2a211e"/>
<rect x="842.8" y="133.5" width="10.3" height="1.7" fill="#121111"/>
<rect x="842.5" y="135.2" width="10.9" height="1.1" rx="0.4" fill="#d9d0bf" opacity="0.81"/>
<rect x="845.4" y="133.8" width="0.9" height="0.7" fill="#c9c9c9" opacity="0.8"/>
<rect x="849.5" y="133.8" width="0.9" height="0.7" fill="#c9c9c9" opacity="0.8"/>
<rect x="841.5" y="133.0" width="12.9" height="0.6" fill="#7d655b" opacity="0.9"/>
<rect x="858.7" y="133.0" width="12.9" height="4.1" rx="0.6" fill="#2a211e"/>
<rect x="860.0" y="133.5" width="10.3" height="1.7" fill="#121111"/>
<rect x="859.7" y="135.2" width="10.9" height="1.1" rx="0.4" fill="#d9d0bf" opacity="0.81"/>
<rect x="862.6" y="133.8" width="0.9" height="0.7" fill="#c9c9c9" opacity="0.8"/>
<rect x="866.7" y="133.8" width="0.9" height="0.7" fill="#c9c9c9" opacity="0.8"/>
<rect x="858.7" y="133.0" width="12.9" height="0.6" fill="#7d655b" opacity="0.9"/>
<rect x="875.9" y="133.0" width="12.9" height="4.1" rx="0.6" fill="#2a211e"/>
<rect x="877.2" y="133.5" width="10.3" height="1.7" fill="#121111"/>
<rect x="876.9" y="135.2" width="10.9" height="1.1" rx="0.4" fill="#d9d0bf" opacity="0.81"/>
<rect x="879.8" y="133.8" width="0.9" height="0.7" fill="#c9c9c9" opacity="0.8"/>
<rect x="883.9" y="133.8" width="0.9" height="0.7" fill="#c9c9c9" opacity="0.8"/>
<rect x="875.9" y="133.0" width="12.9" height="0.6" fill="#7d655b" opacity="0.9"/>
<rect x="893.1" y="133.0" width="12.9" height="4.1" rx="0.6" fill="#2a211e"/>
<rect x="894.4" y="133.5" width="10.3" height="1.7" fill="#121111"/>
<rect x="894.1" y="135.2" width="10.9" height="1.1" rx="0.4" fill="#d9d0bf" opacity="0.81"/>
<rect x="897.0" y="133.8" width="0.9" height="0.7" fill="#c9c9c9" opacity="0.8"/>
<rect x="901.1" y="133.8" width="0.9" height="0.7" fill="#c9c9c9" opacity="0.8"/>
<rect x="893.1" y="133.0" width="12.9" height="0.6" fill="#7d655b" opacity="0.9"/>
<rect x="910.3" y="133.0" width="12.9" height="4.1" rx="0.6" fill="#2a211e"/>
<rect x="911.6" y="133.5" width="10.3" height="1.7" fill="#121111"/>
<rect x="911.3" y="135.2" width="10.9" height="1.1" rx="0.4" fill="#d9d0bf" opacity="0.81"/>
<rect x="914.2" y="133.8" width="0.9" height="0.7" fill="#c9c9c9" opacity="0.8"/>
<rect x="918.3" y="133.8" width="0.9" height="0.7" fill="#c9c9c9" opacity="0.8"/>
<rect x="910.3" y="133.0" width="12.9" height="0.6" fill="#7d655b" opacity="0.9"/>
<rect x="927.5" y="133.0" width="12.9" height="4.1" rx="0.6" fill="#2a211e"/>
<rect x="928.8" y="133.5" width="10.3" height="1.7" fill="#121111"/>
<rect x="928.5" y="135.2" width="10.9" height="1.1" rx="0.4" fill="#d9d0bf" opacity="0.81"/>
<rect x="931.4" y="133.8" width="0.9" height="0.7" fill="#c9c9c9" opacity="0.8"/>
<rect x="935.5" y="133.8" width="0.9" height="0.7" fill="#c9c9c9" opacity="0.8"/>
<rect x="927.5" y="133.0" width="12.9" height="0.6" fill="#7d655b" opacity="0.9"/>
<rect x="944.7" y="133.0" width="12.9" height="4.1" rx="0.6" fill="#2a211e"/>
<rect x="946.0" y="133.5" width="10.3" height="1.7" fill="#121111"/>
<rect x="945.7" y="135.2" width="10.9" height="1.1" rx="0.4" fill="#d9d0bf" opacity="0.81"/>
<rect x="948.6" y="133.8" width="0.9" height="0.7" fill="#c9c9c9" opacity="0.8"/>
<rect x="952.7" y="133.8" width="0.9" height="0.7" fill="#c9c9c9" opacity="0.8"/>
<rect x="944.7" y="133.0" width="12.9" height="0.6" fill="#7d655b" opacity="0.9"/>
<rect x="961.9" y="133.0" width="12.9" height="4.1" rx="0.6" fill="#2a211e"/>
<rect x="963.2" y="133.5" width="10.3" height="1.7" fill="#121111"/>
<rect x="962.9" y="135.2" width="10.9" height="1.1" rx="0.4" fill="#d9d0bf" opacity="0.81"/>
<rect x="965.8" y="133.8" width="0.9" height="0.7" fill="#c9c9c9" opacity="0.8"/>
<rect x="969.9" y="133.8" width="0.9" height="0.7" fill="#c9c9c9" opacity="0.8"/>
<rect x="961.9" y="133.0" width="12.9" height="0.6" fill="#7d655b" opacity="0.9"/>
<rect x="810.7" y="129.3" width="12.2" height="3.8" rx="0.6" fill="#2a211e"/>
<rect x="811.9" y="129.7" width="9.8" height="1.6" fill="#121111"/>
<rect x="812.5" y="131.2" width="8.6" height="1.0" rx="0.4" fill="#b8b0a6" opacity="0.78"/>
<rect x="810.7" y="129.3" width="12.2" height="0.6" fill="#7d655b" opacity="0.9"/>
<rect x="827.1" y="129.3" width="12.2" height="3.8" rx="0.6" fill="#2a211e"/>
<rect x="828.4" y="129.7" width="9.8" height="1.6" fill="#121111"/>
<rect x="829.0" y="131.2" width="8.6" height="1.0" rx="0.4" fill="#b8b0a6" opacity="0.78"/>
<rect x="827.1" y="129.3" width="12.2" height="0.6" fill="#7d655b" opacity="0.9"/>
<rect x="843.6" y="129.3" width="12.2" height="3.8" rx="0.6" fill="#2a211e"/>
<rect x="844.8" y="129.7" width="9.8" height="1.6" fill="#121111"/>
<rect x="845.4" y="131.2" width="8.6" height="1.0" rx="0.4" fill="#b8b0a6" opacity="0.78"/>
<rect x="843.6" y="129.3" width="12.2" height="0.6" fill="#7d655b" opacity="0.9"/>
<rect x="860.0" y="129.3" width="12.2" height="3.8" rx="0.6" fill="#2a211e"/>
<rect x="861.3" y="129.7" width="9.8" height="1.6" fill="#121111"/>
<rect x="861.9" y="131.2" width="8.6" height="1.0" rx="0.4" fill="#b8b0a6" opacity="0.78"/>
<rect x="860.0" y="129.3" width="12.2" height="0.6" fill="#7d655b" opacity="0.9"/>
<rect x="876.5" y="129.3" width="12.2" height="3.8" rx="0.6" fill="#2a211e"/>
<rect x="877.7" y="129.7" width="9.8" height="1.6" fill="#121111"/>
<rect x="878.3" y="131.2" width="8.6" height="1.0" rx="0.4" fill="#b8b0a6" opacity="0.78"/>
<rect x="876.5" y="129.3" width="12.2" height="0.6" fill="#7d655b" opacity="0.9"/>
<rect x="892.9" y="129.3" width="12.2" height="3.8" rx="0.6" fill="#2a211e"/>
<rect x="894.2" y="129.7" width="9.8" height="1.6" fill="#121111"/>
<rect x="894.8" y="131.2" width="8.6" height="1.0" rx="0.4" fill="#b8b0a6" opacity="0.78"/>
<rect x="892.9" y="129.3" width="12.2" height="0.6" fill="#7d655b" opacity="0.9"/>
<rect x="909.4" y="129.3" width="12.2" height="3.8" rx="0.6" fill="#2a211e"/>
<rect x="910.6" y="129.7" width="9.8" height="1.6" fill="#121111"/>
<rect x="911.2" y="131.2" width="8.6" height="1.0" rx="0.4" fill="#b8b0a6" opacity="0.78"/>
<rect x="909.4" y="129.3" width="12.2" height="0.6" fill="#7d655b" opacity="0.9"/>
<rect x="925.8" y="129.3" width="12.2" height="3.8" rx="0.6" fill="#2a211e"/>
<rect x="927.1" y="129.7" width="9.8" height="1.6" fill="#121111"/>
<rect x="927.7" y="131.2" width="8.6" height="1.0" rx="0.4" fill="#b8b0a6" opacity="0.78"/>
<rect x="925.8" y="129.3" width="12.2" height="0.6" fill="#7d655b" opacity="0.9"/>
<rect x="942.3" y="129.3" width="12.2" height="3.8" rx="0.6" fill="#2a211e"/>
<rect x="943.5" y="129.7" width="9.8" height="1.6" fill="#121111"/>
<rect x="944.1" y="131.2" width="8.6" height="1.0" rx="0.4" fill="#b8b0a6" opacity="0.78"/>
<rect x="942.3" y="129.3" width="12.2" height="0.6" fill="#7d655b" opacity="0.9"/>
<rect x="958.7" y="129.3" width="12.2" height="3.8" rx="0.6" fill="#2a211e"/>
<rect x="960.0" y="129.7" width="9.8" height="1.6" fill="#121111"/>
<rect x="960.6" y="131.2" width="8.6" height="1.0" rx="0.4" fill="#b8b0a6" opacity="0.78"/>
<rect x="958.7" y="129.3" width="12.2" height="0.6" fill="#7d655b" opacity="0.9"/>
<rect x="814.1" y="125.7" width="11.6" height="3.6" rx="0.5" fill="#2a211e"/>
<rect x="815.3" y="126.2" width="9.3" height="1.5" fill="#121111"/>
<rect x="815.9" y="127.6" width="8.1" height="0.9" rx="0.4" fill="#b8b0a6" opacity="0.76"/>
<rect x="814.1" y="125.7" width="11.6" height="0.6" fill="#7d655b" opacity="0.9"/>
<rect x="829.9" y="125.7" width="11.6" height="3.6" rx="0.5" fill="#2a211e"/>
<rect x="831.0" y="126.2" width="9.3" height="1.5" fill="#121111"/>
<rect x="831.6" y="127.6" width="8.1" height="0.9" rx="0.4" fill="#b8b0a6" opacity="0.76"/>
<rect x="829.9" y="125.7" width="11.6" height="0.6" fill="#7d655b" opacity="0.9"/>
<rect x="845.6" y="125.7" width="11.6" height="3.6" rx="0.5" fill="#2a211e"/>
<rect x="846.8" y="126.2" width="9.3" height="1.5" fill="#121111"/>
<rect x="847.3" y="127.6" width="8.1" height="0.9" rx="0.4" fill="#b8b0a6" opacity="0.76"/>
<rect x="845.6" y="125.7" width="11.6" height="0.6" fill="#7d655b" opacity="0.9"/>
<rect x="861.3" y="125.7" width="11.6" height="3.6" rx="0.5" fill="#2a211e"/>
<rect x="862.5" y="126.2" width="9.3" height="1.5" fill="#121111"/>
<rect x="863.1" y="127.6" width="8.1" height="0.9" rx="0.4" fill="#b8b0a6" opacity="0.76"/>
<rect x="861.3" y="125.7" width="11.6" height="0.6" fill="#7d655b" opacity="0.9"/>
<rect x="877.1" y="125.7" width="11.6" height="3.6" rx="0.5" fill="#2a211e"/>
<rect x="878.2" y="126.2" width="9.3" height="1.5" fill="#121111"/>
<rect x="878.8" y="127.6" width="8.1" height="0.9" rx="0.4" fill="#b8b0a6" opacity="0.76"/>
<rect x="877.1" y="125.7" width="11.6" height="0.6" fill="#7d655b" opacity="0.9"/>
<rect x="892.8" y="125.7" width="11.6" height="3.6" rx="0.5" fill="#2a211e"/>
<rect x="893.9" y="126.2" width="9.3" height="1.5" fill="#121111"/>
<rect x="894.5" y="127.6" width="8.1" height="0.9" rx="0.4" fill="#b8b0a6" opacity="0.76"/>
<rect x="892.8" y="125.7" width="11.6" height="0.6" fill="#7d655b" opacity="0.9"/>
<rect x="908.5" y="125.7" width="11.6" height="3.6" rx="0.5" fill="#2a211e"/>
<rect x="909.7" y="126.2" width="9.3" height="1.5" fill="#121111"/>
<rect x="910.3" y="127.6" width="8.1" height="0.9" rx="0.4" fill="#b8b0a6" opacity="0.76"/>
<rect x="908.5" y="125.7" width="11.6" height="0.6" fill="#7d655b" opacity="0.9"/>
<rect x="924.3" y="125.7" width="11.6" height="3.6" rx="0.5" fill="#2a211e"/>
<rect x="925.4" y="126.2" width="9.3" height="1.5" fill="#121111"/>
<rect x="926.0" y="127.6" width="8.1" height="0.9" rx="0.4" fill="#b8b0a6" opacity="0.76"/>
<rect x="924.3" y="125.7" width="11.6" height="0.6" fill="#7d655b" opacity="0.9"/>
<rect x="940.0" y="125.7" width="11.6" height="3.6" rx="0.5" fill="#2a211e"/>
<rect x="941.1" y="126.2" width="9.3" height="1.5" fill="#121111"/>
<rect x="941.7" y="127.6" width="8.1" height="0.9" rx="0.4" fill="#b8b0a6" opacity="0.76"/>
<rect x="940.0" y="125.7" width="11.6" height="0.6" fill="#7d655b" opacity="0.9"/>
<rect x="955.7" y="125.7" width="11.6" height="3.6" rx="0.5" fill="#2a211e"/>
<rect x="956.9" y="126.2" width="9.3" height="1.5" fill="#121111"/>
<rect x="957.5" y="127.6" width="8.1" height="0.9" rx="0.4" fill="#b8b0a6" opacity="0.76"/>
<rect x="955.7" y="125.7" width="11.6" height="0.6" fill="#7d655b" opacity="0.9"/>
<rect x="817.4" y="122.4" width="11.0" height="3.4" rx="0.5" fill="#2a211e"/>
<rect x="818.5" y="122.8" width="8.8" height="1.4" fill="#121111"/>
<rect x="819.1" y="124.1" width="7.7" height="0.9" rx="0.3" fill="#b8b0a6" opacity="0.74"/>
<rect x="817.4" y="122.4" width="11.0" height="0.6" fill="#7d655b" opacity="0.9"/>
<rect x="832.5" y="122.4" width="11.0" height="3.4" rx="0.5" fill="#2a211e"/>
<rect x="833.6" y="122.8" width="8.8" height="1.4" fill="#121111"/>
<rect x="834.1" y="124.1" width="7.7" height="0.9" rx="0.3" fill="#b8b0a6" opacity="0.74"/>
<rect x="832.5" y="122.4" width="11.0" height="0.6" fill="#7d655b" opacity="0.9"/>
<rect x="847.5" y="122.4" width="11.0" height="3.4" rx="0.5" fill="#2a211e"/>
<rect x="848.6" y="122.8" width="8.8" height="1.4" fill="#121111"/>
<rect x="849.2" y="124.1" width="7.7" height="0.9" rx="0.3" fill="#b8b0a6" opacity="0.74"/>
<rect x="847.5" y="122.4" width="11.0" height="0.6" fill="#7d655b" opacity="0.9"/>
<rect x="862.6" y="122.4" width="11.0" height="3.4" rx="0.5" fill="#2a211e"/>
<rect x="863.7" y="122.8" width="8.8" height="1.4" fill="#121111"/>
<rect x="864.2" y="124.1" width="7.7" height="0.9" rx="0.3" fill="#b8b0a6" opacity="0.74"/>
<rect x="862.6" y="122.4" width="11.0" height="0.6" fill="#7d655b" opacity="0.9"/>
<rect x="877.6" y="122.4" width="11.0" height="3.4" rx="0.5" fill="#2a211e"/>
<rect x="878.7" y="122.8" width="8.8" height="1.4" fill="#121111"/>
<rect x="879.2" y="124.1" width="7.7" height="0.9" rx="0.3" fill="#b8b0a6" opacity="0.74"/>
<rect x="877.6" y="122.4" width="11.0" height="0.6" fill="#7d655b" opacity="0.9"/>
<rect x="892.6" y="122.4" width="11.0" height="3.4" rx="0.5" fill="#2a211e"/>
<rect x="893.7" y="122.8" width="8.8" height="1.4" fill="#121111"/>
<rect x="894.3" y="124.1" width="7.7" height="0.9" rx="0.3" fill="#b8b0a6" opacity="0.74"/>
<rect x="892.6" y="122.4" width="11.0" height="0.6" fill="#7d655b" opacity="0.9"/>
<rect x="907.7" y="122.4" width="11.0" height="3.4" rx="0.5" fill="#2a211e"/>
<rect x="908.8" y="122.8" width="8.8" height="1.4" fill="#121111"/>
<rect x="909.3" y="124.1" width="7.7" height="0.9" rx="0.3" fill="#b8b0a6" opacity="0.74"/>
<rect x="907.7" y="122.4" width="11.0" height="0.6" fill="#7d655b" opacity="0.9"/>
<rect x="922.7" y="122.4" width="11.0" height="3.4" rx="0.5" fill="#2a211e"/>
<rect x="923.8" y="122.8" width="8.8" height="1.4" fill="#121111"/>
<rect x="924.4" y="124.1" width="7.7" height="0.9" rx="0.3" fill="#b8b0a6" opacity="0.74"/>
<rect x="922.7" y="122.4" width="11.0" height="0.6" fill="#7d655b" opacity="0.9"/>
<rect x="937.8" y="122.4" width="11.0" height="3.4" rx="0.5" fill="#2a211e"/>
<rect x="938.9" y="122.8" width="8.8" height="1.4" fill="#121111"/>
<rect x="939.4" y="124.1" width="7.7" height="0.9" rx="0.3" fill="#b8b0a6" opacity="0.74"/>
<rect x="937.8" y="122.4" width="11.0" height="0.6" fill="#7d655b" opacity="0.9"/>
<rect x="952.8" y="122.4" width="11.0" height="3.4" rx="0.5" fill="#2a211e"/>
<rect x="953.9" y="122.8" width="8.8" height="1.4" fill="#121111"/>
<rect x="954.5" y="124.1" width="7.7" height="0.9" rx="0.3" fill="#b8b0a6" opacity="0.74"/>
<rect x="952.8" y="122.4" width="11.0" height="0.6" fill="#7d655b" opacity="0.9"/>
<rect x="820.6" y="119.2" width="10.4" height="3.2" rx="0.5" fill="#2a211e"/>
<rect x="821.7" y="119.6" width="8.3" height="1.4" fill="#121111"/>
<rect x="822.2" y="120.9" width="7.3" height="0.9" rx="0.3" fill="#b8b0a6" opacity="0.72"/>
<rect x="820.6" y="119.2" width="10.4" height="0.6" fill="#7d655b" opacity="0.9"/>
<rect x="835.0" y="119.2" width="10.4" height="3.2" rx="0.5" fill="#2a211e"/>
<rect x="836.0" y="119.6" width="8.3" height="1.4" fill="#121111"/>
<rect x="836.6" y="120.9" width="7.3" height="0.9" rx="0.3" fill="#b8b0a6" opacity="0.72"/>
<rect x="835.0" y="119.2" width="10.4" height="0.6" fill="#7d655b" opacity="0.9"/>
<rect x="849.4" y="119.2" width="10.4" height="3.2" rx="0.5" fill="#2a211e"/>
<rect x="850.4" y="119.6" width="8.3" height="1.4" fill="#121111"/>
<rect x="850.9" y="120.9" width="7.3" height="0.9" rx="0.3" fill="#b8b0a6" opacity="0.72"/>
<rect x="849.4" y="119.2" width="10.4" height="0.6" fill="#7d655b" opacity="0.9"/>
<rect x="863.7" y="119.2" width="10.4" height="3.2" rx="0.5" fill="#2a211e"/>
<rect x="864.8" y="119.6" width="8.3" height="1.4" fill="#121111"/>
<rect x="865.3" y="120.9" width="7.3" height="0.9" rx="0.3" fill="#b8b0a6" opacity="0.72"/>
<rect x="863.7" y="119.2" width="10.4" height="0.6" fill="#7d655b" opacity="0.9"/>
<rect x="878.1" y="119.2" width="10.4" height="3.2" rx="0.5" fill="#2a211e"/>
<rect x="879.2" y="119.6" width="8.3" height="1.4" fill="#121111"/>
<rect x="879.7" y="120.9" width="7.3" height="0.9" rx="0.3" fill="#b8b0a6" opacity="0.72"/>
<rect x="878.1" y="119.2" width="10.4" height="0.6" fill="#7d655b" opacity="0.9"/>
<rect x="892.5" y="119.2" width="10.4" height="3.2" rx="0.5" fill="#2a211e"/>
<rect x="893.5" y="119.6" width="8.3" height="1.4" fill="#121111"/>
<rect x="894.1" y="120.9" width="7.3" height="0.9" rx="0.3" fill="#b8b0a6" opacity="0.72"/>
<rect x="892.5" y="119.2" width="10.4" height="0.6" fill="#7d655b" opacity="0.9"/>
<rect x="906.9" y="119.2" width="10.4" height="3.2" rx="0.5" fill="#2a211e"/>
<rect x="907.9" y="119.6" width="8.3" height="1.4" fill="#121111"/>
<rect x="908.4" y="120.9" width="7.3" height="0.9" rx="0.3" fill="#b8b0a6" opacity="0.72"/>
<rect x="906.9" y="119.2" width="10.4" height="0.6" fill="#7d655b" opacity="0.9"/>
<rect x="921.2" y="119.2" width="10.4" height="3.2" rx="0.5" fill="#2a211e"/>
<rect x="922.3" y="119.6" width="8.3" height="1.4" fill="#121111"/>
<rect x="922.8" y="120.9" width="7.3" height="0.9" rx="0.3" fill="#b8b0a6" opacity="0.72"/>
<rect x="921.2" y="119.2" width="10.4" height="0.6" fill="#7d655b" opacity="0.9"/>
<rect x="935.6" y="119.2" width="10.4" height="3.2" rx="0.5" fill="#2a211e"/>
<rect x="936.7" y="119.6" width="8.3" height="1.4" fill="#121111"/>
<rect x="937.2" y="120.9" width="7.3" height="0.9" rx="0.3" fill="#b8b0a6" opacity="0.72"/>
<rect x="935.6" y="119.2" width="10.4" height="0.6" fill="#7d655b" opacity="0.9"/>
<rect x="950.0" y="119.2" width="10.4" height="3.2" rx="0.5" fill="#2a211e"/>
<rect x="951.0" y="119.6" width="8.3" height="1.4" fill="#121111"/>
<rect x="951.6" y="120.9" width="7.3" height="0.9" rx="0.3" fill="#b8b0a6" opacity="0.72"/>
<rect x="950.0" y="119.2" width="10.4" height="0.6" fill="#7d655b" opacity="0.9"/>
<rect x="823.7" y="116.1" width="9.8" height="3.1" rx="0.5" fill="#2a211e"/>
<rect x="824.7" y="116.5" width="7.9" height="1.3" fill="#121111"/>
<rect x="825.2" y="117.7" width="6.9" height="0.9" rx="0.3" fill="#b8b0a6" opacity="0.71"/>
<rect x="823.7" y="116.1" width="9.8" height="0.6" fill="#7d655b" opacity="0.9"/>
<rect x="837.5" y="116.1" width="9.8" height="3.1" rx="0.5" fill="#2a211e"/>
<rect x="838.4" y="116.5" width="7.9" height="1.3" fill="#121111"/>
<rect x="838.9" y="117.7" width="6.9" height="0.9" rx="0.3" fill="#b8b0a6" opacity="0.71"/>
<rect x="837.5" y="116.1" width="9.8" height="0.6" fill="#7d655b" opacity="0.9"/>
<rect x="851.2" y="116.1" width="9.8" height="3.1" rx="0.5" fill="#2a211e"/>
<rect x="852.2" y="116.5" width="7.9" height="1.3" fill="#121111"/>
<rect x="852.7" y="117.7" width="6.9" height="0.9" rx="0.3" fill="#b8b0a6" opacity="0.71"/>
<rect x="851.2" y="116.1" width="9.8" height="0.6" fill="#7d655b" opacity="0.9"/>
<rect x="864.9" y="116.1" width="9.8" height="3.1" rx="0.5" fill="#2a211e"/>
<rect x="865.9" y="116.5" width="7.9" height="1.3" fill="#121111"/>
<rect x="866.4" y="117.7" width="6.9" height="0.9" rx="0.3" fill="#b8b0a6" opacity="0.71"/>
<rect x="864.9" y="116.1" width="9.8" height="0.6" fill="#7d655b" opacity="0.9"/>
<rect x="878.6" y="116.1" width="9.8" height="3.1" rx="0.5" fill="#2a211e"/>
<rect x="879.6" y="116.5" width="7.9" height="1.3" fill="#121111"/>
<rect x="880.1" y="117.7" width="6.9" height="0.9" rx="0.3" fill="#b8b0a6" opacity="0.71"/>
<rect x="878.6" y="116.1" width="9.8" height="0.6" fill="#7d655b" opacity="0.9"/>
<rect x="892.4" y="116.1" width="9.8" height="3.1" rx="0.5" fill="#2a211e"/>
<rect x="893.3" y="116.5" width="7.9" height="1.3" fill="#121111"/>
<rect x="893.8" y="117.7" width="6.9" height="0.9" rx="0.3" fill="#b8b0a6" opacity="0.71"/>
<rect x="892.4" y="116.1" width="9.8" height="0.6" fill="#7d655b" opacity="0.9"/>
<rect x="906.1" y="116.1" width="9.8" height="3.1" rx="0.5" fill="#2a211e"/>
<rect x="907.1" y="116.5" width="7.9" height="1.3" fill="#121111"/>
<rect x="907.6" y="117.7" width="6.9" height="0.9" rx="0.3" fill="#b8b0a6" opacity="0.71"/>
<rect x="906.1" y="116.1" width="9.8" height="0.6" fill="#7d655b" opacity="0.9"/>
<rect x="919.8" y="116.1" width="9.8" height="3.1" rx="0.5" fill="#2a211e"/>
<rect x="920.8" y="116.5" width="7.9" height="1.3" fill="#121111"/>
<rect x="921.3" y="117.7" width="6.9" height="0.9" rx="0.3" fill="#b8b0a6" opacity="0.71"/>
<rect x="919.8" y="116.1" width="9.8" height="0.6" fill="#7d655b" opacity="0.9"/>
<rect x="933.5" y="116.1" width="9.8" height="3.1" rx="0.5" fill="#2a211e"/>
<rect x="934.5" y="116.5" width="7.9" height="1.3" fill="#121111"/>
<rect x="935.0" y="117.7" width="6.9" height="0.9" rx="0.3" fill="#b8b0a6" opacity="0.71"/>
<rect x="933.5" y="116.1" width="9.8" height="0.6" fill="#7d655b" opacity="0.9"/>
<rect x="947.2" y="116.1" width="9.8" height="3.1" rx="0.5" fill="#2a211e"/>
<rect x="948.2" y="116.5" width="7.9" height="1.3" fill="#121111"/>
<rect x="948.7" y="117.7" width="6.9" height="0.9" rx="0.3" fill="#b8b0a6" opacity="0.71"/>
<rect x="947.2" y="116.1" width="9.8" height="0.6" fill="#7d655b" opacity="0.9"/>
<rect x="961.0" y="116.1" width="9.8" height="3.1" rx="0.5" fill="#2a211e"/>
<rect x="962.0" y="116.5" width="7.9" height="1.3" fill="#121111"/>
<rect x="962.4" y="117.7" width="6.9" height="0.9" rx="0.3" fill="#b8b0a6" opacity="0.71"/>
<rect x="961.0" y="116.1" width="9.8" height="0.6" fill="#7d655b" opacity="0.9"/>
<rect x="813.7" y="113.1" width="9.3" height="3.0" rx="0.4" fill="#2a211e"/>
<rect x="814.6" y="113.5" width="7.4" height="1.3" fill="#121111"/>
<rect x="815.7" y="114.7" width="5.2" height="0.9" rx="0.3" fill="#a39c98" opacity="0.69"/>
<rect x="813.7" y="113.1" width="9.3" height="0.6" fill="#7d655b" opacity="0.9"/>
<rect x="826.8" y="113.1" width="9.3" height="3.0" rx="0.4" fill="#2a211e"/>
<rect x="827.7" y="113.5" width="7.4" height="1.3" fill="#121111"/>
<rect x="828.8" y="114.7" width="5.2" height="0.9" rx="0.3" fill="#a39c98" opacity="0.69"/>
<rect x="826.8" y="113.1" width="9.3" height="0.6" fill="#7d655b" opacity="0.9"/>
<rect x="839.9" y="113.1" width="9.3" height="3.0" rx="0.4" fill="#2a211e"/>
<rect x="840.8" y="113.5" width="7.4" height="1.3" fill="#121111"/>
<rect x="841.9" y="114.7" width="5.2" height="0.9" rx="0.3" fill="#a39c98" opacity="0.69"/>
<rect x="839.9" y="113.1" width="9.3" height="0.6" fill="#7d655b" opacity="0.9"/>
<rect x="853.0" y="113.1" width="9.3" height="3.0" rx="0.4" fill="#2a211e"/>
<rect x="853.9" y="113.5" width="7.4" height="1.3" fill="#121111"/>
<rect x="855.0" y="114.7" width="5.2" height="0.9" rx="0.3" fill="#a39c98" opacity="0.69"/>
<rect x="853.0" y="113.1" width="9.3" height="0.6" fill="#7d655b" opacity="0.9"/>
<rect x="866.0" y="113.1" width="9.3" height="3.0" rx="0.4" fill="#2a211e"/>
<rect x="867.0" y="113.5" width="7.4" height="1.3" fill="#121111"/>
<rect x="868.1" y="114.7" width="5.2" height="0.9" rx="0.3" fill="#a39c98" opacity="0.69"/>
<rect x="866.0" y="113.1" width="9.3" height="0.6" fill="#7d655b" opacity="0.9"/>
<rect x="879.1" y="113.1" width="9.3" height="3.0" rx="0.4" fill="#2a211e"/>
<rect x="880.1" y="113.5" width="7.4" height="1.3" fill="#121111"/>
<rect x="881.2" y="114.7" width="5.2" height="0.9" rx="0.3" fill="#a39c98" opacity="0.69"/>
<rect x="879.1" y="113.1" width="9.3" height="0.6" fill="#7d655b" opacity="0.9"/>
<rect x="892.2" y="113.1" width="9.3" height="3.0" rx="0.4" fill="#2a211e"/>
<rect x="893.1" y="113.5" width="7.4" height="1.3" fill="#121111"/>
<rect x="894.3" y="114.7" width="5.2" height="0.9" rx="0.3" fill="#a39c98" opacity="0.69"/>
<rect x="892.2" y="113.1" width="9.3" height="0.6" fill="#7d655b" opacity="0.9"/>
<rect x="905.3" y="113.1" width="9.3" height="3.0" rx="0.4" fill="#2a211e"/>
<rect x="906.2" y="113.5" width="7.4" height="1.3" fill="#121111"/>
<rect x="907.3" y="114.7" width="5.2" height="0.9" rx="0.3" fill="#a39c98" opacity="0.69"/>
<rect x="905.3" y="113.1" width="9.3" height="0.6" fill="#7d655b" opacity="0.9"/>
<rect x="918.4" y="113.1" width="9.3" height="3.0" rx="0.4" fill="#2a211e"/>
<rect x="919.3" y="113.5" width="7.4" height="1.3" fill="#121111"/>
<rect x="920.4" y="114.7" width="5.2" height="0.9" rx="0.3" fill="#a39c98" opacity="0.69"/>
<rect x="918.4" y="113.1" width="9.3" height="0.6" fill="#7d655b" opacity="0.9"/>
<rect x="931.5" y="113.1" width="9.3" height="3.0" rx="0.4" fill="#2a211e"/>
<rect x="932.4" y="113.5" width="7.4" height="1.3" fill="#121111"/>
<rect x="933.5" y="114.7" width="5.2" height="0.9" rx="0.3" fill="#a39c98" opacity="0.69"/>
<rect x="931.5" y="113.1" width="9.3" height="0.6" fill="#7d655b" opacity="0.9"/>
<rect x="944.5" y="113.1" width="9.3" height="3.0" rx="0.4" fill="#2a211e"/>
<rect x="945.5" y="113.5" width="7.4" height="1.3" fill="#121111"/>
<rect x="946.6" y="114.7" width="5.2" height="0.9" rx="0.3" fill="#a39c98" opacity="0.69"/>
<rect x="944.5" y="113.1" width="9.3" height="0.6" fill="#7d655b" opacity="0.9"/>
<rect x="957.6" y="113.1" width="9.3" height="3.0" rx="0.4" fill="#2a211e"/>
<rect x="958.6" y="113.5" width="7.4" height="1.3" fill="#121111"/>
<rect x="959.7" y="114.7" width="5.2" height="0.9" rx="0.3" fill="#a39c98" opacity="0.69"/>
<rect x="957.6" y="113.1" width="9.3" height="0.6" fill="#7d655b" opacity="0.9"/>
<rect x="817.4" y="110.2" width="8.8" height="2.9" rx="0.4" fill="#2a211e"/>
<rect x="818.2" y="110.6" width="7.0" height="1.2" fill="#121111"/>
<rect x="819.3" y="111.7" width="4.9" height="0.9" rx="0.3" fill="#a39c98" opacity="0.67"/>
<rect x="817.4" y="110.2" width="8.8" height="0.6" fill="#7d655b" opacity="0.9"/>
<rect x="829.8" y="110.2" width="8.8" height="2.9" rx="0.4" fill="#2a211e"/>
<rect x="830.7" y="110.6" width="7.0" height="1.2" fill="#121111"/>
<rect x="831.7" y="111.7" width="4.9" height="0.9" rx="0.3" fill="#a39c98" opacity="0.67"/>
<rect x="829.8" y="110.2" width="8.8" height="0.6" fill="#7d655b" opacity="0.9"/>
<rect x="842.3" y="110.2" width="8.8" height="2.9" rx="0.4" fill="#2a211e"/>
<rect x="843.1" y="110.6" width="7.0" height="1.2" fill="#121111"/>
<rect x="844.2" y="111.7" width="4.9" height="0.9" rx="0.3" fill="#a39c98" opacity="0.67"/>
<rect x="842.3" y="110.2" width="8.8" height="0.6" fill="#7d655b" opacity="0.9"/>
<rect x="854.7" y="110.2" width="8.8" height="2.9" rx="0.4" fill="#2a211e"/>
<rect x="855.6" y="110.6" width="7.0" height="1.2" fill="#121111"/>
<rect x="856.6" y="111.7" width="4.9" height="0.9" rx="0.3" fill="#a39c98" opacity="0.67"/>
<rect x="854.7" y="110.2" width="8.8" height="0.6" fill="#7d655b" opacity="0.9"/>
<rect x="867.2" y="110.2" width="8.8" height="2.9" rx="0.4" fill="#2a211e"/>
<rect x="868.0" y="110.6" width="7.0" height="1.2" fill="#121111"/>
<rect x="869.1" y="111.7" width="4.9" height="0.9" rx="0.3" fill="#a39c98" opacity="0.67"/>
<rect x="867.2" y="110.2" width="8.8" height="0.6" fill="#7d655b" opacity="0.9"/>
<rect x="879.6" y="110.2" width="8.8" height="2.9" rx="0.4" fill="#2a211e"/>
<rect x="880.5" y="110.6" width="7.0" height="1.2" fill="#121111"/>
<rect x="881.5" y="111.7" width="4.9" height="0.9" rx="0.3" fill="#a39c98" opacity="0.67"/>
<rect x="879.6" y="110.2" width="8.8" height="0.6" fill="#7d655b" opacity="0.9"/>
<rect x="892.1" y="110.2" width="8.8" height="2.9" rx="0.4" fill="#2a211e"/>
<rect x="892.9" y="110.6" width="7.0" height="1.2" fill="#121111"/>
<rect x="894.0" y="111.7" width="4.9" height="0.9" rx="0.3" fill="#a39c98" opacity="0.67"/>
<rect x="892.1" y="110.2" width="8.8" height="0.6" fill="#7d655b" opacity="0.9"/>
<rect x="904.5" y="110.2" width="8.8" height="2.9" rx="0.4" fill="#2a211e"/>
<rect x="905.4" y="110.6" width="7.0" height="1.2" fill="#121111"/>
<rect x="906.4" y="111.7" width="4.9" height="0.9" rx="0.3" fill="#a39c98" opacity="0.67"/>
<rect x="904.5" y="110.2" width="8.8" height="0.6" fill="#7d655b" opacity="0.9"/>
<rect x="917.0" y="110.2" width="8.8" height="2.9" rx="0.4" fill="#2a211e"/>
<rect x="917.8" y="110.6" width="7.0" height="1.2" fill="#121111"/>
<rect x="918.9" y="111.7" width="4.9" height="0.9" rx="0.3" fill="#a39c98" opacity="0.67"/>
<rect x="917.0" y="110.2" width="8.8" height="0.6" fill="#7d655b" opacity="0.9"/>
<rect x="929.4" y="110.2" width="8.8" height="2.9" rx="0.4" fill="#2a211e"/>
<rect x="930.3" y="110.6" width="7.0" height="1.2" fill="#121111"/>
<rect x="931.3" y="111.7" width="4.9" height="0.9" rx="0.3" fill="#a39c98" opacity="0.67"/>
<rect x="929.4" y="110.2" width="8.8" height="0.6" fill="#7d655b" opacity="0.9"/>
<rect x="941.9" y="110.2" width="8.8" height="2.9" rx="0.4" fill="#2a211e"/>
<rect x="942.7" y="110.6" width="7.0" height="1.2" fill="#121111"/>
<rect x="943.8" y="111.7" width="4.9" height="0.9" rx="0.3" fill="#a39c98" opacity="0.67"/>
<rect x="941.9" y="110.2" width="8.8" height="0.6" fill="#7d655b" opacity="0.9"/>
<rect x="954.3" y="110.2" width="8.8" height="2.9" rx="0.4" fill="#2a211e"/>
<rect x="955.2" y="110.6" width="7.0" height="1.2" fill="#121111"/>
<rect x="956.2" y="111.7" width="4.9" height="0.9" rx="0.3" fill="#a39c98" opacity="0.67"/>
<rect x="954.3" y="110.2" width="8.8" height="0.6" fill="#7d655b" opacity="0.9"/>
<rect x="821.0" y="107.3" width="8.3" height="2.9" rx="0.4" fill="#2a211e"/>
<rect x="821.8" y="107.7" width="6.6" height="1.2" fill="#121111"/>
<rect x="822.8" y="108.8" width="4.6" height="0.9" rx="0.3" fill="#a39c98" opacity="0.65"/>
<rect x="821.0" y="107.3" width="8.3" height="0.6" fill="#7d655b" opacity="0.9"/>
<rect x="832.8" y="107.3" width="8.3" height="2.9" rx="0.4" fill="#2a211e"/>
<rect x="833.7" y="107.7" width="6.6" height="1.2" fill="#121111"/>
<rect x="834.6" y="108.8" width="4.6" height="0.9" rx="0.3" fill="#a39c98" opacity="0.65"/>
<rect x="832.8" y="107.3" width="8.3" height="0.6" fill="#7d655b" opacity="0.9"/>
<rect x="844.6" y="107.3" width="8.3" height="2.9" rx="0.4" fill="#2a211e"/>
<rect x="845.5" y="107.7" width="6.6" height="1.2" fill="#121111"/>
<rect x="846.5" y="108.8" width="4.6" height="0.9" rx="0.3" fill="#a39c98" opacity="0.65"/>
<rect x="844.6" y="107.3" width="8.3" height="0.6" fill="#7d655b" opacity="0.9"/>
<rect x="856.5" y="107.3" width="8.3" height="2.9" rx="0.4" fill="#2a211e"/>
<rect x="857.3" y="107.7" width="6.6" height="1.2" fill="#121111"/>
<rect x="858.3" y="108.8" width="4.6" height="0.9" rx="0.3" fill="#a39c98" opacity="0.65"/>
<rect x="856.5" y="107.3" width="8.3" height="0.6" fill="#7d655b" opacity="0.9"/>
<rect x="868.3" y="107.3" width="8.3" height="2.9" rx="0.4" fill="#2a211e"/>
<rect x="869.1" y="107.7" width="6.6" height="1.2" fill="#121111"/>
<rect x="870.1" y="108.8" width="4.6" height="0.9" rx="0.3" fill="#a39c98" opacity="0.65"/>
<rect x="868.3" y="107.3" width="8.3" height="0.6" fill="#7d655b" opacity="0.9"/>
<rect x="880.1" y="107.3" width="8.3" height="2.9" rx="0.4" fill="#2a211e"/>
<rect x="880.9" y="107.7" width="6.6" height="1.2" fill="#121111"/>
<rect x="881.9" y="108.8" width="4.6" height="0.9" rx="0.3" fill="#a39c98" opacity="0.65"/>
<rect x="880.1" y="107.3" width="8.3" height="0.6" fill="#7d655b" opacity="0.9"/>
<rect x="891.9" y="107.3" width="8.3" height="2.9" rx="0.4" fill="#2a211e"/>
<rect x="892.7" y="107.7" width="6.6" height="1.2" fill="#121111"/>
<rect x="893.7" y="108.8" width="4.6" height="0.9" rx="0.3" fill="#a39c98" opacity="0.65"/>
<rect x="891.9" y="107.3" width="8.3" height="0.6" fill="#7d655b" opacity="0.9"/>
<rect x="903.7" y="107.3" width="8.3" height="2.9" rx="0.4" fill="#2a211e"/>
<rect x="904.6" y="107.7" width="6.6" height="1.2" fill="#121111"/>
<rect x="905.5" y="108.8" width="4.6" height="0.9" rx="0.3" fill="#a39c98" opacity="0.65"/>
<rect x="903.7" y="107.3" width="8.3" height="0.6" fill="#7d655b" opacity="0.9"/>
<rect x="915.5" y="107.3" width="8.3" height="2.9" rx="0.4" fill="#2a211e"/>
<rect x="916.4" y="107.7" width="6.6" height="1.2" fill="#121111"/>
<rect x="917.4" y="108.8" width="4.6" height="0.9" rx="0.3" fill="#a39c98" opacity="0.65"/>
<rect x="915.5" y="107.3" width="8.3" height="0.6" fill="#7d655b" opacity="0.9"/>
<rect x="927.4" y="107.3" width="8.3" height="2.9" rx="0.4" fill="#2a211e"/>
<rect x="928.2" y="107.7" width="6.6" height="1.2" fill="#121111"/>
<rect x="929.2" y="108.8" width="4.6" height="0.9" rx="0.3" fill="#a39c98" opacity="0.65"/>
<rect x="927.4" y="107.3" width="8.3" height="0.6" fill="#7d655b" opacity="0.9"/>
<rect x="939.2" y="107.3" width="8.3" height="2.9" rx="0.4" fill="#2a211e"/>
<rect x="940.0" y="107.7" width="6.6" height="1.2" fill="#121111"/>
<rect x="941.0" y="108.8" width="4.6" height="0.9" rx="0.3" fill="#a39c98" opacity="0.65"/>
<rect x="939.2" y="107.3" width="8.3" height="0.6" fill="#7d655b" opacity="0.9"/>
<rect x="951.0" y="107.3" width="8.3" height="2.9" rx="0.4" fill="#2a211e"/>
<rect x="951.8" y="107.7" width="6.6" height="1.2" fill="#121111"/>
<rect x="952.8" y="108.8" width="4.6" height="0.9" rx="0.3" fill="#a39c98" opacity="0.65"/>
<rect x="951.0" y="107.3" width="8.3" height="0.6" fill="#7d655b" opacity="0.9"/>
<rect x="824.7" y="104.5" width="7.7" height="2.9" rx="0.4" fill="#2a211e"/>
<rect x="825.5" y="104.8" width="6.2" height="1.2" fill="#121111"/>
<rect x="826.4" y="106.0" width="4.3" height="0.9" rx="0.3" fill="#a39c98" opacity="0.64"/>
<rect x="824.7" y="104.5" width="7.7" height="0.6" fill="#7d655b" opacity="0.9"/>
<rect x="835.9" y="104.5" width="7.7" height="2.9" rx="0.4" fill="#2a211e"/>
<rect x="836.6" y="104.8" width="6.2" height="1.2" fill="#121111"/>
<rect x="837.6" y="106.0" width="4.3" height="0.9" rx="0.3" fill="#a39c98" opacity="0.64"/>
<rect x="835.9" y="104.5" width="7.7" height="0.6" fill="#7d655b" opacity="0.9"/>
<rect x="847.0" y="104.5" width="7.7" height="2.9" rx="0.4" fill="#2a211e"/>
<rect x="847.8" y="104.8" width="6.2" height="1.2" fill="#121111"/>
<rect x="848.7" y="106.0" width="4.3" height="0.9" rx="0.3" fill="#a39c98" opacity="0.64"/>
<rect x="847.0" y="104.5" width="7.7" height="0.6" fill="#7d655b" opacity="0.9"/>
<rect x="858.2" y="104.5" width="7.7" height="2.9" rx="0.4" fill="#2a211e"/>
<rect x="859.0" y="104.8" width="6.2" height="1.2" fill="#121111"/>
<rect x="859.9" y="106.0" width="4.3" height="0.9" rx="0.3" fill="#a39c98" opacity="0.64"/>
<rect x="858.2" y="104.5" width="7.7" height="0.6" fill="#7d655b" opacity="0.9"/>
<rect x="869.4" y="104.5" width="7.7" height="2.9" rx="0.4" fill="#2a211e"/>
<rect x="870.2" y="104.8" width="6.2" height="1.2" fill="#121111"/>
<rect x="871.1" y="106.0" width="4.3" height="0.9" rx="0.3" fill="#a39c98" opacity="0.64"/>
<rect x="869.4" y="104.5" width="7.7" height="0.6" fill="#7d655b" opacity="0.9"/>
<rect x="880.6" y="104.5" width="7.7" height="2.9" rx="0.4" fill="#2a211e"/>
<rect x="881.4" y="104.8" width="6.2" height="1.2" fill="#121111"/>
<rect x="882.3" y="106.0" width="4.3" height="0.9" rx="0.3" fill="#a39c98" opacity="0.64"/>
<rect x="880.6" y="104.5" width="7.7" height="0.6" fill="#7d655b" opacity="0.9"/>
<rect x="891.8" y="104.5" width="7.7" height="2.9" rx="0.4" fill="#2a211e"/>
<rect x="892.5" y="104.8" width="6.2" height="1.2" fill="#121111"/>
<rect x="893.5" y="106.0" width="4.3" height="0.9" rx="0.3" fill="#a39c98" opacity="0.64"/>
<rect x="891.8" y="104.5" width="7.7" height="0.6" fill="#7d655b" opacity="0.9"/>
<rect x="902.9" y="104.5" width="7.7" height="2.9" rx="0.4" fill="#2a211e"/>
<rect x="903.7" y="104.8" width="6.2" height="1.2" fill="#121111"/>
<rect x="904.6" y="106.0" width="4.3" height="0.9" rx="0.3" fill="#a39c98" opacity="0.64"/>
<rect x="902.9" y="104.5" width="7.7" height="0.6" fill="#7d655b" opacity="0.9"/>
<rect x="914.1" y="104.5" width="7.7" height="2.9" rx="0.4" fill="#2a211e"/>
<rect x="914.9" y="104.8" width="6.2" height="1.2" fill="#121111"/>
<rect x="915.8" y="106.0" width="4.3" height="0.9" rx="0.3" fill="#a39c98" opacity="0.64"/>
<rect x="914.1" y="104.5" width="7.7" height="0.6" fill="#7d655b" opacity="0.9"/>
<rect x="925.3" y="104.5" width="7.7" height="2.9" rx="0.4" fill="#2a211e"/>
<rect x="926.1" y="104.8" width="6.2" height="1.2" fill="#121111"/>
<rect x="927.0" y="106.0" width="4.3" height="0.9" rx="0.3" fill="#a39c98" opacity="0.64"/>
<rect x="925.3" y="104.5" width="7.7" height="0.6" fill="#7d655b" opacity="0.9"/>
<rect x="936.5" y="104.5" width="7.7" height="2.9" rx="0.4" fill="#2a211e"/>
<rect x="937.2" y="104.8" width="6.2" height="1.2" fill="#121111"/>
<rect x="938.2" y="106.0" width="4.3" height="0.9" rx="0.3" fill="#a39c98" opacity="0.64"/>
<rect x="936.5" y="104.5" width="7.7" height="0.6" fill="#7d655b" opacity="0.9"/>
<rect x="947.7" y="104.5" width="7.7" height="2.9" rx="0.4" fill="#2a211e"/>
<rect x="948.4" y="104.8" width="6.2" height="1.2" fill="#121111"/>
<rect x="949.4" y="106.0" width="4.3" height="0.9" rx="0.3" fill="#a39c98" opacity="0.64"/>
<rect x="947.7" y="104.5" width="7.7" height="0.6" fill="#7d655b" opacity="0.9"/>
<rect x="958.8" y="104.5" width="7.7" height="2.9" rx="0.4" fill="#2a211e"/>
<rect x="959.6" y="104.8" width="6.2" height="1.2" fill="#121111"/>
<rect x="960.5" y="106.0" width="4.3" height="0.9" rx="0.3" fill="#a39c98" opacity="0.64"/>
<rect x="958.8" y="104.5" width="7.7" height="0.6" fill="#7d655b" opacity="0.9"/>
<rect x="817.9" y="101.6" width="7.2" height="2.9" rx="0.4" fill="#2a211e"/>
<rect x="818.6" y="102.0" width="5.8" height="1.2" fill="#121111"/>
<rect x="819.4" y="103.1" width="4.1" height="0.9" rx="0.3" fill="#a39c98" opacity="0.62"/>
<rect x="817.9" y="101.6" width="7.2" height="0.6" fill="#7d655b" opacity="0.9"/>
<rect x="828.4" y="101.6" width="7.2" height="2.9" rx="0.4" fill="#2a211e"/>
<rect x="829.1" y="102.0" width="5.8" height="1.2" fill="#121111"/>
<rect x="830.0" y="103.1" width="4.1" height="0.9" rx="0.3" fill="#a39c98" opacity="0.62"/>
<rect x="828.4" y="101.6" width="7.2" height="0.6" fill="#7d655b" opacity="0.9"/>
<rect x="838.9" y="101.6" width="7.2" height="2.9" rx="0.4" fill="#2a211e"/>
<rect x="839.6" y="102.0" width="5.8" height="1.2" fill="#121111"/>
<rect x="840.5" y="103.1" width="4.1" height="0.9" rx="0.3" fill="#a39c98" opacity="0.62"/>
<rect x="838.9" y="101.6" width="7.2" height="0.6" fill="#7d655b" opacity="0.9"/>
<rect x="849.5" y="101.6" width="7.2" height="2.9" rx="0.4" fill="#2a211e"/>
<rect x="850.2" y="102.0" width="5.8" height="1.2" fill="#121111"/>
<rect x="851.1" y="103.1" width="4.1" height="0.9" rx="0.3" fill="#a39c98" opacity="0.62"/>
<rect x="849.5" y="101.6" width="7.2" height="0.6" fill="#7d655b" opacity="0.9"/>
<rect x="860.0" y="101.6" width="7.2" height="2.9" rx="0.4" fill="#2a211e"/>
<rect x="860.7" y="102.0" width="5.8" height="1.2" fill="#121111"/>
<rect x="861.6" y="103.1" width="4.1" height="0.9" rx="0.3" fill="#a39c98" opacity="0.62"/>
<rect x="860.0" y="101.6" width="7.2" height="0.6" fill="#7d655b" opacity="0.9"/>
<rect x="870.5" y="101.6" width="7.2" height="2.9" rx="0.4" fill="#2a211e"/>
<rect x="871.3" y="102.0" width="5.8" height="1.2" fill="#121111"/>
<rect x="872.1" y="103.1" width="4.1" height="0.9" rx="0.3" fill="#a39c98" opacity="0.62"/>
<rect x="870.5" y="101.6" width="7.2" height="0.6" fill="#7d655b" opacity="0.9"/>
<rect x="881.1" y="101.6" width="7.2" height="2.9" rx="0.4" fill="#2a211e"/>
<rect x="881.8" y="102.0" width="5.8" height="1.2" fill="#121111"/>
<rect x="882.7" y="103.1" width="4.1" height="0.9" rx="0.3" fill="#a39c98" opacity="0.62"/>
<rect x="881.1" y="101.6" width="7.2" height="0.6" fill="#7d655b" opacity="0.9"/>
<rect x="891.6" y="101.6" width="7.2" height="2.9" rx="0.4" fill="#2a211e"/>
<rect x="892.3" y="102.0" width="5.8" height="1.2" fill="#121111"/>
<rect x="893.2" y="103.1" width="4.1" height="0.9" rx="0.3" fill="#a39c98" opacity="0.62"/>
<rect x="891.6" y="101.6" width="7.2" height="0.6" fill="#7d655b" opacity="0.9"/>
<rect x="902.1" y="101.6" width="7.2" height="2.9" rx="0.4" fill="#2a211e"/>
<rect x="902.9" y="102.0" width="5.8" height="1.2" fill="#121111"/>
<rect x="903.7" y="103.1" width="4.1" height="0.9" rx="0.3" fill="#a39c98" opacity="0.62"/>
<rect x="902.1" y="101.6" width="7.2" height="0.6" fill="#7d655b" opacity="0.9"/>
<rect x="912.7" y="101.6" width="7.2" height="2.9" rx="0.4" fill="#2a211e"/>
<rect x="913.4" y="102.0" width="5.8" height="1.2" fill="#121111"/>
<rect x="914.3" y="103.1" width="4.1" height="0.9" rx="0.3" fill="#a39c98" opacity="0.62"/>
<rect x="912.7" y="101.6" width="7.2" height="0.6" fill="#7d655b" opacity="0.9"/>
<rect x="923.2" y="101.6" width="7.2" height="2.9" rx="0.4" fill="#2a211e"/>
<rect x="923.9" y="102.0" width="5.8" height="1.2" fill="#121111"/>
<rect x="924.8" y="103.1" width="4.1" height="0.9" rx="0.3" fill="#a39c98" opacity="0.62"/>
<rect x="923.2" y="101.6" width="7.2" height="0.6" fill="#7d655b" opacity="0.9"/>
<rect x="933.7" y="101.6" width="7.2" height="2.9" rx="0.4" fill="#2a211e"/>
<rect x="934.5" y="102.0" width="5.8" height="1.2" fill="#121111"/>
<rect x="935.3" y="103.1" width="4.1" height="0.9" rx="0.3" fill="#a39c98" opacity="0.62"/>
<rect x="933.7" y="101.6" width="7.2" height="0.6" fill="#7d655b" opacity="0.9"/>
<rect x="944.3" y="101.6" width="7.2" height="2.9" rx="0.4" fill="#2a211e"/>
<rect x="945.0" y="102.0" width="5.8" height="1.2" fill="#121111"/>
<rect x="945.9" y="103.1" width="4.1" height="0.9" rx="0.3" fill="#a39c98" opacity="0.62"/>
<rect x="944.3" y="101.6" width="7.2" height="0.6" fill="#7d655b" opacity="0.9"/>
<rect x="954.8" y="101.6" width="7.2" height="2.9" rx="0.4" fill="#2a211e"/>
<rect x="955.5" y="102.0" width="5.8" height="1.2" fill="#121111"/>
<rect x="956.4" y="103.1" width="4.1" height="0.9" rx="0.3" fill="#a39c98" opacity="0.62"/>
<rect x="954.8" y="101.6" width="7.2" height="0.6" fill="#7d655b" opacity="0.9"/>
<rect x="822.3" y="98.7" width="6.7" height="2.9" rx="0.4" fill="#2a211e"/>
<rect x="823.0" y="99.1" width="5.4" height="1.2" fill="#121111"/>
<rect x="823.8" y="100.2" width="3.8" height="0.9" rx="0.3" fill="#a39c98" opacity="0.60"/>
<rect x="822.3" y="98.7" width="6.7" height="0.6" fill="#7d655b" opacity="0.9"/>
<rect x="832.2" y="98.7" width="6.7" height="2.9" rx="0.4" fill="#2a211e"/>
<rect x="832.8" y="99.1" width="5.4" height="1.2" fill="#121111"/>
<rect x="833.6" y="100.2" width="3.8" height="0.9" rx="0.3" fill="#a39c98" opacity="0.60"/>
<rect x="832.2" y="98.7" width="6.7" height="0.6" fill="#7d655b" opacity="0.9"/>
<rect x="842.0" y="98.7" width="6.7" height="2.9" rx="0.4" fill="#2a211e"/>
<rect x="842.7" y="99.1" width="5.4" height="1.2" fill="#121111"/>
<rect x="843.5" y="100.2" width="3.8" height="0.9" rx="0.3" fill="#a39c98" opacity="0.60"/>
<rect x="842.0" y="98.7" width="6.7" height="0.6" fill="#7d655b" opacity="0.9"/>
<rect x="851.9" y="98.7" width="6.7" height="2.9" rx="0.4" fill="#2a211e"/>
<rect x="852.6" y="99.1" width="5.4" height="1.2" fill="#121111"/>
<rect x="853.4" y="100.2" width="3.8" height="0.9" rx="0.3" fill="#a39c98" opacity="0.60"/>
<rect x="851.9" y="98.7" width="6.7" height="0.6" fill="#7d655b" opacity="0.9"/>
<rect x="861.8" y="98.7" width="6.7" height="2.9" rx="0.4" fill="#2a211e"/>
<rect x="862.5" y="99.1" width="5.4" height="1.2" fill="#121111"/>
<rect x="863.3" y="100.2" width="3.8" height="0.9" rx="0.3" fill="#a39c98" opacity="0.60"/>
<rect x="861.8" y="98.7" width="6.7" height="0.6" fill="#7d655b" opacity="0.9"/>
<rect x="871.7" y="98.7" width="6.7" height="2.9" rx="0.4" fill="#2a211e"/>
<rect x="872.4" y="99.1" width="5.4" height="1.2" fill="#121111"/>
<rect x="873.2" y="100.2" width="3.8" height="0.9" rx="0.3" fill="#a39c98" opacity="0.60"/>
<rect x="871.7" y="98.7" width="6.7" height="0.6" fill="#7d655b" opacity="0.9"/>
<rect x="881.6" y="98.7" width="6.7" height="2.9" rx="0.4" fill="#2a211e"/>
<rect x="882.2" y="99.1" width="5.4" height="1.2" fill="#121111"/>
<rect x="883.0" y="100.2" width="3.8" height="0.9" rx="0.3" fill="#a39c98" opacity="0.60"/>
<rect x="881.6" y="98.7" width="6.7" height="0.6" fill="#7d655b" opacity="0.9"/>
<rect x="891.4" y="98.7" width="6.7" height="2.9" rx="0.4" fill="#2a211e"/>
<rect x="892.1" y="99.1" width="5.4" height="1.2" fill="#121111"/>
<rect x="892.9" y="100.2" width="3.8" height="0.9" rx="0.3" fill="#a39c98" opacity="0.60"/>
<rect x="891.4" y="98.7" width="6.7" height="0.6" fill="#7d655b" opacity="0.9"/>
<rect x="901.3" y="98.7" width="6.7" height="2.9" rx="0.4" fill="#2a211e"/>
<rect x="902.0" y="99.1" width="5.4" height="1.2" fill="#121111"/>
<rect x="902.8" y="100.2" width="3.8" height="0.9" rx="0.3" fill="#a39c98" opacity="0.60"/>
<rect x="901.3" y="98.7" width="6.7" height="0.6" fill="#7d655b" opacity="0.9"/>
<rect x="911.2" y="98.7" width="6.7" height="2.9" rx="0.4" fill="#2a211e"/>
<rect x="911.9" y="99.1" width="5.4" height="1.2" fill="#121111"/>
<rect x="912.7" y="100.2" width="3.8" height="0.9" rx="0.3" fill="#a39c98" opacity="0.60"/>
<rect x="911.2" y="98.7" width="6.7" height="0.6" fill="#7d655b" opacity="0.9"/>
<rect x="921.1" y="98.7" width="6.7" height="2.9" rx="0.4" fill="#2a211e"/>
<rect x="921.7" y="99.1" width="5.4" height="1.2" fill="#121111"/>
<rect x="922.5" y="100.2" width="3.8" height="0.9" rx="0.3" fill="#a39c98" opacity="0.60"/>
<rect x="921.1" y="98.7" width="6.7" height="0.6" fill="#7d655b" opacity="0.9"/>
<rect x="930.9" y="98.7" width="6.7" height="2.9" rx="0.4" fill="#2a211e"/>
<rect x="931.6" y="99.1" width="5.4" height="1.2" fill="#121111"/>
<rect x="932.4" y="100.2" width="3.8" height="0.9" rx="0.3" fill="#a39c98" opacity="0.60"/>
<rect x="930.9" y="98.7" width="6.7" height="0.6" fill="#7d655b" opacity="0.9"/>
<rect x="940.8" y="98.7" width="6.7" height="2.9" rx="0.4" fill="#2a211e"/>
<rect x="941.5" y="99.1" width="5.4" height="1.2" fill="#121111"/>
<rect x="942.3" y="100.2" width="3.8" height="0.9" rx="0.3" fill="#a39c98" opacity="0.60"/>
<rect x="940.8" y="98.7" width="6.7" height="0.6" fill="#7d655b" opacity="0.9"/>
<rect x="950.7" y="98.7" width="6.7" height="2.9" rx="0.4" fill="#2a211e"/>
<rect x="951.4" y="99.1" width="5.4" height="1.2" fill="#121111"/>
<rect x="952.2" y="100.2" width="3.8" height="0.9" rx="0.3" fill="#a39c98" opacity="0.60"/>
<rect x="950.7" y="98.7" width="6.7" height="0.6" fill="#7d655b" opacity="0.9"/>
<rect x="826.8" y="95.8" width="6.3" height="2.9" rx="0.4" fill="#2a211e"/>
<rect x="827.5" y="96.1" width="5.0" height="1.2" fill="#121111"/>
<rect x="828.2" y="97.3" width="3.5" height="0.9" rx="0.3" fill="#a39c98" opacity="0.60"/>
<rect x="826.8" y="95.8" width="6.3" height="0.6" fill="#7d655b" opacity="0.9"/>
<rect x="836.0" y="95.8" width="6.3" height="2.9" rx="0.4" fill="#2a211e"/>
<rect x="836.7" y="96.1" width="5.0" height="1.2" fill="#121111"/>
<rect x="837.4" y="97.3" width="3.5" height="0.9" rx="0.3" fill="#a39c98" opacity="0.60"/>
<rect x="836.0" y="95.8" width="6.3" height="0.6" fill="#7d655b" opacity="0.9"/>
<rect x="845.2" y="95.8" width="6.3" height="2.9" rx="0.4" fill="#2a211e"/>
<rect x="845.9" y="96.1" width="5.0" height="1.2" fill="#121111"/>
<rect x="846.6" y="97.3" width="3.5" height="0.9" rx="0.3" fill="#a39c98" opacity="0.60"/>
<rect x="845.2" y="95.8" width="6.3" height="0.6" fill="#7d655b" opacity="0.9"/>
<rect x="854.4" y="95.8" width="6.3" height="2.9" rx="0.4" fill="#2a211e"/>
<rect x="855.1" y="96.1" width="5.0" height="1.2" fill="#121111"/>
<rect x="855.8" y="97.3" width="3.5" height="0.9" rx="0.3" fill="#a39c98" opacity="0.60"/>
<rect x="854.4" y="95.8" width="6.3" height="0.6" fill="#7d655b" opacity="0.9"/>
<rect x="863.6" y="95.8" width="6.3" height="2.9" rx="0.4" fill="#2a211e"/>
<rect x="864.3" y="96.1" width="5.0" height="1.2" fill="#121111"/>
<rect x="865.0" y="97.3" width="3.5" height="0.9" rx="0.3" fill="#a39c98" opacity="0.60"/>
<rect x="863.6" y="95.8" width="6.3" height="0.6" fill="#7d655b" opacity="0.9"/>
<rect x="872.8" y="95.8" width="6.3" height="2.9" rx="0.4" fill="#2a211e"/>
<rect x="873.5" y="96.1" width="5.0" height="1.2" fill="#121111"/>
<rect x="874.2" y="97.3" width="3.5" height="0.9" rx="0.3" fill="#a39c98" opacity="0.60"/>
<rect x="872.8" y="95.8" width="6.3" height="0.6" fill="#7d655b" opacity="0.9"/>
<rect x="882.0" y="95.8" width="6.3" height="2.9" rx="0.4" fill="#2a211e"/>
<rect x="882.7" y="96.1" width="5.0" height="1.2" fill="#121111"/>
<rect x="883.4" y="97.3" width="3.5" height="0.9" rx="0.3" fill="#a39c98" opacity="0.60"/>
<rect x="882.0" y="95.8" width="6.3" height="0.6" fill="#7d655b" opacity="0.9"/>
<rect x="891.2" y="95.8" width="6.3" height="2.9" rx="0.4" fill="#2a211e"/>
<rect x="891.9" y="96.1" width="5.0" height="1.2" fill="#121111"/>
<rect x="892.6" y="97.3" width="3.5" height="0.9" rx="0.3" fill="#a39c98" opacity="0.60"/>
<rect x="891.2" y="95.8" width="6.3" height="0.6" fill="#7d655b" opacity="0.9"/>
<rect x="900.4" y="95.8" width="6.3" height="2.9" rx="0.4" fill="#2a211e"/>
<rect x="901.1" y="96.1" width="5.0" height="1.2" fill="#121111"/>
<rect x="901.8" y="97.3" width="3.5" height="0.9" rx="0.3" fill="#a39c98" opacity="0.60"/>
<rect x="900.4" y="95.8" width="6.3" height="0.6" fill="#7d655b" opacity="0.9"/>
<rect x="909.6" y="95.8" width="6.3" height="2.9" rx="0.4" fill="#2a211e"/>
<rect x="910.3" y="96.1" width="5.0" height="1.2" fill="#121111"/>
<rect x="911.0" y="97.3" width="3.5" height="0.9" rx="0.3" fill="#a39c98" opacity="0.60"/>
<rect x="909.6" y="95.8" width="6.3" height="0.6" fill="#7d655b" opacity="0.9"/>
<rect x="918.9" y="95.8" width="6.3" height="2.9" rx="0.4" fill="#2a211e"/>
<rect x="919.5" y="96.1" width="5.0" height="1.2" fill="#121111"/>
<rect x="920.2" y="97.3" width="3.5" height="0.9" rx="0.3" fill="#a39c98" opacity="0.60"/>
<rect x="918.9" y="95.8" width="6.3" height="0.6" fill="#7d655b" opacity="0.9"/>
<rect x="928.1" y="95.8" width="6.3" height="2.9" rx="0.4" fill="#2a211e"/>
<rect x="928.7" y="96.1" width="5.0" height="1.2" fill="#121111"/>
<rect x="929.4" y="97.3" width="3.5" height="0.9" rx="0.3" fill="#a39c98" opacity="0.60"/>
<rect x="928.1" y="95.8" width="6.3" height="0.6" fill="#7d655b" opacity="0.9"/>
<rect x="937.3" y="95.8" width="6.3" height="2.9" rx="0.4" fill="#2a211e"/>
<rect x="937.9" y="96.1" width="5.0" height="1.2" fill="#121111"/>
<rect x="938.6" y="97.3" width="3.5" height="0.9" rx="0.3" fill="#a39c98" opacity="0.60"/>
<rect x="937.3" y="95.8" width="6.3" height="0.6" fill="#7d655b" opacity="0.9"/>
<rect x="946.5" y="95.8" width="6.3" height="2.9" rx="0.4" fill="#2a211e"/>
<rect x="947.1" y="96.1" width="5.0" height="1.2" fill="#121111"/>
<rect x="947.8" y="97.3" width="3.5" height="0.9" rx="0.3" fill="#a39c98" opacity="0.60"/>
<rect x="946.5" y="95.8" width="6.3" height="0.6" fill="#7d655b" opacity="0.9"/>
<rect x="831.5" y="92.8" width="5.8" height="3.0" rx="0.5" fill="#2a211e"/>
<rect x="832.1" y="93.1" width="4.6" height="1.3" fill="#121111"/>
<rect x="832.8" y="94.3" width="3.2" height="0.9" rx="0.3" fill="#a39c98" opacity="0.60"/>
<rect x="831.5" y="92.8" width="5.8" height="0.6" fill="#7d655b" opacity="0.9"/>
<rect x="840.0" y="92.8" width="5.8" height="3.0" rx="0.5" fill="#2a211e"/>
<rect x="840.6" y="93.1" width="4.6" height="1.3" fill="#121111"/>
<rect x="841.3" y="94.3" width="3.2" height="0.9" rx="0.3" fill="#a39c98" opacity="0.60"/>
<rect x="840.0" y="92.8" width="5.8" height="0.6" fill="#7d655b" opacity="0.9"/>
<rect x="848.5" y="92.8" width="5.8" height="3.0" rx="0.5" fill="#2a211e"/>
<rect x="849.1" y="93.1" width="4.6" height="1.3" fill="#121111"/>
<rect x="849.8" y="94.3" width="3.2" height="0.9" rx="0.3" fill="#a39c98" opacity="0.60"/>
<rect x="848.5" y="92.8" width="5.8" height="0.6" fill="#7d655b" opacity="0.9"/>
<rect x="857.0" y="92.8" width="5.8" height="3.0" rx="0.5" fill="#2a211e"/>
<rect x="857.6" y="93.1" width="4.6" height="1.3" fill="#121111"/>
<rect x="858.3" y="94.3" width="3.2" height="0.9" rx="0.3" fill="#a39c98" opacity="0.60"/>
<rect x="857.0" y="92.8" width="5.8" height="0.6" fill="#7d655b" opacity="0.9"/>
<rect x="865.5" y="92.8" width="5.8" height="3.0" rx="0.5" fill="#2a211e"/>
<rect x="866.1" y="93.1" width="4.6" height="1.3" fill="#121111"/>
<rect x="866.8" y="94.3" width="3.2" height="0.9" rx="0.3" fill="#a39c98" opacity="0.60"/>
<rect x="865.5" y="92.8" width="5.8" height="0.6" fill="#7d655b" opacity="0.9"/>
<rect x="874.0" y="92.8" width="5.8" height="3.0" rx="0.5" fill="#2a211e"/>
<rect x="874.6" y="93.1" width="4.6" height="1.3" fill="#121111"/>
<rect x="875.3" y="94.3" width="3.2" height="0.9" rx="0.3" fill="#a39c98" opacity="0.60"/>
<rect x="874.0" y="92.8" width="5.8" height="0.6" fill="#7d655b" opacity="0.9"/>
<rect x="882.5" y="92.8" width="5.8" height="3.0" rx="0.5" fill="#2a211e"/>
<rect x="883.1" y="93.1" width="4.6" height="1.3" fill="#121111"/>
<rect x="883.8" y="94.3" width="3.2" height="0.9" rx="0.3" fill="#a39c98" opacity="0.60"/>
<rect x="882.5" y="92.8" width="5.8" height="0.6" fill="#7d655b" opacity="0.9"/>
<rect x="891.0" y="92.8" width="5.8" height="3.0" rx="0.5" fill="#2a211e"/>
<rect x="891.6" y="93.1" width="4.6" height="1.3" fill="#121111"/>
<rect x="892.3" y="94.3" width="3.2" height="0.9" rx="0.3" fill="#a39c98" opacity="0.60"/>
<rect x="891.0" y="92.8" width="5.8" height="0.6" fill="#7d655b" opacity="0.9"/>
<rect x="899.5" y="92.8" width="5.8" height="3.0" rx="0.5" fill="#2a211e"/>
<rect x="900.1" y="93.1" width="4.6" height="1.3" fill="#121111"/>
<rect x="900.8" y="94.3" width="3.2" height="0.9" rx="0.3" fill="#a39c98" opacity="0.60"/>
<rect x="899.5" y="92.8" width="5.8" height="0.6" fill="#7d655b" opacity="0.9"/>
<rect x="908.0" y="92.8" width="5.8" height="3.0" rx="0.5" fill="#2a211e"/>
<rect x="908.6" y="93.1" width="4.6" height="1.3" fill="#121111"/>
<rect x="909.3" y="94.3" width="3.2" height="0.9" rx="0.3" fill="#a39c98" opacity="0.60"/>
<rect x="908.0" y="92.8" width="5.8" height="0.6" fill="#7d655b" opacity="0.9"/>
<rect x="916.5" y="92.8" width="5.8" height="3.0" rx="0.5" fill="#2a211e"/>
<rect x="917.1" y="93.1" width="4.6" height="1.3" fill="#121111"/>
<rect x="917.8" y="94.3" width="3.2" height="0.9" rx="0.3" fill="#a39c98" opacity="0.60"/>
<rect x="916.5" y="92.8" width="5.8" height="0.6" fill="#7d655b" opacity="0.9"/>
<rect x="925.1" y="92.8" width="5.8" height="3.0" rx="0.5" fill="#2a211e"/>
<rect x="925.6" y="93.1" width="4.6" height="1.3" fill="#121111"/>
<rect x="926.3" y="94.3" width="3.2" height="0.9" rx="0.3" fill="#a39c98" opacity="0.60"/>
<rect x="925.1" y="92.8" width="5.8" height="0.6" fill="#7d655b" opacity="0.9"/>
<rect x="933.6" y="92.8" width="5.8" height="3.0" rx="0.5" fill="#2a211e"/>
<rect x="934.1" y="93.1" width="4.6" height="1.3" fill="#121111"/>
<rect x="934.8" y="94.3" width="3.2" height="0.9" rx="0.3" fill="#a39c98" opacity="0.60"/>
<rect x="933.6" y="92.8" width="5.8" height="0.6" fill="#7d655b" opacity="0.9"/>
<rect x="942.1" y="92.8" width="5.8" height="3.0" rx="0.5" fill="#2a211e"/>
<rect x="942.6" y="93.1" width="4.6" height="1.3" fill="#121111"/>
<rect x="943.3" y="94.3" width="3.2" height="0.9" rx="0.3" fill="#a39c98" opacity="0.60"/>
<rect x="942.1" y="92.8" width="5.8" height="0.6" fill="#7d655b" opacity="0.9"/>
<rect x="768.2" y="182.5" width="20.3" height="10.5" fill="#1b1919"/>
<rect x="774.3" y="186.0" width="2.4" height="4" fill="#8d8d8d" opacity="0.7"/>
<rect x="780.0" y="186.0" width="2.4" height="4" fill="#8d8d8d" opacity="0.7"/>
<rect x="793.6" y="182.5" width="20.3" height="10.5" fill="#1b1919"/>
<rect x="799.7" y="186.0" width="2.4" height="4" fill="#8d8d8d" opacity="0.7"/>
<rect x="805.4" y="186.0" width="2.4" height="4" fill="#8d8d8d" opacity="0.7"/>
<rect x="819.0" y="182.5" width="20.3" height="10.5" fill="#1b1919"/>
<rect x="825.1" y="186.0" width="2.4" height="4" fill="#8d8d8d" opacity="0.7"/>
<rect x="830.8" y="186.0" width="2.4" height="4" fill="#8d8d8d" opacity="0.7"/>
<rect x="844.4" y="182.5" width="20.3" height="10.5" fill="#1b1919"/>
<rect x="850.4" y="186.0" width="2.4" height="4" fill="#8d8d8d" opacity="0.7"/>
<rect x="856.1" y="186.0" width="2.4" height="4" fill="#8d8d8d" opacity="0.7"/>
<rect x="869.7" y="182.5" width="20.3" height="10.5" fill="#1b1919"/>
<rect x="875.8" y="186.0" width="2.4" height="4" fill="#8d8d8d" opacity="0.7"/>
<rect x="881.5" y="186.0" width="2.4" height="4" fill="#8d8d8d" opacity="0.7"/>
<rect x="895.1" y="182.5" width="20.3" height="10.5" fill="#1b1919"/>
<rect x="901.2" y="186.0" width="2.4" height="4" fill="#8d8d8d" opacity="0.7"/>
<rect x="906.9" y="186.0" width="2.4" height="4" fill="#8d8d8d" opacity="0.7"/>
<rect x="920.5" y="182.5" width="20.3" height="10.5" fill="#1b1919"/>
<rect x="926.6" y="186.0" width="2.4" height="4" fill="#8d8d8d" opacity="0.7"/>
<rect x="932.3" y="186.0" width="2.4" height="4" fill="#8d8d8d" opacity="0.7"/>
<rect x="945.9" y="182.5" width="20.3" height="10.5" fill="#1b1919"/>
<rect x="952.0" y="186.0" width="2.4" height="4" fill="#8d8d8d" opacity="0.7"/>
<rect x="957.6" y="186.0" width="2.4" height="4" fill="#8d8d8d" opacity="0.7"/>
<rect x="971.2" y="182.5" width="20.3" height="10.5" fill="#1b1919"/>
<rect x="977.3" y="186.0" width="2.4" height="4" fill="#8d8d8d" opacity="0.7"/>
<rect x="983.0" y="186.0" width="2.4" height="4" fill="#8d8d8d" opacity="0.7"/>
<rect x="996.6" y="182.5" width="20.3" height="10.5" fill="#1b1919"/>
<rect x="1002.7" y="186.0" width="2.4" height="4" fill="#8d8d8d" opacity="0.7"/>
<rect x="1008.4" y="186.0" width="2.4" height="4" fill="#8d8d8d" opacity="0.7"/>
<rect x="817" y="194.5" width="22.5" height="13" fill="#9fb4b9"/>
<rect x="817.5" y="195.2" width="21.5" height="2.4" fill="#c6d3d7"/>
<rect x="817.5" y="199.5" width="21.5" height="2.4" fill="#c6d3d7"/>
<rect x="817.5" y="203.8" width="21.5" height="2.4" fill="#c6d3d7"/>
<rect x="842.7" y="194.5" width="23.0" height="13" fill="#9fb4b9"/>
<rect x="843.2" y="195.2" width="22.0" height="2.4" fill="#c6d3d7"/>
<rect x="843.2" y="199.5" width="22.0" height="2.4" fill="#c6d3d7"/>
<rect x="843.2" y="203.8" width="22.0" height="2.4" fill="#c6d3d7"/>
<rect x="868.6" y="194.5" width="23.0" height="13" fill="#9fb4b9"/>
<rect x="869.1" y="195.2" width="22.0" height="2.4" fill="#c6d3d7"/>
<rect x="869.1" y="199.5" width="22.0" height="2.4" fill="#c6d3d7"/>
<rect x="869.1" y="203.8" width="22.0" height="2.4" fill="#c6d3d7"/>
<rect x="895.9" y="194.5" width="23.0" height="13" fill="#9fb4b9"/>
<rect x="896.4" y="195.2" width="22.0" height="2.4" fill="#c6d3d7"/>
<rect x="896.4" y="199.5" width="22.0" height="2.4" fill="#c6d3d7"/>
<rect x="896.4" y="203.8" width="22.0" height="2.4" fill="#c6d3d7"/>
<rect x="923.2" y="194.5" width="23.0" height="13" fill="#9fb4b9"/>
<rect x="923.7" y="195.2" width="22.0" height="2.4" fill="#c6d3d7"/>
<rect x="923.7" y="199.5" width="22.0" height="2.4" fill="#c6d3d7"/>
<rect x="923.7" y="203.8" width="22.0" height="2.4" fill="#c6d3d7"/>
<rect x="950" y="194.5" width="22" height="13" fill="#9fb4b9"/>
<rect x="950.5" y="195.2" width="21" height="2.4" fill="#c6d3d7"/>
<rect x="950.5" y="199.5" width="21" height="2.4" fill="#c6d3d7"/>
<rect x="950.5" y="203.8" width="21" height="2.4" fill="#c6d3d7"/>
<circle cx="849.9" cy="209.8" r="1.1" fill="#dfe8e8"/>
<circle cx="879.3" cy="209.8" r="1.1" fill="#dfe8e8"/>
<circle cx="908.8" cy="209.8" r="1.1" fill="#dfe8e8"/>
<circle cx="938" cy="209.8" r="1.1" fill="#dfe8e8"/>
<rect x="868.9" y="218.4" width="12.4" height="3.6" fill="#cfdcdc" opacity="0.9"/><rect x="858" y="218.6" width="8" height="3.4" fill="#b0c4c4" opacity="0.7"/>
<circle cx="893.1" cy="218.8" r="3.2" fill="#8aa0a0"/><circle cx="893.1" cy="218.6" r="2.3" fill="#e8ecea"/>
<path d="M931.5 205.8 L950 203 L952 211.5 L934 213.6 Z" fill="#dfe7e7"/>
</g>
<rect x="824" y="94" width="140" height="40" fill="url(#p2haze)"/>
</g>
</g>
<!-- photo 3 : load board PCB -->
<g>
<circle cx="87.1" cy="429.5" r="69.0" fill="#fff"/>
<g clip-path="url(#cp3)" filter="url(#soft)">
<rect x="18" y="360" width="140" height="140" fill="url(#p3pcb)"/>
<path d="M18 360 H29.5 L28.6 400 L29.6 430 L28.4 460 L29.2 500 H18 Z" fill="#0b9e85"/>
<path d="M130.8 360 H142 V500 H131.4 L130.4 450 L131.2 410 Z" fill="#0a9b82"/>
<rect x="141.8" y="360" width="20" height="140" fill="#d9dbda"/>
<rect x="141.4" y="360" width="1.2" height="140" fill="#5f8f86" opacity="0.7"/>
<rect x="34.4" y="380.0" width="0.7" height="8.5" fill="#a9b487" opacity="0.81"/>
<rect x="35.7" y="379.7" width="0.7" height="9.2" fill="#9aa878" opacity="0.59"/>
<rect x="36.9" y="380.2" width="0.8" height="9.2" fill="#9aa878" opacity="0.58"/>
<rect x="38.3" y="379.0" width="0.7" height="9.4" fill="#9aa878" opacity="0.45"/>
<rect x="39.8" y="380.1" width="0.8" height="8.9" fill="#a9b487" opacity="0.65"/>
<rect x="41.1" y="379.9" width="0.7" height="8.2" fill="#8fa079" opacity="0.61"/>
<rect x="42.8" y="380.7" width="1.0" height="7.1" fill="#c2c696" opacity="0.44"/>
<rect x="44.6" y="380.5" width="1.2" height="8.3" fill="#a9b487" opacity="0.45"/>
<rect x="46.8" y="379.1" width="0.8" height="9.2" fill="#a9b487" opacity="0.83"/>
<rect x="48.1" y="379.6" width="1.0" height="8.7" fill="#d0d2a6" opacity="0.43"/>
<rect x="49.6" y="380.4" width="1.0" height="9.0" fill="#8fa079" opacity="0.69"/>
<rect x="51.6" y="380.9" width="1.0" height="7.7" fill="#d0d2a6" opacity="0.56"/>
<rect x="53.1" y="380.6" width="1.2" height="8.6" fill="#c2c696" opacity="0.58"/>
<rect x="55.3" y="379.7" width="0.7" height="9.1" fill="#c2c696" opacity="0.77"/>
<rect x="32.4" y="389.1" width="23.0" height="0.6" fill="#9fb08a" opacity="0.6"/>
<rect x="109.2" y="379.1" width="0.8" height="9.8" fill="#c2c696" opacity="0.41"/>
<rect x="110.6" y="379.1" width="1.0" height="9.1" fill="#9aa878" opacity="0.65"/>
<rect x="112.2" y="380.9" width="0.7" height="6.2" fill="#9aa878" opacity="0.58"/>
<rect x="113.9" y="380.3" width="1.2" height="9.1" fill="#a9b487" opacity="0.84"/>
<rect x="116.1" y="380.2" width="0.8" height="9.0" fill="#9aa878" opacity="0.47"/>
<rect x="117.4" y="378.9" width="1.0" height="10.1" fill="#d0d2a6" opacity="0.47"/>
<rect x="119.2" y="379.9" width="1.0" height="9.3" fill="#d0d2a6" opacity="0.85"/>
<rect x="121.2" y="378.9" width="1.2" height="10.3" fill="#8fa079" opacity="0.73"/>
<rect x="123.4" y="379.2" width="0.8" height="7.9" fill="#8fa079" opacity="0.47"/>
<rect x="126.2" y="381.0" width="1.0" height="7.6" fill="#c2c696" opacity="0.64"/>
<rect x="128.0" y="380.7" width="0.8" height="6.9" fill="#c2c696" opacity="0.76"/>
<rect x="129.8" y="379.9" width="0.8" height="7.7" fill="#a9b487" opacity="0.76"/>
<rect x="107.0" y="389.1" width="23.0" height="0.6" fill="#9fb08a" opacity="0.6"/>
<rect x="32.4" y="396.0" width="1.0" height="9.8" fill="#8fa079" opacity="0.83"/>
<rect x="34.2" y="395.1" width="0.7" height="11.1" fill="#c2c696" opacity="0.62"/>
<rect x="42.6" y="396.9" width="1.0" height="8.0" fill="#d0d2a6" opacity="0.58"/>
<rect x="44.1" y="394.8" width="0.8" height="11.5" fill="#d0d2a6" opacity="0.76"/>
<rect x="45.5" y="395.4" width="1.2" height="10.0" fill="#c2c696" opacity="0.41"/>
<rect x="47.2" y="396.7" width="0.8" height="8.0" fill="#c2c696" opacity="0.41"/>
<rect x="48.6" y="396.4" width="1.0" height="9.5" fill="#9aa878" opacity="0.59"/>
<rect x="51.7" y="396.5" width="1.2" height="8.9" fill="#9aa878" opacity="0.46"/>
<rect x="32.4" y="406.3" width="23.0" height="0.6" fill="#9fb08a" opacity="0.6"/>
<rect x="107.0" y="396.0" width="0.8" height="10.4" fill="#a9b487" opacity="0.55"/>
<rect x="110.0" y="394.6" width="0.8" height="11.9" fill="#d0d2a6" opacity="0.65"/>
<rect x="111.3" y="396.9" width="1.2" height="8.3" fill="#c2c696" opacity="0.71"/>
<rect x="113.5" y="395.1" width="1.2" height="10.3" fill="#8fa079" opacity="0.82"/>
<rect x="115.3" y="394.8" width="1.2" height="10.8" fill="#a9b487" opacity="0.70"/>
<rect x="117.5" y="395.3" width="0.7" height="11.1" fill="#c2c696" opacity="0.82"/>
<rect x="119.0" y="394.8" width="0.8" height="10.7" fill="#a9b487" opacity="0.58"/>
<rect x="122.2" y="397.0" width="0.8" height="8.7" fill="#d0d2a6" opacity="0.49"/>
<rect x="123.8" y="394.5" width="0.7" height="10.8" fill="#d0d2a6" opacity="0.72"/>
<rect x="125.5" y="395.2" width="1.0" height="9.1" fill="#a9b487" opacity="0.84"/>
<rect x="127.1" y="395.2" width="0.7" height="9.3" fill="#c2c696" opacity="0.52"/>
<rect x="107.0" y="406.3" width="23.0" height="0.6" fill="#9fb08a" opacity="0.6"/>
<rect x="32.4" y="414.0" width="1.2" height="9.3" fill="#8fa079" opacity="0.44"/>
<rect x="34.1" y="411.9" width="0.8" height="10.5" fill="#a9b487" opacity="0.76"/>
<rect x="35.4" y="413.9" width="0.8" height="9.7" fill="#8fa079" opacity="0.85"/>
<rect x="37.2" y="411.8" width="1.0" height="11.1" fill="#a9b487" opacity="0.84"/>
<rect x="39.0" y="414.0" width="0.7" height="9.1" fill="#9aa878" opacity="0.74"/>
<rect x="40.5" y="412.1" width="1.2" height="11.7" fill="#a9b487" opacity="0.85"/>
<rect x="42.2" y="413.0" width="0.7" height="9.3" fill="#9aa878" opacity="0.61"/>
<rect x="43.9" y="413.3" width="0.7" height="9.7" fill="#9aa878" opacity="0.78"/>
<rect x="45.6" y="414.2" width="1.0" height="9.7" fill="#c2c696" opacity="0.58"/>
<rect x="48.6" y="413.9" width="0.7" height="9.7" fill="#a9b487" opacity="0.44"/>
<rect x="50.3" y="413.4" width="1.0" height="11.2" fill="#c2c696" opacity="0.47"/>
<rect x="52.3" y="414.1" width="0.7" height="8.2" fill="#9aa878" opacity="0.55"/>
<rect x="53.5" y="412.2" width="1.0" height="11.7" fill="#a9b487" opacity="0.61"/>
<rect x="55.1" y="411.7" width="0.8" height="12.3" fill="#a9b487" opacity="0.46"/>
<rect x="32.4" y="424.3" width="23.0" height="0.6" fill="#9fb08a" opacity="0.6"/>
<rect x="107.0" y="412.5" width="1.2" height="11.7" fill="#9aa878" opacity="0.83"/>
<rect x="108.8" y="413.5" width="1.2" height="10.0" fill="#8fa079" opacity="0.73"/>
<rect x="113.6" y="411.8" width="0.8" height="11.3" fill="#a9b487" opacity="0.57"/>
<rect x="115.4" y="413.3" width="0.7" height="9.7" fill="#d0d2a6" opacity="0.52"/>
<rect x="117.1" y="413.0" width="0.7" height="10.4" fill="#9aa878" opacity="0.43"/>
<rect x="120.6" y="412.2" width="0.8" height="10.6" fill="#d0d2a6" opacity="0.62"/>
<rect x="122.4" y="413.4" width="0.7" height="9.4" fill="#9aa878" opacity="0.68"/>
<rect x="123.7" y="412.5" width="0.7" height="10.5" fill="#8fa079" opacity="0.68"/>
<rect x="125.0" y="412.9" width="0.7" height="9.4" fill="#a9b487" opacity="0.71"/>
<rect x="126.7" y="412.4" width="1.0" height="11.1" fill="#a9b487" opacity="0.85"/>
<rect x="107.0" y="424.3" width="23.0" height="0.6" fill="#9fb08a" opacity="0.6"/>
<rect x="32.4" y="430.2" width="0.7" height="10.0" fill="#d0d2a6" opacity="0.85"/>
<rect x="35.5" y="430.4" width="0.7" height="9.8" fill="#8fa079" opacity="0.46"/>
<rect x="37.0" y="430.6" width="0.7" height="8.7" fill="#d0d2a6" opacity="0.58"/>
<rect x="40.0" y="430.4" width="1.2" height="10.3" fill="#8fa079" opacity="0.45"/>
<rect x="42.0" y="430.8" width="0.7" height="9.7" fill="#c2c696" opacity="0.72"/>
<rect x="43.5" y="431.0" width="1.0" height="8.0" fill="#9aa878" opacity="0.43"/>
<rect x="47.3" y="431.7" width="0.7" height="8.3" fill="#c2c696" opacity="0.51"/>
<rect x="48.8" y="430.5" width="1.2" height="10.1" fill="#d0d2a6" opacity="0.80"/>
<rect x="51.0" y="430.1" width="0.8" height="9.5" fill="#d0d2a6" opacity="0.68"/>
<rect x="52.4" y="432.3" width="1.0" height="7.8" fill="#c2c696" opacity="0.61"/>
<rect x="54.2" y="431.8" width="1.0" height="7.2" fill="#8fa079" opacity="0.58"/>
<rect x="32.4" y="441.1" width="23.0" height="0.6" fill="#9fb08a" opacity="0.6"/>
<rect x="107.0" y="431.7" width="1.0" height="9.5" fill="#c2c696" opacity="0.43"/>
<rect x="109.0" y="430.8" width="0.8" height="8.8" fill="#d0d2a6" opacity="0.46"/>
<rect x="110.4" y="430.9" width="0.8" height="10.4" fill="#c2c696" opacity="0.57"/>
<rect x="111.8" y="431.0" width="0.7" height="9.4" fill="#9aa878" opacity="0.49"/>
<rect x="113.3" y="431.2" width="1.0" height="8.8" fill="#8fa079" opacity="0.46"/>
<rect x="114.9" y="430.6" width="0.7" height="9.9" fill="#d0d2a6" opacity="0.59"/>
<rect x="116.4" y="431.1" width="0.7" height="8.5" fill="#d0d2a6" opacity="0.84"/>
<rect x="118.1" y="432.3" width="0.7" height="6.9" fill="#9aa878" opacity="0.78"/>
<rect x="119.8" y="430.6" width="0.8" height="10.6" fill="#a9b487" opacity="0.82"/>
<rect x="121.6" y="430.1" width="0.7" height="9.4" fill="#c2c696" opacity="0.66"/>
<rect x="124.6" y="430.3" width="1.2" height="11.0" fill="#9aa878" opacity="0.82"/>
<rect x="126.4" y="432.0" width="1.2" height="9.5" fill="#9aa878" opacity="0.54"/>
<rect x="107.0" y="441.1" width="23.0" height="0.6" fill="#9fb08a" opacity="0.6"/>
<rect x="32.4" y="449.4" width="1.2" height="9.3" fill="#d0d2a6" opacity="0.72"/>
<rect x="34.4" y="449.2" width="0.7" height="7.8" fill="#d0d2a6" opacity="0.44"/>
<rect x="37.5" y="448.8" width="1.2" height="8.8" fill="#d0d2a6" opacity="0.49"/>
<rect x="39.5" y="450.4" width="0.7" height="7.5" fill="#c2c696" opacity="0.50"/>
<rect x="40.8" y="448.7" width="1.0" height="7.6" fill="#d0d2a6" opacity="0.67"/>
<rect x="42.4" y="449.7" width="1.2" height="6.7" fill="#c2c696" opacity="0.81"/>
<rect x="44.1" y="449.5" width="0.8" height="8.2" fill="#a9b487" opacity="0.48"/>
<rect x="45.9" y="450.5" width="1.0" height="5.9" fill="#8fa079" opacity="0.49"/>
<rect x="47.9" y="449.8" width="0.7" height="6.8" fill="#8fa079" opacity="0.60"/>
<rect x="49.1" y="448.2" width="0.7" height="9.4" fill="#a9b487" opacity="0.65"/>
<rect x="50.4" y="450.1" width="1.2" height="6.6" fill="#d0d2a6" opacity="0.44"/>
<rect x="52.6" y="450.3" width="0.8" height="7.9" fill="#8fa079" opacity="0.73"/>
<rect x="54.4" y="448.6" width="0.7" height="8.5" fill="#d0d2a6" opacity="0.42"/>
<rect x="32.4" y="458.3" width="23.0" height="0.6" fill="#9fb08a" opacity="0.6"/>
<rect x="107.0" y="450.3" width="1.2" height="7.8" fill="#a9b487" opacity="0.80"/>
<rect x="109.0" y="450.4" width="1.0" height="6.8" fill="#8fa079" opacity="0.74"/>
<rect x="110.8" y="449.8" width="1.0" height="7.4" fill="#a9b487" opacity="0.41"/>
<rect x="112.4" y="450.4" width="0.7" height="5.9" fill="#d0d2a6" opacity="0.76"/>
<rect x="114.1" y="449.2" width="1.2" height="9.4" fill="#8fa079" opacity="0.77"/>
<rect x="115.9" y="448.8" width="0.8" height="9.0" fill="#9aa878" opacity="0.44"/>
<rect x="117.3" y="448.6" width="1.2" height="9.9" fill="#a9b487" opacity="0.62"/>
<rect x="120.6" y="448.2" width="0.7" height="10.2" fill="#d0d2a6" opacity="0.84"/>
<rect x="122.3" y="449.0" width="0.8" height="8.1" fill="#c2c696" opacity="0.74"/>
<rect x="123.6" y="449.4" width="1.0" height="8.4" fill="#8fa079" opacity="0.49"/>
<rect x="125.2" y="448.4" width="0.8" height="8.1" fill="#9aa878" opacity="0.48"/>
<rect x="126.5" y="448.6" width="1.2" height="8.8" fill="#a9b487" opacity="0.69"/>
<rect x="128.2" y="450.2" width="0.7" height="7.9" fill="#d0d2a6" opacity="0.81"/>
<rect x="129.4" y="448.1" width="1.0" height="9.1" fill="#9aa878" opacity="0.49"/>
<rect x="107.0" y="458.3" width="23.0" height="0.6" fill="#9fb08a" opacity="0.6"/>
<rect x="32.4" y="466.4" width="1.0" height="9.4" fill="#a9b487" opacity="0.45"/>
<rect x="34.2" y="466.9" width="0.8" height="10.4" fill="#8fa079" opacity="0.42"/>
<rect x="35.6" y="467.0" width="0.7" height="9.4" fill="#9aa878" opacity="0.54"/>
<rect x="36.9" y="467.4" width="0.7" height="9.9" fill="#a9b487" opacity="0.76"/>
<rect x="38.2" y="467.0" width="0.7" height="9.7" fill="#8fa079" opacity="0.70"/>
<rect x="39.9" y="467.4" width="0.7" height="9.1" fill="#d0d2a6" opacity="0.41"/>
<rect x="41.4" y="467.0" width="0.8" height="8.0" fill="#d0d2a6" opacity="0.81"/>
<rect x="43.2" y="467.0" width="0.7" height="8.2" fill="#d0d2a6" opacity="0.75"/>
<rect x="44.5" y="466.4" width="0.7" height="9.0" fill="#d0d2a6" opacity="0.44"/>
<rect x="46.0" y="466.7" width="0.8" height="9.4" fill="#a9b487" opacity="0.45"/>
<rect x="47.8" y="468.1" width="0.8" height="9.2" fill="#d0d2a6" opacity="0.54"/>
<rect x="50.9" y="467.5" width="0.8" height="9.4" fill="#d0d2a6" opacity="0.48"/>
<rect x="52.3" y="467.3" width="0.7" height="9.1" fill="#a9b487" opacity="0.47"/>
<rect x="53.6" y="468.1" width="0.7" height="7.6" fill="#8fa079" opacity="0.45"/>
<rect x="55.3" y="466.8" width="1.0" height="10.0" fill="#d0d2a6" opacity="0.70"/>
<rect x="32.4" y="477.0" width="23.0" height="0.6" fill="#9fb08a" opacity="0.6"/>
<rect x="107.0" y="466.0" width="1.2" height="8.9" fill="#d0d2a6" opacity="0.51"/>
<rect x="109.2" y="467.0" width="0.8" height="10.2" fill="#8fa079" opacity="0.59"/>
<rect x="110.5" y="467.6" width="1.2" height="9.7" fill="#c2c696" opacity="0.44"/>
<rect x="112.5" y="467.3" width="0.7" height="9.2" fill="#c2c696" opacity="0.41"/>
<rect x="113.7" y="468.5" width="0.7" height="7.7" fill="#c2c696" opacity="0.71"/>
<rect x="115.0" y="467.5" width="0.7" height="9.2" fill="#8fa079" opacity="0.80"/>
<rect x="116.5" y="467.3" width="1.2" height="7.8" fill="#c2c696" opacity="0.67"/>
<rect x="118.3" y="466.5" width="1.0" height="9.9" fill="#8fa079" opacity="0.71"/>
<rect x="120.3" y="466.7" width="0.8" height="8.8" fill="#a9b487" opacity="0.69"/>
<rect x="121.9" y="467.5" width="1.2" height="7.7" fill="#a9b487" opacity="0.51"/>
<rect x="124.1" y="468.5" width="1.0" height="7.5" fill="#8fa079" opacity="0.55"/>
<rect x="125.6" y="467.5" width="1.2" height="7.5" fill="#8fa079" opacity="0.77"/>
<rect x="127.6" y="468.5" width="1.0" height="7.5" fill="#8fa079" opacity="0.73"/>
<rect x="129.1" y="467.5" width="0.8" height="8.8" fill="#9aa878" opacity="0.56"/>
<rect x="107.0" y="477.0" width="23.0" height="0.6" fill="#9fb08a" opacity="0.6"/>
<rect x="107.0" y="486.1" width="0.8" height="6.8" fill="#a9b487" opacity="0.40"/>
<rect x="108.6" y="485.5" width="1.0" height="6.9" fill="#9aa878" opacity="0.54"/>
<rect x="110.2" y="486.7" width="0.8" height="5.9" fill="#a9b487" opacity="0.82"/>
<rect x="111.6" y="484.8" width="0.8" height="7.9" fill="#8fa079" opacity="0.58"/>
<rect x="113.2" y="486.7" width="0.7" height="4.1" fill="#9aa878" opacity="0.69"/>
<rect x="114.9" y="486.9" width="1.2" height="6.0" fill="#9aa878" opacity="0.41"/>
<rect x="116.7" y="486.9" width="0.8" height="5.9" fill="#9aa878" opacity="0.65"/>
<rect x="118.1" y="485.9" width="0.8" height="5.5" fill="#d0d2a6" opacity="0.77"/>
<rect x="119.5" y="486.2" width="1.0" height="4.3" fill="#d0d2a6" opacity="0.72"/>
<rect x="121.0" y="486.5" width="1.2" height="5.4" fill="#d0d2a6" opacity="0.48"/>
<rect x="122.7" y="484.7" width="1.0" height="7.5" fill="#8fa079" opacity="0.72"/>
<rect x="124.5" y="486.9" width="1.2" height="3.7" fill="#8fa079" opacity="0.69"/>
<rect x="126.3" y="484.6" width="0.7" height="7.7" fill="#c2c696" opacity="0.78"/>
<rect x="127.6" y="485.4" width="0.8" height="5.4" fill="#8fa079" opacity="0.67"/>
<rect x="129.4" y="485.9" width="1.2" height="7.1" fill="#a9b487" opacity="0.60"/>
<rect x="107.0" y="492.6" width="23.0" height="0.6" fill="#9fb08a" opacity="0.6"/>
<rect x="70.4" y="381.5" width="1" height="7.2" fill="#a8b68c" opacity="0.55"/>
<rect x="72.4" y="382.3" width="1.1" height="5.6" fill="#c4c89a" opacity="0.55"/>
<rect x="78.2" y="381.5" width="1" height="7.2" fill="#a8b68c" opacity="0.55"/>
<rect x="80.2" y="382.3" width="1.1" height="5.6" fill="#c4c89a" opacity="0.55"/>
<rect x="85.4" y="381.5" width="1" height="7.2" fill="#a8b68c" opacity="0.55"/>
<rect x="87.4" y="382.3" width="1.1" height="5.6" fill="#c4c89a" opacity="0.55"/>
<rect x="93.4" y="381.5" width="1" height="7.2" fill="#a8b68c" opacity="0.55"/>
<rect x="95.4" y="382.3" width="1.1" height="5.6" fill="#c4c89a" opacity="0.55"/>
<rect x="68.1" y="466.6" width="1" height="9.4" fill="#a8b68c" opacity="0.55"/>
<rect x="70.1" y="467.40000000000003" width="1.1" height="7.8" fill="#c4c89a" opacity="0.55"/>
<rect x="78.2" y="466.6" width="1" height="9.4" fill="#a8b68c" opacity="0.55"/>
<rect x="80.2" y="467.40000000000003" width="1.1" height="7.8" fill="#c4c89a" opacity="0.55"/>
<rect x="86.1" y="466.6" width="1" height="9.4" fill="#a8b68c" opacity="0.55"/>
<rect x="88.1" y="467.40000000000003" width="1.1" height="7.8" fill="#c4c89a" opacity="0.55"/>
<rect x="94.0" y="466.6" width="1" height="9.4" fill="#a8b68c" opacity="0.55"/>
<rect x="96.0" y="467.40000000000003" width="1.1" height="7.8" fill="#c4c89a" opacity="0.55"/>
<rect x="83" y="398" width="8.5" height="4" fill="#d5ddc8" opacity="0.6"/><rect x="82" y="404" width="10" height="0.6" fill="#a8b890" opacity="0.7"/>
<rect x="69.3" y="409.5" width="8.2" height="7" rx="1.6" fill="#7b8260" stroke="#aeb284" stroke-width="0.7"/>
<rect x="70.89999999999999" y="411.7" width="5" height="2.4" fill="#5f6f54" opacity="0.8"/>
<rect x="69.3" y="418.7" width="8.2" height="7" rx="1.6" fill="#7b8260" stroke="#aeb284" stroke-width="0.7"/>
<rect x="70.89999999999999" y="420.9" width="5" height="2.4" fill="#5f6f54" opacity="0.8"/>
<rect x="69.3" y="427.9" width="8.2" height="7" rx="1.6" fill="#7b8260" stroke="#aeb284" stroke-width="0.7"/>
<rect x="70.89999999999999" y="430.1" width="5" height="2.4" fill="#5f6f54" opacity="0.8"/>
<rect x="69.3" y="437.1" width="8.2" height="7" rx="1.6" fill="#7b8260" stroke="#aeb284" stroke-width="0.7"/>
<rect x="70.89999999999999" y="439.3" width="5" height="2.4" fill="#5f6f54" opacity="0.8"/>
<rect x="83.8" y="409.5" width="8.2" height="7" rx="1.6" fill="#7b8260" stroke="#aeb284" stroke-width="0.7"/>
<rect x="85.39999999999999" y="411.7" width="5" height="2.4" fill="#5f6f54" opacity="0.8"/>
<rect x="83.8" y="418.7" width="8.2" height="7" rx="1.6" fill="#7b8260" stroke="#aeb284" stroke-width="0.7"/>
<rect x="85.39999999999999" y="420.9" width="5" height="2.4" fill="#5f6f54" opacity="0.8"/>
<rect x="83.8" y="427.9" width="8.2" height="7" rx="1.6" fill="#7b8260" stroke="#aeb284" stroke-width="0.7"/>
<rect x="85.39999999999999" y="430.1" width="5" height="2.4" fill="#5f6f54" opacity="0.8"/>
<rect x="83.8" y="437.1" width="8.2" height="7" rx="1.6" fill="#7b8260" stroke="#aeb284" stroke-width="0.7"/>
<rect x="85.39999999999999" y="439.3" width="5" height="2.4" fill="#5f6f54" opacity="0.8"/>
<rect x="61.0" y="449.7" width="1.0" height="6.2" fill="#9aa878" opacity="0.81"/>
<rect x="62.6" y="449.0" width="0.7" height="6.0" fill="#8fa079" opacity="0.84"/>
<rect x="63.8" y="450.4" width="0.7" height="5.3" fill="#a9b487" opacity="0.73"/>
<rect x="65.0" y="451.1" width="1.0" height="4.9" fill="#a9b487" opacity="0.80"/>
<rect x="67.0" y="449.2" width="0.7" height="8.0" fill="#a9b487" opacity="0.77"/>
<rect x="68.5" y="448.9" width="1.2" height="6.5" fill="#c2c696" opacity="0.53"/>
<rect x="70.5" y="449.6" width="1.2" height="5.4" fill="#a9b487" opacity="0.72"/>
<rect x="72.5" y="450.2" width="1.0" height="5.9" fill="#8fa079" opacity="0.68"/>
<rect x="74.0" y="450.0" width="1.2" height="7.1" fill="#d0d2a6" opacity="0.72"/>
<rect x="75.8" y="449.4" width="0.7" height="6.8" fill="#9aa878" opacity="0.49"/>
<rect x="77.0" y="448.9" width="0.7" height="6.6" fill="#c2c696" opacity="0.84"/>
<rect x="78.5" y="449.1" width="1.0" height="6.2" fill="#c2c696" opacity="0.62"/>
<rect x="80.0" y="451.2" width="0.7" height="4.7" fill="#a9b487" opacity="0.68"/>
<rect x="81.5" y="449.7" width="0.7" height="5.4" fill="#a9b487" opacity="0.59"/>
<rect x="82.7" y="449.4" width="1.0" height="5.7" fill="#9aa878" opacity="0.48"/>
<rect x="84.3" y="450.2" width="1.2" height="5.4" fill="#9aa878" opacity="0.69"/>
<rect x="61.0" y="456.9" width="24.6" height="0.6" fill="#9fb08a" opacity="0.6"/>
<rect x="55.5" y="469.8" width="2.6" height="4" fill="#d1cf78"/>
<rect x="88.2" y="432.8" width="0.9" height="0.9" fill="#b9c9a6" opacity="0.55"/>
<rect x="75.0" y="436.9" width="0.9" height="0.9" fill="#b9c9a6" opacity="0.36"/>
<rect x="76.3" y="454.2" width="0.9" height="0.9" fill="#b9c9a6" opacity="0.34"/>
<rect x="53.1" y="408.8" width="0.9" height="0.9" fill="#b9c9a6" opacity="0.47"/>
<rect x="99.7" y="431.0" width="0.9" height="0.9" fill="#b9c9a6" opacity="0.34"/>
<rect x="105.5" y="471.8" width="0.9" height="0.9" fill="#b9c9a6" opacity="0.47"/>
<rect x="102.3" y="490.8" width="0.9" height="0.9" fill="#b9c9a6" opacity="0.50"/>
<rect x="90.3" y="410.6" width="0.9" height="0.9" fill="#b9c9a6" opacity="0.33"/>
<rect x="125.6" y="399.1" width="0.9" height="0.9" fill="#b9c9a6" opacity="0.58"/>
<rect x="129.5" y="387.1" width="0.9" height="0.9" fill="#b9c9a6" opacity="0.48"/>
<rect x="49.5" y="385.3" width="0.9" height="0.9" fill="#b9c9a6" opacity="0.30"/>
<rect x="60.2" y="404.1" width="0.9" height="0.9" fill="#b9c9a6" opacity="0.35"/>
<rect x="40.9" y="482.7" width="0.9" height="0.9" fill="#b9c9a6" opacity="0.35"/>
<rect x="118.5" y="425.4" width="0.9" height="0.9" fill="#b9c9a6" opacity="0.25"/>
<rect x="115.4" y="421.9" width="0.9" height="0.9" fill="#b9c9a6" opacity="0.33"/>
<rect x="128.1" y="403.9" width="0.9" height="0.9" fill="#b9c9a6" opacity="0.26"/>
<rect x="55.7" y="460.5" width="0.9" height="0.9" fill="#b9c9a6" opacity="0.25"/>
<rect x="54.2" y="475.2" width="0.9" height="0.9" fill="#b9c9a6" opacity="0.50"/>
<rect x="88.7" y="448.8" width="0.9" height="0.9" fill="#b9c9a6" opacity="0.55"/>
<rect x="96.8" y="449.5" width="0.9" height="0.9" fill="#b9c9a6" opacity="0.56"/>
<rect x="94.2" y="440.7" width="0.9" height="0.9" fill="#b9c9a6" opacity="0.33"/>
<rect x="48.2" y="381.9" width="0.9" height="0.9" fill="#b9c9a6" opacity="0.40"/>
<rect x="56.0" y="455.7" width="0.9" height="0.9" fill="#b9c9a6" opacity="0.56"/>
<rect x="54.2" y="417.2" width="0.9" height="0.9" fill="#b9c9a6" opacity="0.50"/>
<rect x="45.6" y="474.7" width="0.9" height="0.9" fill="#b9c9a6" opacity="0.42"/>
<rect x="32.0" y="475.9" width="0.9" height="0.9" fill="#b9c9a6" opacity="0.43"/>
<rect x="96.1" y="477.7" width="0.9" height="0.9" fill="#b9c9a6" opacity="0.56"/>
<rect x="62.8" y="367.4" width="0.9" height="0.9" fill="#b9c9a6" opacity="0.54"/>
<rect x="120.8" y="379.6" width="0.9" height="0.9" fill="#b9c9a6" opacity="0.34"/>
<rect x="51.8" y="457.7" width="0.9" height="0.9" fill="#b9c9a6" opacity="0.58"/>
<rect x="50.0" y="410.6" width="0.9" height="0.9" fill="#b9c9a6" opacity="0.55"/>
<rect x="75.7" y="392.2" width="0.9" height="0.9" fill="#b9c9a6" opacity="0.42"/>
<rect x="31.6" y="467.4" width="0.9" height="0.9" fill="#b9c9a6" opacity="0.38"/>
<rect x="64.3" y="461.0" width="0.9" height="0.9" fill="#b9c9a6" opacity="0.41"/>
<rect x="129.0" y="389.5" width="0.9" height="0.9" fill="#b9c9a6" opacity="0.43"/>
<rect x="123.3" y="459.3" width="0.9" height="0.9" fill="#b9c9a6" opacity="0.46"/>
<rect x="93.8" y="398.3" width="0.9" height="0.9" fill="#b9c9a6" opacity="0.38"/>
<rect x="36.2" y="375.6" width="0.9" height="0.9" fill="#b9c9a6" opacity="0.57"/>
<rect x="92.9" y="452.4" width="0.9" height="0.9" fill="#b9c9a6" opacity="0.45"/>
<rect x="40.9" y="404.8" width="0.9" height="0.9" fill="#b9c9a6" opacity="0.39"/>
<rect x="125.4" y="490.4" width="0.9" height="0.9" fill="#b9c9a6" opacity="0.60"/>
<rect x="126.1" y="425.2" width="0.9" height="0.9" fill="#b9c9a6" opacity="0.31"/>
<rect x="122.9" y="374.8" width="0.9" height="0.9" fill="#b9c9a6" opacity="0.53"/>
<rect x="49.3" y="448.2" width="0.9" height="0.9" fill="#b9c9a6" opacity="0.50"/>
<rect x="111.5" y="384.7" width="0.9" height="0.9" fill="#b9c9a6" opacity="0.48"/>
<rect x="113.1" y="467.8" width="0.9" height="0.9" fill="#b9c9a6" opacity="0.39"/>
<rect x="129.6" y="463.3" width="0.9" height="0.9" fill="#b9c9a6" opacity="0.48"/>
<rect x="108.0" y="426.1" width="0.9" height="0.9" fill="#b9c9a6" opacity="0.52"/>
<rect x="53.0" y="456.1" width="0.9" height="0.9" fill="#b9c9a6" opacity="0.49"/>
<rect x="128.3" y="452.9" width="0.9" height="0.9" fill="#b9c9a6" opacity="0.42"/>
<rect x="110.5" y="468.3" width="0.9" height="0.9" fill="#b9c9a6" opacity="0.38"/>
<rect x="95.4" y="407.0" width="0.9" height="0.9" fill="#b9c9a6" opacity="0.42"/>
<rect x="92.3" y="376.9" width="0.9" height="0.9" fill="#b9c9a6" opacity="0.56"/>
<rect x="45.3" y="404.8" width="0.9" height="0.9" fill="#b9c9a6" opacity="0.38"/>
<rect x="38.5" y="438.3" width="0.9" height="0.9" fill="#b9c9a6" opacity="0.36"/>
<rect x="124.3" y="433.9" width="0.9" height="0.9" fill="#b9c9a6" opacity="0.37"/>
<rect x="88.2" y="450.1" width="0.9" height="0.9" fill="#b9c9a6" opacity="0.32"/>
<rect x="37.2" y="403.5" width="0.9" height="0.9" fill="#b9c9a6" opacity="0.46"/>
<rect x="87.8" y="475.3" width="0.9" height="0.9" fill="#b9c9a6" opacity="0.31"/>
<rect x="75.2" y="466.5" width="0.9" height="0.9" fill="#b9c9a6" opacity="0.32"/>
<rect x="70.2" y="434.4" width="0.9" height="0.9" fill="#b9c9a6" opacity="0.46"/>
<rect x="98.8" y="491.1" width="0.9" height="0.9" fill="#b9c9a6" opacity="0.28"/>
<rect x="120.2" y="436.2" width="0.9" height="0.9" fill="#b9c9a6" opacity="0.47"/>
<rect x="59.7" y="429.3" width="0.9" height="0.9" fill="#b9c9a6" opacity="0.32"/>
<rect x="37.9" y="473.4" width="0.9" height="0.9" fill="#b9c9a6" opacity="0.48"/>
<rect x="41.7" y="381.2" width="0.9" height="0.9" fill="#b9c9a6" opacity="0.40"/>
<rect x="112.7" y="426.6" width="0.9" height="0.9" fill="#b9c9a6" opacity="0.45"/>
<rect x="78.4" y="481.9" width="0.9" height="0.9" fill="#b9c9a6" opacity="0.50"/>
<rect x="54.7" y="387.1" width="0.9" height="0.9" fill="#b9c9a6" opacity="0.46"/>
<rect x="103.5" y="386.5" width="0.9" height="0.9" fill="#b9c9a6" opacity="0.36"/>
<rect x="62" y="400.0" width="0.7" height="1.6" fill="#93a888" opacity="0.55"/>
<rect x="62" y="403.4" width="0.7" height="1.6" fill="#93a888" opacity="0.55"/>
<rect x="62" y="406.8" width="0.7" height="1.6" fill="#93a888" opacity="0.55"/>
<rect x="62" y="410.2" width="0.7" height="1.6" fill="#93a888" opacity="0.55"/>
<rect x="62" y="413.6" width="0.7" height="1.6" fill="#93a888" opacity="0.55"/>
<rect x="62" y="417.0" width="0.7" height="1.6" fill="#93a888" opacity="0.55"/>
<rect x="62" y="420.4" width="0.7" height="1.6" fill="#93a888" opacity="0.55"/>
<rect x="62" y="423.8" width="0.7" height="1.6" fill="#93a888" opacity="0.55"/>
<rect x="62" y="427.2" width="0.7" height="1.6" fill="#93a888" opacity="0.55"/>
<rect x="62" y="430.6" width="0.7" height="1.6" fill="#93a888" opacity="0.55"/>
<rect x="62" y="434.0" width="0.7" height="1.6" fill="#93a888" opacity="0.55"/>
<rect x="62" y="437.4" width="0.7" height="1.6" fill="#93a888" opacity="0.55"/>
<rect x="62" y="440.8" width="0.7" height="1.6" fill="#93a888" opacity="0.55"/>
<rect x="62" y="444.2" width="0.7" height="1.6" fill="#93a888" opacity="0.55"/>
<rect x="65" y="405.0" width="0.7" height="1.6" fill="#93a888" opacity="0.55"/>
<rect x="65" y="408.4" width="0.7" height="1.6" fill="#93a888" opacity="0.55"/>
<rect x="65" y="411.8" width="0.7" height="1.6" fill="#93a888" opacity="0.55"/>
<rect x="65" y="415.2" width="0.7" height="1.6" fill="#93a888" opacity="0.55"/>
<rect x="65" y="418.6" width="0.7" height="1.6" fill="#93a888" opacity="0.55"/>
<rect x="65" y="422.0" width="0.7" height="1.6" fill="#93a888" opacity="0.55"/>
<rect x="65" y="425.4" width="0.7" height="1.6" fill="#93a888" opacity="0.55"/>
<rect x="65" y="428.8" width="0.7" height="1.6" fill="#93a888" opacity="0.55"/>
<rect x="65" y="432.2" width="0.7" height="1.6" fill="#93a888" opacity="0.55"/>
<rect x="65" y="435.6" width="0.7" height="1.6" fill="#93a888" opacity="0.55"/>
<rect x="65" y="439.0" width="0.7" height="1.6" fill="#93a888" opacity="0.55"/>
<rect x="98" y="398.0" width="0.7" height="1.6" fill="#93a888" opacity="0.55"/>
<rect x="98" y="401.4" width="0.7" height="1.6" fill="#93a888" opacity="0.55"/>
<rect x="98" y="404.8" width="0.7" height="1.6" fill="#93a888" opacity="0.55"/>
<rect x="98" y="408.2" width="0.7" height="1.6" fill="#93a888" opacity="0.55"/>
<rect x="98" y="411.6" width="0.7" height="1.6" fill="#93a888" opacity="0.55"/>
<rect x="98" y="415.0" width="0.7" height="1.6" fill="#93a888" opacity="0.55"/>
<rect x="98" y="418.4" width="0.7" height="1.6" fill="#93a888" opacity="0.55"/>
<rect x="98" y="421.8" width="0.7" height="1.6" fill="#93a888" opacity="0.55"/>
<rect x="98" y="425.2" width="0.7" height="1.6" fill="#93a888" opacity="0.55"/>
<rect x="98" y="428.6" width="0.7" height="1.6" fill="#93a888" opacity="0.55"/>
<rect x="98" y="432.0" width="0.7" height="1.6" fill="#93a888" opacity="0.55"/>
<rect x="98" y="435.4" width="0.7" height="1.6" fill="#93a888" opacity="0.55"/>
<rect x="98" y="438.8" width="0.7" height="1.6" fill="#93a888" opacity="0.55"/>
<rect x="98" y="442.2" width="0.7" height="1.6" fill="#93a888" opacity="0.55"/>
<rect x="98" y="445.6" width="0.7" height="1.6" fill="#93a888" opacity="0.55"/>
<rect x="98" y="449.0" width="0.7" height="1.6" fill="#93a888" opacity="0.55"/>
<rect x="101" y="402.0" width="0.7" height="1.6" fill="#93a888" opacity="0.55"/>
<rect x="101" y="405.4" width="0.7" height="1.6" fill="#93a888" opacity="0.55"/>
<rect x="101" y="408.8" width="0.7" height="1.6" fill="#93a888" opacity="0.55"/>
<rect x="101" y="412.2" width="0.7" height="1.6" fill="#93a888" opacity="0.55"/>
<rect x="101" y="415.6" width="0.7" height="1.6" fill="#93a888" opacity="0.55"/>
<rect x="101" y="419.0" width="0.7" height="1.6" fill="#93a888" opacity="0.55"/>
<rect x="101" y="422.4" width="0.7" height="1.6" fill="#93a888" opacity="0.55"/>
<rect x="101" y="425.8" width="0.7" height="1.6" fill="#93a888" opacity="0.55"/>
<rect x="101" y="429.2" width="0.7" height="1.6" fill="#93a888" opacity="0.55"/>
<rect x="101" y="432.6" width="0.7" height="1.6" fill="#93a888" opacity="0.55"/>
<rect x="101" y="436.0" width="0.7" height="1.6" fill="#93a888" opacity="0.55"/>
<rect x="101" y="439.4" width="0.7" height="1.6" fill="#93a888" opacity="0.55"/>
<rect x="101" y="442.8" width="0.7" height="1.6" fill="#93a888" opacity="0.55"/>
<rect x="103.5" y="375.0" width="0.7" height="1.6" fill="#93a888" opacity="0.55"/>
<rect x="103.5" y="378.4" width="0.7" height="1.6" fill="#93a888" opacity="0.55"/>
<rect x="103.5" y="381.8" width="0.7" height="1.6" fill="#93a888" opacity="0.55"/>
<rect x="103.5" y="385.2" width="0.7" height="1.6" fill="#93a888" opacity="0.55"/>
<rect x="103.5" y="388.6" width="0.7" height="1.6" fill="#93a888" opacity="0.55"/>
<rect x="103.5" y="392.0" width="0.7" height="1.6" fill="#93a888" opacity="0.55"/>
<rect x="103.5" y="395.4" width="0.7" height="1.6" fill="#93a888" opacity="0.55"/>
</g>
</g>
<!-- photo 4 : interposer board -->
<g>
<circle cx="892.0" cy="431.3" r="68.8" fill="#fff"/>
<g clip-path="url(#cp4)" filter="url(#soft)">
<circle cx="892.0" cy="431.3" r="66" fill="url(#p4disk)"/>
<path d="M870.3 385.0 Q874.5 378.2 882.5 378.2 L887.5 378.2 Q895.5 378.2 902.1 382.7 L940.4 408.3 Q947.0 412.8 947.0 420.6 L947.0 420.6 Q947.0 428.5 942.9 435.4 L917.6 478.1 Q913.5 485.0 905.5 485.0 L905.5 485.0 Q897.6 485.0 890.6 481.1 L847.0 456.5 Q840.0 452.6 840.0 444.6 L840.0 442.2 Q840.0 434.2 844.2 427.4 Z" fill="url(#p4gold)"/>
<path d="M853.3 380.6 L865.1 387.7 L841.5 425.5 L829.1 419Z" fill="url(#p4dots0)"/>
<path d="M906.6 369.3 L944 393.8 L937.5 403.8 L900.2 378.7Z" fill="url(#p4dots1)"/>
<path d="M849.2 460.9 L888 482.5 L883 493.2 L843.4 471.7Z" fill="url(#p4dots0)"/>
<path d="M944.5 437.7 L956.3 444.8 L933.9 480.8 L923.3 473.7Z" fill="url(#p4dots1)"/>
<g fill="none" stroke="#8d7a33" stroke-width="0.6" opacity="0.75">
<path d="M889 381 L889 392 L881 402 L884 416 L892 423"/>
<path d="M892 423 L905 428 L931 407 L940 405"/>
<path d="M845 446 L858 446 L872 434 L888 431"/>
<path d="M896 436 L900 452 L907 466 L905 484"/>
<path d="M880 420 h22 M880 424 h22 M884 428 h24 M886 432 h20 M888 417 v18 M896 419 v18"/>
</g>
<g fill="#9a8638" opacity="0.7">
<rect x="874.0" y="384.0" width="0.9" height="0.9"/>
<rect x="874.0" y="386.0" width="0.9" height="0.9"/>
<rect x="874.0" y="388.0" width="0.9" height="0.9"/>
<rect x="874.0" y="390.0" width="0.9" height="0.9"/>
<rect x="876.0" y="384.0" width="0.9" height="0.9"/>
<rect x="876.0" y="386.0" width="0.9" height="0.9"/>
<rect x="876.0" y="388.0" width="0.9" height="0.9"/>
<rect x="876.0" y="390.0" width="0.9" height="0.9"/>
<rect x="878.0" y="384.0" width="0.9" height="0.9"/>
<rect x="878.0" y="386.0" width="0.9" height="0.9"/>
<rect x="878.0" y="388.0" width="0.9" height="0.9"/>
<rect x="878.0" y="390.0" width="0.9" height="0.9"/>
<rect x="880.0" y="384.0" width="0.9" height="0.9"/>
<rect x="880.0" y="386.0" width="0.9" height="0.9"/>
<rect x="880.0" y="388.0" width="0.9" height="0.9"/>
<rect x="880.0" y="390.0" width="0.9" height="0.9"/>
<rect x="897.0" y="392.0" width="0.9" height="0.9"/>
<rect x="897.0" y="394.0" width="0.9" height="0.9"/>
<rect x="899.0" y="392.0" width="0.9" height="0.9"/>
<rect x="899.0" y="394.0" width="0.9" height="0.9"/>
<rect x="901.0" y="392.0" width="0.9" height="0.9"/>
<rect x="901.0" y="394.0" width="0.9" height="0.9"/>
<rect x="904.0" y="400.0" width="0.9" height="0.9"/>
<rect x="904.0" y="402.0" width="0.9" height="0.9"/>
<rect x="904.0" y="404.0" width="0.9" height="0.9"/>
<rect x="904.0" y="406.0" width="0.9" height="0.9"/>
<rect x="906.0" y="400.0" width="0.9" height="0.9"/>
<rect x="906.0" y="402.0" width="0.9" height="0.9"/>
<rect x="906.0" y="404.0" width="0.9" height="0.9"/>
<rect x="906.0" y="406.0" width="0.9" height="0.9"/>
<rect x="908.0" y="400.0" width="0.9" height="0.9"/>
<rect x="908.0" y="402.0" width="0.9" height="0.9"/>
<rect x="908.0" y="404.0" width="0.9" height="0.9"/>
<rect x="908.0" y="406.0" width="0.9" height="0.9"/>
<rect x="910.0" y="400.0" width="0.9" height="0.9"/>
<rect x="910.0" y="402.0" width="0.9" height="0.9"/>
<rect x="910.0" y="404.0" width="0.9" height="0.9"/>
<rect x="910.0" y="406.0" width="0.9" height="0.9"/>
<rect x="912.0" y="400.0" width="0.9" height="0.9"/>
<rect x="912.0" y="402.0" width="0.9" height="0.9"/>
<rect x="912.0" y="404.0" width="0.9" height="0.9"/>
<rect x="912.0" y="406.0" width="0.9" height="0.9"/>
<rect x="914.0" y="400.0" width="0.9" height="0.9"/>
<rect x="914.0" y="402.0" width="0.9" height="0.9"/>
<rect x="914.0" y="404.0" width="0.9" height="0.9"/>
<rect x="914.0" y="406.0" width="0.9" height="0.9"/>
<rect x="917.0" y="412.0" width="0.9" height="0.9"/>
<rect x="917.0" y="414.0" width="0.9" height="0.9"/>
<rect x="917.0" y="416.0" width="0.9" height="0.9"/>
<rect x="917.0" y="418.0" width="0.9" height="0.9"/>
<rect x="919.0" y="412.0" width="0.9" height="0.9"/>
<rect x="919.0" y="414.0" width="0.9" height="0.9"/>
<rect x="919.0" y="416.0" width="0.9" height="0.9"/>
<rect x="919.0" y="418.0" width="0.9" height="0.9"/>
<rect x="921.0" y="412.0" width="0.9" height="0.9"/>
<rect x="921.0" y="414.0" width="0.9" height="0.9"/>
<rect x="921.0" y="416.0" width="0.9" height="0.9"/>
<rect x="921.0" y="418.0" width="0.9" height="0.9"/>
<rect x="923.0" y="412.0" width="0.9" height="0.9"/>
<rect x="923.0" y="414.0" width="0.9" height="0.9"/>
<rect x="923.0" y="416.0" width="0.9" height="0.9"/>
<rect x="923.0" y="418.0" width="0.9" height="0.9"/>
<rect x="925.0" y="412.0" width="0.9" height="0.9"/>
<rect x="925.0" y="414.0" width="0.9" height="0.9"/>
<rect x="925.0" y="416.0" width="0.9" height="0.9"/>
<rect x="925.0" y="418.0" width="0.9" height="0.9"/>
<rect x="848.0" y="448.0" width="0.9" height="0.9"/>
<rect x="848.0" y="450.0" width="0.9" height="0.9"/>
<rect x="848.0" y="452.0" width="0.9" height="0.9"/>
<rect x="848.0" y="454.0" width="0.9" height="0.9"/>
<rect x="850.0" y="448.0" width="0.9" height="0.9"/>
<rect x="850.0" y="450.0" width="0.9" height="0.9"/>
<rect x="850.0" y="452.0" width="0.9" height="0.9"/>
<rect x="850.0" y="454.0" width="0.9" height="0.9"/>
<rect x="852.0" y="448.0" width="0.9" height="0.9"/>
<rect x="852.0" y="450.0" width="0.9" height="0.9"/>
<rect x="852.0" y="452.0" width="0.9" height="0.9"/>
<rect x="852.0" y="454.0" width="0.9" height="0.9"/>
<rect x="854.0" y="448.0" width="0.9" height="0.9"/>
<rect x="854.0" y="450.0" width="0.9" height="0.9"/>
<rect x="854.0" y="452.0" width="0.9" height="0.9"/>
<rect x="854.0" y="454.0" width="0.9" height="0.9"/>
<rect x="856.0" y="448.0" width="0.9" height="0.9"/>
<rect x="856.0" y="450.0" width="0.9" height="0.9"/>
<rect x="856.0" y="452.0" width="0.9" height="0.9"/>
<rect x="856.0" y="454.0" width="0.9" height="0.9"/>
<rect x="862.0" y="455.0" width="0.9" height="0.9"/>
<rect x="862.0" y="457.0" width="0.9" height="0.9"/>
<rect x="862.0" y="459.0" width="0.9" height="0.9"/>
<rect x="862.0" y="461.0" width="0.9" height="0.9"/>
<rect x="862.0" y="463.0" width="0.9" height="0.9"/>
<rect x="864.0" y="455.0" width="0.9" height="0.9"/>
<rect x="864.0" y="457.0" width="0.9" height="0.9"/>
<rect x="864.0" y="459.0" width="0.9" height="0.9"/>
<rect x="864.0" y="461.0" width="0.9" height="0.9"/>
<rect x="864.0" y="463.0" width="0.9" height="0.9"/>
<rect x="866.0" y="455.0" width="0.9" height="0.9"/>
<rect x="866.0" y="457.0" width="0.9" height="0.9"/>
<rect x="866.0" y="459.0" width="0.9" height="0.9"/>
<rect x="866.0" y="461.0" width="0.9" height="0.9"/>
<rect x="866.0" y="463.0" width="0.9" height="0.9"/>
<rect x="868.0" y="455.0" width="0.9" height="0.9"/>
<rect x="868.0" y="457.0" width="0.9" height="0.9"/>
<rect x="868.0" y="459.0" width="0.9" height="0.9"/>
<rect x="868.0" y="461.0" width="0.9" height="0.9"/>
<rect x="868.0" y="463.0" width="0.9" height="0.9"/>
<rect x="870.0" y="455.0" width="0.9" height="0.9"/>
<rect x="870.0" y="457.0" width="0.9" height="0.9"/>
<rect x="870.0" y="459.0" width="0.9" height="0.9"/>
<rect x="870.0" y="461.0" width="0.9" height="0.9"/>
<rect x="870.0" y="463.0" width="0.9" height="0.9"/>
<rect x="884.0" y="462.0" width="0.9" height="0.9"/>
<rect x="884.0" y="464.0" width="0.9" height="0.9"/>
<rect x="884.0" y="466.0" width="0.9" height="0.9"/>
<rect x="884.0" y="468.0" width="0.9" height="0.9"/>
<rect x="884.0" y="470.0" width="0.9" height="0.9"/>
<rect x="886.0" y="462.0" width="0.9" height="0.9"/>
<rect x="886.0" y="464.0" width="0.9" height="0.9"/>
<rect x="886.0" y="466.0" width="0.9" height="0.9"/>
<rect x="886.0" y="468.0" width="0.9" height="0.9"/>
<rect x="886.0" y="470.0" width="0.9" height="0.9"/>
<rect x="888.0" y="462.0" width="0.9" height="0.9"/>
<rect x="888.0" y="464.0" width="0.9" height="0.9"/>
<rect x="888.0" y="466.0" width="0.9" height="0.9"/>
<rect x="888.0" y="468.0" width="0.9" height="0.9"/>
<rect x="888.0" y="470.0" width="0.9" height="0.9"/>
<rect x="890.0" y="462.0" width="0.9" height="0.9"/>
<rect x="890.0" y="464.0" width="0.9" height="0.9"/>
<rect x="890.0" y="466.0" width="0.9" height="0.9"/>
<rect x="890.0" y="468.0" width="0.9" height="0.9"/>
<rect x="890.0" y="470.0" width="0.9" height="0.9"/>
<rect x="902.0" y="470.0" width="0.9" height="0.9"/>
<rect x="902.0" y="472.0" width="0.9" height="0.9"/>
<rect x="902.0" y="474.0" width="0.9" height="0.9"/>
<rect x="902.0" y="476.0" width="0.9" height="0.9"/>
<rect x="904.0" y="470.0" width="0.9" height="0.9"/>
<rect x="904.0" y="472.0" width="0.9" height="0.9"/>
<rect x="904.0" y="474.0" width="0.9" height="0.9"/>
<rect x="904.0" y="476.0" width="0.9" height="0.9"/>
<rect x="906.0" y="470.0" width="0.9" height="0.9"/>
<rect x="906.0" y="472.0" width="0.9" height="0.9"/>
<rect x="906.0" y="474.0" width="0.9" height="0.9"/>
<rect x="906.0" y="476.0" width="0.9" height="0.9"/>
<rect x="908.0" y="470.0" width="0.9" height="0.9"/>
<rect x="908.0" y="472.0" width="0.9" height="0.9"/>
<rect x="908.0" y="474.0" width="0.9" height="0.9"/>
<rect x="908.0" y="476.0" width="0.9" height="0.9"/>
<rect x="910.0" y="470.0" width="0.9" height="0.9"/>
<rect x="910.0" y="472.0" width="0.9" height="0.9"/>
<rect x="910.0" y="474.0" width="0.9" height="0.9"/>
<rect x="910.0" y="476.0" width="0.9" height="0.9"/>
<rect x="930.0" y="416.0" width="0.9" height="0.9"/>
<rect x="930.0" y="418.0" width="0.9" height="0.9"/>
<rect x="930.0" y="420.0" width="0.9" height="0.9"/>
<rect x="932.0" y="416.0" width="0.9" height="0.9"/>
<rect x="932.0" y="418.0" width="0.9" height="0.9"/>
<rect x="932.0" y="420.0" width="0.9" height="0.9"/>
<rect x="934.0" y="416.0" width="0.9" height="0.9"/>
<rect x="934.0" y="418.0" width="0.9" height="0.9"/>
<rect x="934.0" y="420.0" width="0.9" height="0.9"/>
<rect x="936.0" y="416.0" width="0.9" height="0.9"/>
<rect x="936.0" y="418.0" width="0.9" height="0.9"/>
<rect x="936.0" y="420.0" width="0.9" height="0.9"/>
</g>
<circle cx="863.3" cy="413.1" r="4.8" fill="#d0c68a"/><circle cx="863.3" cy="413.1" r="3.4" fill="#e9e9f0"/>
<circle cx="869.2" cy="403.6" r="2.9" fill="#8f8f5a"/><circle cx="869.2" cy="403.6" r="1.5" fill="#c8c8b0"/>
<circle cx="858" cy="422.5" r="3.0" fill="#8f8f5a"/><circle cx="858" cy="422.5" r="1.6" fill="#c8c8b0"/>
<circle cx="923.9" cy="449.5" r="4.8" fill="#6d6d3e"/><circle cx="923.9" cy="449.5" r="3.4" fill="#e9e9f0"/>
<circle cx="929.8" cy="440.6" r="2.7" fill="#4f5a34"/><circle cx="929.8" cy="440.6" r="1.3" fill="#7a7a50"/>
<circle cx="918.6" cy="458.9" r="2.9" fill="#5f6a3c"/><circle cx="918.6" cy="458.9" r="1.5" fill="#a5a580"/>
<circle cx="879.8" cy="372.3" r="2.9" fill="#8f9a86"/><circle cx="879.8" cy="372.3" r="1.7" fill="#d4d4d4"/>
<circle cx="952.2" cy="417.4" r="2.9" fill="#55663f"/><circle cx="952.2" cy="417.4" r="1.7" fill="#3c4a2c"/>
<circle cx="833.1" cy="428.1" r="2.9" fill="#7f8c76"/><circle cx="833.1" cy="428.1" r="1.7" fill="#c4c8bc"/>
<circle cx="833.7" cy="446" r="2.9" fill="#7f8c76"/><circle cx="833.7" cy="446" r="1.7" fill="#b4b8ac"/>
<circle cx="908.5" cy="490.2" r="2.9" fill="#7f8c76"/><circle cx="908.5" cy="490.2" r="1.7" fill="#cfd2c4"/>
<circle cx="952.7" cy="435.1" r="2.9" fill="#5f7040"/><circle cx="952.7" cy="435.1" r="1.7" fill="#465530"/>
</g>
</g>
<!-- labels -->
<g class="en" stroke-width="0.3" stroke-linejoin="round">
<text x="373.4" y="207.4" fill="#375623" stroke="#375623" textLength="84.4" lengthAdjust="spacingAndGlyphs">Probe</text>
<text x="372.5" y="251.4" fill="#375623" stroke="#375623" textLength="62.3" lengthAdjust="spacingAndGlyphs">card</text>
<text x="551.7" y="230" fill="#ffffff" stroke="#ffffff" font-size="31" textLength="48.2" lengthAdjust="spacingAndGlyphs">BIB</text>
<text x="373.5" y="356.2" fill="#1f3864" stroke="#1f3864" textLength="68.2" lengthAdjust="spacingAndGlyphs">Load</text>
<text x="372.6" y="400" fill="#1f3864" stroke="#1f3864" textLength="84.8" lengthAdjust="spacingAndGlyphs">board</text>
<text x="541.8" y="356.6" fill="#ffffff" stroke="#ffffff" font-size="31" textLength="89.2" lengthAdjust="spacingAndGlyphs">INTER</text>
<text x="535.2" y="400.2" fill="#ffffff" stroke="#ffffff" font-size="31" textLength="95.8" lengthAdjust="spacingAndGlyphs">POSER</text>
</g>
<g class="cn">
<text x="176" y="171.1" fill="#375623">晶元测试</text>
<text x="704.2" y="171.1" fill="#375623">老化测试</text>
<text x="180" y="439.8" fill="#1f3864">测试负载板</text>
<text x="704.6" y="440.7" fill="#7030a0">接口板</text>
</g>
<rect x="0.5" y="0.5" width="973" height="592" fill="none" stroke="#d9d9d9" stroke-width="1"/>
</svg>
</body>
</html>
